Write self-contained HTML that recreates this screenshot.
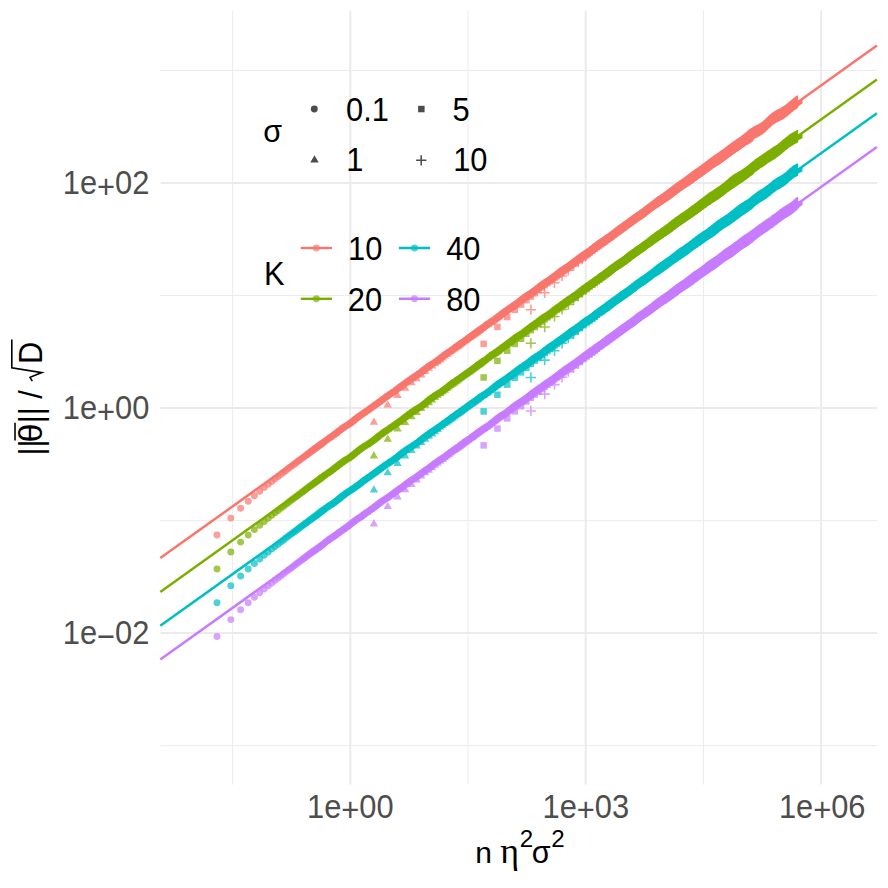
<!DOCTYPE html>
<html><head><meta charset="utf-8"><title>plot</title>
<style>html,body{margin:0;padding:0;background:#fff}svg{display:block}text{font-family:"Liberation Sans",sans-serif}</style></head><body>
<svg width="888" height="888" viewBox="0 0 888 888">
<rect width="888" height="888" fill="#fff"/>
<g stroke="#EBEBEB" fill="none">
<path d="M160.5 70.5H877.2" stroke-width="0.95"/>
<path d="M160.5 295.5H877.2" stroke-width="0.95"/>
<path d="M160.5 520.6H877.2" stroke-width="0.95"/>
<path d="M160.5 745.6H877.2" stroke-width="0.95"/>
<path d="M232.60 10.5V784.6" stroke-width="0.95"/>
<path d="M468.00 10.5V784.6" stroke-width="0.95"/>
<path d="M703.41 10.5V784.6" stroke-width="0.95"/>
<path d="M160.5 183.0H877.2" stroke-width="2.0"/>
<path d="M160.5 408.05H877.2" stroke-width="2.0"/>
<path d="M160.5 633.1H877.2" stroke-width="2.0"/>
<path d="M350.30 10.5V784.6" stroke-width="2.0"/>
<path d="M585.71 10.5V784.6" stroke-width="2.0"/>
<path d="M821.12 10.5V784.6" stroke-width="2.0"/>
</g>
<g>
<g fill="#F8766D" fill-opacity="0.7"><circle cx="217.0" cy="535.0" r="3.475"/><circle cx="230.8" cy="518.1" r="3.475"/><circle cx="240.6" cy="508.2" r="3.475"/><circle cx="248.2" cy="501.2" r="3.475"/><circle cx="254.4" cy="495.7" r="3.475"/><circle cx="259.7" cy="491.3" r="3.475"/><circle cx="264.2" cy="487.5" r="3.475"/><circle cx="268.2" cy="484.3" r="3.475"/><circle cx="271.8" cy="481.4" r="3.475"/><circle cx="275.1" cy="478.8" r="3.475"/><circle cx="278.0" cy="476.5" r="3.475"/><circle cx="280.8" cy="474.5" r="3.475"/><circle cx="283.3" cy="472.5" r="3.475"/><circle cx="285.6" cy="470.7" r="3.475"/><circle cx="287.8" cy="468.9" r="3.475"/><circle cx="289.9" cy="467.3" r="3.475"/><circle cx="291.9" cy="465.9" r="3.475"/><circle cx="293.7" cy="464.5" r="3.475"/><circle cx="295.5" cy="463.2" r="3.475"/><circle cx="297.1" cy="461.9" r="3.475"/><circle cx="298.7" cy="460.8" r="3.475"/><circle cx="300.2" cy="459.7" r="3.475"/><circle cx="301.7" cy="458.6" r="3.475"/><circle cx="303.1" cy="457.6" r="3.475"/><circle cx="304.4" cy="456.6" r="3.475"/><circle cx="305.7" cy="455.6" r="3.475"/><circle cx="306.9" cy="454.7" r="3.475"/><circle cx="308.1" cy="453.8" r="3.475"/><circle cx="309.3" cy="452.9" r="3.475"/><circle cx="310.4" cy="452.0" r="3.475"/><circle cx="311.5" cy="451.2" r="3.475"/><circle cx="312.5" cy="450.4" r="3.475"/><circle cx="313.5" cy="449.7" r="3.475"/><circle cx="314.5" cy="448.9" r="3.475"/><circle cx="315.5" cy="448.3" r="3.475"/><circle cx="316.4" cy="447.6" r="3.475"/><circle cx="317.3" cy="446.9" r="3.475"/><circle cx="318.2" cy="446.3" r="3.475"/><circle cx="319.1" cy="445.7" r="3.475"/><circle cx="319.9" cy="445.1" r="3.475"/><circle cx="320.7" cy="444.5" r="3.475"/><circle cx="321.5" cy="443.9" r="3.475"/><circle cx="322.3" cy="443.3" r="3.475"/><circle cx="323.1" cy="442.7" r="3.475"/></g>
<path fill="none" stroke="#F8766D" stroke-width="6.95" stroke-linecap="round" d="M324.6 441.6h0M326.0 440.6h0M327.4 439.6h0M328.7 438.6h0M329.9 437.8h0M331.1 436.9h0M332.3 436.1h0M333.5 435.3h0M334.6 434.5h0M335.6 433.7h0M336.7 432.9h0M337.7 432.1h0M338.6 431.3h0M339.6 430.6h0M340.5 429.9h0M341.4 429.2h0M342.3 428.5h0M343.1 427.9h0M344.0 427.4h0M344.8 426.8h0M345.9 426.1h0M347.1 425.4h0M348.2 424.7h0M349.3 423.9h0M350.3 423.2h0M351.3 422.5h0M352.3 421.7h0M353.2 421.0h0M354.2 420.3h0M355.1 419.5h0M355.9 418.8h0M356.8 418.2h0M357.6 417.5h0M358.4 416.9h0M359.5 416.1h0M360.5 415.4h0M361.5 414.7h0M362.5 414.1h0M363.4 413.4h0M364.3 412.8h0M365.2 412.2h0M366.1 411.6h0M367.0 411.0h0M367.8 410.4h0M368.6 409.9h0M369.6 409.1h0M370.5 408.5h0M371.4 407.8h0M372.4 407.1h0M373.2 406.5h0M374.1 405.9h0M374.9 405.3h0M375.7 404.7h0M376.7 404.0h0M377.6 403.4h0M378.5 402.7h0M379.4 402.0h0M380.3 401.4h0M381.1 400.8h0M381.9 400.1h0M382.9 399.4h0M383.8 398.7h0M384.7 398.1h0M385.5 397.5h0M386.3 396.9h0M387.2 396.3h0M388.1 395.7h0M389.0 395.1h0M389.8 394.5h0M390.7 394.0h0M391.5 393.4h0M392.3 392.9h0M393.2 392.3h0M394.0 391.7h0M394.9 391.1h0M395.7 390.5h0M396.6 389.8h0M397.5 389.1h0M398.3 388.5h0M399.1 387.9h0M399.9 387.3h0M400.8 386.7h0M401.6 386.0h0M402.5 385.4h0M403.3 384.8h0M404.1 384.2h0M404.9 383.6h0M405.8 383.0h0M406.6 382.4h0M407.5 381.8h0M408.3 381.2h0M409.1 380.6h0M410.0 380.0h0M410.8 379.4h0M411.6 378.8h0M412.5 378.2h0M413.3 377.7h0M414.1 377.1h0M415.0 376.5h0M415.8 376.0h0M416.6 375.5h0M417.4 374.9h0M418.3 374.3h0M419.1 373.8h0M419.9 373.2h0M420.7 372.6h0M421.5 372.0h0M422.4 371.3h0M423.2 370.7h0M424.0 370.0h0M424.8 369.4h0M425.7 368.7h0M426.5 368.1h0M427.3 367.4h0M428.1 366.8h0M428.9 366.2h0M429.7 365.7h0M430.6 365.2h0M431.4 364.6h0M432.2 364.1h0M433.0 363.6h0M433.8 363.1h0M434.6 362.6h0M435.5 362.0h0M436.3 361.5h0M437.1 360.9h0M437.9 360.3h0M438.7 359.7h0M439.5 359.1h0M440.3 358.4h0M441.1 357.8h0M442.0 357.2h0M442.8 356.5h0M443.6 355.9h0M444.4 355.3h0M445.2 354.7h0M446.0 354.2h0M446.8 353.6h0M447.6 353.0h0M448.4 352.5h0M449.3 352.0h0M450.1 351.4h0M450.9 350.9h0M451.7 350.3h0M452.5 349.7h0M453.3 349.1h0M454.1 348.5h0M454.9 347.9h0M455.7 347.3h0M456.5 346.7h0M457.3 346.1h0M458.1 345.5h0M458.9 345.0h0M459.8 344.4h0M460.6 343.8h0M461.4 343.3h0M462.2 342.7h0M463.0 342.2h0M463.8 341.6h0M464.6 341.1h0M465.4 340.5h0M466.2 340.0h0M467.0 339.4h0M467.8 338.8h0M468.6 338.2h0M469.4 337.6h0M470.2 337.0h0M471.0 336.4h0M471.8 335.8h0M472.6 335.2h0M473.4 334.6h0M474.3 334.0h0M475.1 333.4h0M475.9 332.8h0M476.7 332.2h0M477.5 331.7h0M478.3 331.1h0M479.1 330.5h0M479.9 330.0h0M480.7 329.4h0M481.5 328.9h0M482.3 328.3h0M483.1 327.8h0M483.6 327.4h0"/>
<g fill="#F8766D" fill-opacity="0.7"><path d="M373.9 417.5l4.21 7.30h-8.42z"/><path d="M387.7 400.3l4.21 7.30h-8.42z"/><path d="M397.5 390.8l4.21 7.30h-8.42z"/><path d="M405.1 383.5l4.21 7.30h-8.42z"/><path d="M411.4 377.9l4.21 7.30h-8.42z"/><path d="M416.6 373.9l4.21 7.30h-8.42z"/><path d="M421.2 370.2l4.21 7.30h-8.42z"/><path d="M425.2 366.6l4.21 7.30h-8.42z"/><path d="M428.8 363.5l4.21 7.30h-8.42z"/><path d="M432.0 361.1l4.21 7.30h-8.42z"/><path d="M435.0 359.0l4.21 7.30h-8.42z"/><path d="M437.7 357.1l4.21 7.30h-8.42z"/><path d="M440.2 355.1l4.21 7.30h-8.42z"/><path d="M442.6 353.1l4.21 7.30h-8.42z"/><path d="M444.8 351.3l4.21 7.30h-8.42z"/><path d="M446.9 349.6l4.21 7.30h-8.42z"/><path d="M448.8 348.1l4.21 7.30h-8.42z"/><path d="M450.6 346.7l4.21 7.30h-8.42z"/><path d="M452.4 345.5l4.21 7.30h-8.42z"/><path d="M454.1 344.4l4.21 7.30h-8.42z"/><path d="M455.6 343.3l4.21 7.30h-8.42z"/><path d="M457.2 342.3l4.21 7.30h-8.42z"/><path d="M458.6 341.2l4.21 7.30h-8.42z"/><path d="M460.0 340.1l4.21 7.30h-8.42z"/><path d="M461.3 339.0l4.21 7.30h-8.42z"/><path d="M462.6 337.9l4.21 7.30h-8.42z"/><path d="M463.9 336.9l4.21 7.30h-8.42z"/><path d="M465.1 336.0l4.21 7.30h-8.42z"/><path d="M466.2 335.1l4.21 7.30h-8.42z"/><path d="M467.3 334.3l4.21 7.30h-8.42z"/><path d="M468.4 333.5l4.21 7.30h-8.42z"/><path d="M469.5 332.8l4.21 7.30h-8.42z"/><path d="M470.5 332.1l4.21 7.30h-8.42z"/><path d="M471.5 331.4l4.21 7.30h-8.42z"/><path d="M472.4 330.8l4.21 7.30h-8.42z"/><path d="M473.4 330.1l4.21 7.30h-8.42z"/><path d="M474.3 329.5l4.21 7.30h-8.42z"/><path d="M475.2 328.9l4.21 7.30h-8.42z"/><path d="M476.0 328.3l4.21 7.30h-8.42z"/><path d="M476.9 327.7l4.21 7.30h-8.42z"/><path d="M477.7 327.0l4.21 7.30h-8.42z"/><path d="M478.5 326.4l4.21 7.30h-8.42z"/><path d="M479.3 325.8l4.21 7.30h-8.42z"/><path d="M480.0 325.2l4.21 7.30h-8.42z"/></g>
<path fill="#F8766D" d="M481.5 324.0l4.2 7.3h-8.4zM482.9 322.9l4.2 7.3h-8.4zM484.3 321.8l4.2 7.3h-8.4zM485.6 320.8l4.2 7.3h-8.4zM486.9 319.9l4.2 7.3h-8.4zM488.1 319.1l4.2 7.3h-8.4zM489.3 318.3l4.2 7.3h-8.4zM490.4 317.6l4.2 7.3h-8.4zM491.5 316.9l4.2 7.3h-8.4zM492.6 316.2l4.2 7.3h-8.4zM493.6 315.5l4.2 7.3h-8.4zM494.6 314.7l4.2 7.3h-8.4zM495.6 314.0l4.2 7.3h-8.4zM496.5 313.3l4.2 7.3h-8.4zM497.4 312.6l4.2 7.3h-8.4zM498.3 311.9l4.2 7.3h-8.4zM499.2 311.2l4.2 7.3h-8.4zM500.1 310.5l4.2 7.3h-8.4zM500.9 309.9l4.2 7.3h-8.4zM501.7 309.2l4.2 7.3h-8.4zM502.9 308.3l4.2 7.3h-8.4zM504.0 307.5l4.2 7.3h-8.4zM505.1 306.7l4.2 7.3h-8.4zM506.2 305.9l4.2 7.3h-8.4zM507.2 305.2l4.2 7.3h-8.4zM508.2 304.6l4.2 7.3h-8.4zM509.2 303.9l4.2 7.3h-8.4zM510.2 303.3l4.2 7.3h-8.4zM511.1 302.7l4.2 7.3h-8.4zM512.0 302.1l4.2 7.3h-8.4zM512.9 301.5l4.2 7.3h-8.4zM513.7 300.9l4.2 7.3h-8.4zM514.6 300.3l4.2 7.3h-8.4zM515.4 299.7l4.2 7.3h-8.4zM516.4 298.9l4.2 7.3h-8.4zM517.5 298.1l4.2 7.3h-8.4zM518.5 297.3l4.2 7.3h-8.4zM519.4 296.5l4.2 7.3h-8.4zM520.4 295.8l4.2 7.3h-8.4zM521.3 295.1l4.2 7.3h-8.4zM522.2 294.4l4.2 7.3h-8.4zM523.0 293.8l4.2 7.3h-8.4zM523.9 293.2l4.2 7.3h-8.4zM524.7 292.6l4.2 7.3h-8.4zM525.5 292.1l4.2 7.3h-8.4zM526.5 291.4l4.2 7.3h-8.4zM527.5 290.8l4.2 7.3h-8.4zM528.4 290.2l4.2 7.3h-8.4zM529.3 289.6l4.2 7.3h-8.4zM530.2 289.0l4.2 7.3h-8.4zM531.0 288.4l4.2 7.3h-8.4zM531.9 287.8l4.2 7.3h-8.4zM532.7 287.2l4.2 7.3h-8.4zM533.6 286.5l4.2 7.3h-8.4zM534.6 285.8l4.2 7.3h-8.4zM535.5 285.1l4.2 7.3h-8.4zM536.4 284.4l4.2 7.3h-8.4zM537.2 283.8l4.2 7.3h-8.4zM538.1 283.1l4.2 7.3h-8.4zM538.9 282.5l4.2 7.3h-8.4zM539.8 281.8l4.2 7.3h-8.4zM540.7 281.1l4.2 7.3h-8.4zM541.6 280.5l4.2 7.3h-8.4zM542.4 279.9l4.2 7.3h-8.4zM543.3 279.3l4.2 7.3h-8.4zM544.1 278.8l4.2 7.3h-8.4zM545.0 278.2l4.2 7.3h-8.4zM545.9 277.6l4.2 7.3h-8.4zM546.8 277.0l4.2 7.3h-8.4zM547.6 276.4l4.2 7.3h-8.4zM548.4 275.9l4.2 7.3h-8.4zM549.2 275.3l4.2 7.3h-8.4zM550.1 274.7l4.2 7.3h-8.4zM551.0 274.1l4.2 7.3h-8.4zM551.8 273.5l4.2 7.3h-8.4zM552.6 272.8l4.2 7.3h-8.4zM553.5 272.2l4.2 7.3h-8.4zM554.4 271.5l4.2 7.3h-8.4zM555.2 270.8l4.2 7.3h-8.4zM556.1 270.2l4.2 7.3h-8.4zM556.9 269.5l4.2 7.3h-8.4zM557.7 268.9l4.2 7.3h-8.4zM558.6 268.2l4.2 7.3h-8.4zM559.4 267.6l4.2 7.3h-8.4zM560.2 267.1l4.2 7.3h-8.4zM561.1 266.5l4.2 7.3h-8.4zM561.9 265.9l4.2 7.3h-8.4zM562.7 265.4l4.2 7.3h-8.4zM563.6 264.8l4.2 7.3h-8.4zM564.4 264.3l4.2 7.3h-8.4zM565.2 263.8l4.2 7.3h-8.4zM566.1 263.2l4.2 7.3h-8.4zM566.9 262.7l4.2 7.3h-8.4zM567.7 262.2l4.2 7.3h-8.4zM568.6 261.6l4.2 7.3h-8.4zM569.4 261.0l4.2 7.3h-8.4zM570.2 260.4l4.2 7.3h-8.4zM571.1 259.7l4.2 7.3h-8.4zM571.9 259.1l4.2 7.3h-8.4zM572.7 258.5l4.2 7.3h-8.4zM573.6 257.8l4.2 7.3h-8.4zM574.4 257.1l4.2 7.3h-8.4zM575.2 256.4l4.2 7.3h-8.4zM576.0 255.8l4.2 7.3h-8.4zM576.8 255.1l4.2 7.3h-8.4zM577.7 254.5l4.2 7.3h-8.4zM578.5 253.9l4.2 7.3h-8.4zM579.3 253.3l4.2 7.3h-8.4zM580.1 252.7l4.2 7.3h-8.4zM581.0 252.2l4.2 7.3h-8.4zM581.8 251.6l4.2 7.3h-8.4zM582.6 251.1l4.2 7.3h-8.4zM583.4 250.6l4.2 7.3h-8.4zM584.2 250.1l4.2 7.3h-8.4zM585.1 249.6l4.2 7.3h-8.4zM585.9 249.1l4.2 7.3h-8.4zM586.7 248.6l4.2 7.3h-8.4zM587.5 248.0l4.2 7.3h-8.4zM588.3 247.5l4.2 7.3h-8.4zM589.1 246.9l4.2 7.3h-8.4zM590.0 246.3l4.2 7.3h-8.4zM590.8 245.7l4.2 7.3h-8.4zM591.6 245.1l4.2 7.3h-8.4zM592.4 244.4l4.2 7.3h-8.4zM593.2 243.8l4.2 7.3h-8.4zM594.0 243.1l4.2 7.3h-8.4zM594.8 242.5l4.2 7.3h-8.4zM595.7 241.8l4.2 7.3h-8.4zM596.5 241.2l4.2 7.3h-8.4zM597.3 240.5l4.2 7.3h-8.4zM598.1 239.9l4.2 7.3h-8.4zM598.9 239.3l4.2 7.3h-8.4zM599.7 238.7l4.2 7.3h-8.4zM600.5 238.2l4.2 7.3h-8.4zM601.3 237.6l4.2 7.3h-8.4zM602.1 237.1l4.2 7.3h-8.4zM602.9 236.6l4.2 7.3h-8.4zM603.8 236.0l4.2 7.3h-8.4zM604.6 235.5l4.2 7.3h-8.4zM605.4 235.0l4.2 7.3h-8.4zM606.2 234.5l4.2 7.3h-8.4zM607.0 234.0l4.2 7.3h-8.4zM607.8 233.4l4.2 7.3h-8.4zM608.6 232.9l4.2 7.3h-8.4zM609.4 232.3l4.2 7.3h-8.4zM610.2 231.7l4.2 7.3h-8.4zM611.0 231.1l4.2 7.3h-8.4zM611.8 230.5l4.2 7.3h-8.4zM612.7 229.9l4.2 7.3h-8.4zM613.5 229.3l4.2 7.3h-8.4zM614.3 228.7l4.2 7.3h-8.4zM615.1 228.0l4.2 7.3h-8.4zM615.9 227.4l4.2 7.3h-8.4zM616.7 226.8l4.2 7.3h-8.4zM617.5 226.2l4.2 7.3h-8.4zM618.3 225.6l4.2 7.3h-8.4zM619.1 225.0l4.2 7.3h-8.4zM619.9 224.4l4.2 7.3h-8.4zM620.7 223.8l4.2 7.3h-8.4zM621.5 223.2l4.2 7.3h-8.4zM622.3 222.7l4.2 7.3h-8.4zM623.1 222.1l4.2 7.3h-8.4zM623.9 221.6l4.2 7.3h-8.4zM624.7 221.0l4.2 7.3h-8.4zM625.5 220.5l4.2 7.3h-8.4zM626.3 220.0l4.2 7.3h-8.4zM627.2 219.4l4.2 7.3h-8.4zM628.0 218.9l4.2 7.3h-8.4zM628.8 218.3l4.2 7.3h-8.4zM629.6 217.7l4.2 7.3h-8.4zM630.4 217.2l4.2 7.3h-8.4zM631.2 216.6l4.2 7.3h-8.4zM632.0 216.0l4.2 7.3h-8.4zM632.8 215.5l4.2 7.3h-8.4zM633.6 214.9l4.2 7.3h-8.4zM634.4 214.3l4.2 7.3h-8.4zM635.2 213.7l4.2 7.3h-8.4zM636.0 213.1l4.2 7.3h-8.4zM636.8 212.5l4.2 7.3h-8.4zM637.6 211.9l4.2 7.3h-8.4zM638.4 211.3l4.2 7.3h-8.4zM639.2 210.7l4.2 7.3h-8.4zM640.0 210.1l4.2 7.3h-8.4zM640.6 209.8l4.2 7.3h-8.4z"/>
<g fill="#F8766D" fill-opacity="0.7"><rect x="480.4" y="340.6" width="6.5" height="6.5"/><rect x="494.2" y="323.7" width="6.5" height="6.5"/><rect x="504.0" y="313.8" width="6.5" height="6.5"/><rect x="511.6" y="306.6" width="6.5" height="6.5"/><rect x="517.8" y="301.3" width="6.5" height="6.5"/><rect x="523.1" y="296.9" width="6.5" height="6.5"/><rect x="527.6" y="293.3" width="6.5" height="6.5"/><rect x="531.6" y="290.0" width="6.5" height="6.5"/><rect x="535.2" y="286.9" width="6.5" height="6.5"/><rect x="538.5" y="284.2" width="6.5" height="6.5"/><rect x="541.4" y="281.9" width="6.5" height="6.5"/><rect x="544.2" y="279.9" width="6.5" height="6.5"/><rect x="546.7" y="278.0" width="6.5" height="6.5"/><rect x="549.0" y="276.2" width="6.5" height="6.5"/><rect x="551.2" y="274.6" width="6.5" height="6.5"/><rect x="553.3" y="273.1" width="6.5" height="6.5"/><rect x="555.2" y="271.7" width="6.5" height="6.5"/><rect x="557.1" y="270.3" width="6.5" height="6.5"/><rect x="558.8" y="269.0" width="6.5" height="6.5"/><rect x="560.5" y="267.7" width="6.5" height="6.5"/><rect x="562.1" y="266.4" width="6.5" height="6.5"/><rect x="563.6" y="265.1" width="6.5" height="6.5"/><rect x="565.1" y="263.9" width="6.5" height="6.5"/><rect x="566.4" y="262.8" width="6.5" height="6.5"/><rect x="567.8" y="261.7" width="6.5" height="6.5"/><rect x="569.1" y="260.7" width="6.5" height="6.5"/><rect x="570.3" y="259.9" width="6.5" height="6.5"/><rect x="571.5" y="259.1" width="6.5" height="6.5"/><rect x="572.7" y="258.3" width="6.5" height="6.5"/><rect x="573.8" y="257.6" width="6.5" height="6.5"/><rect x="574.9" y="256.9" width="6.5" height="6.5"/><rect x="575.9" y="256.2" width="6.5" height="6.5"/><rect x="576.9" y="255.6" width="6.5" height="6.5"/><rect x="577.9" y="254.9" width="6.5" height="6.5"/><rect x="578.9" y="254.2" width="6.5" height="6.5"/><rect x="579.8" y="253.5" width="6.5" height="6.5"/><rect x="580.7" y="252.8" width="6.5" height="6.5"/><rect x="581.6" y="252.1" width="6.5" height="6.5"/><rect x="582.5" y="251.5" width="6.5" height="6.5"/><rect x="583.3" y="250.8" width="6.5" height="6.5"/><rect x="584.1" y="250.1" width="6.5" height="6.5"/><rect x="584.9" y="249.5" width="6.5" height="6.5"/><rect x="585.7" y="248.9" width="6.5" height="6.5"/><rect x="586.5" y="248.3" width="6.5" height="6.5"/></g>
<path fill="#F8766D" d="M587.96 247.17h6.5v6.5h-6.5zM589.38 246.09h6.5v6.5h-6.5zM590.74 245.06h6.5v6.5h-6.5zM592.05 244.07h6.5v6.5h-6.5zM593.31 243.11h6.5v6.5h-6.5zM594.53 242.20h6.5v6.5h-6.5zM595.71 241.34h6.5v6.5h-6.5zM596.84 240.52h6.5v6.5h-6.5zM597.94 239.74h6.5v6.5h-6.5zM599.01 239.01h6.5v6.5h-6.5zM600.04 238.32h6.5v6.5h-6.5zM601.04 237.66h6.5v6.5h-6.5zM602.01 237.03h6.5v6.5h-6.5zM602.96 236.41h6.5v6.5h-6.5zM603.88 235.81h6.5v6.5h-6.5zM604.78 235.21h6.5v6.5h-6.5zM605.65 234.61h6.5v6.5h-6.5zM606.51 234.01h6.5v6.5h-6.5zM607.34 233.41h6.5v6.5h-6.5zM608.15 232.80h6.5v6.5h-6.5zM609.33 231.90h6.5v6.5h-6.5zM610.47 231.01h6.5v6.5h-6.5zM611.58 230.14h6.5v6.5h-6.5zM612.65 229.29h6.5v6.5h-6.5zM613.69 228.49h6.5v6.5h-6.5zM614.69 227.72h6.5v6.5h-6.5zM615.67 226.98h6.5v6.5h-6.5zM616.62 226.29h6.5v6.5h-6.5zM617.55 225.62h6.5v6.5h-6.5zM618.45 224.98h6.5v6.5h-6.5zM619.33 224.36h6.5v6.5h-6.5zM620.18 223.76h6.5v6.5h-6.5zM621.02 223.17h6.5v6.5h-6.5zM621.83 222.59h6.5v6.5h-6.5zM622.89 221.82h6.5v6.5h-6.5zM623.91 221.08h6.5v6.5h-6.5zM624.91 220.34h6.5v6.5h-6.5zM625.88 219.63h6.5v6.5h-6.5zM626.82 218.94h6.5v6.5h-6.5zM627.73 218.27h6.5v6.5h-6.5zM628.62 217.64h6.5v6.5h-6.5zM629.49 217.03h6.5v6.5h-6.5zM630.34 216.45h6.5v6.5h-6.5zM631.16 215.90h6.5v6.5h-6.5zM631.97 215.37h6.5v6.5h-6.5zM632.95 214.73h6.5v6.5h-6.5zM633.91 214.12h6.5v6.5h-6.5zM634.84 213.51h6.5v6.5h-6.5zM635.74 212.91h6.5v6.5h-6.5zM636.62 212.31h6.5v6.5h-6.5zM637.48 211.71h6.5v6.5h-6.5zM638.32 211.10h6.5v6.5h-6.5zM639.13 210.49h6.5v6.5h-6.5zM640.09 209.76h6.5v6.5h-6.5zM641.02 209.02h6.5v6.5h-6.5zM641.92 208.30h6.5v6.5h-6.5zM642.80 207.58h6.5v6.5h-6.5zM643.66 206.89h6.5v6.5h-6.5zM644.50 206.22h6.5v6.5h-6.5zM645.32 205.57h6.5v6.5h-6.5zM646.25 204.85h6.5v6.5h-6.5zM647.15 204.17h6.5v6.5h-6.5zM648.04 203.52h6.5v6.5h-6.5zM648.90 202.91h6.5v6.5h-6.5zM649.73 202.32h6.5v6.5h-6.5zM650.55 201.76h6.5v6.5h-6.5zM651.47 201.15h6.5v6.5h-6.5zM652.35 200.40h6.5v6.5h-6.5zM652.35 200.71h6.5v6.5h-6.5zM653.22 199.81h6.5v6.5h-6.5zM653.22 200.14h6.5v6.5h-6.5zM654.06 199.24h6.5v6.5h-6.5zM654.06 199.58h6.5v6.5h-6.5zM654.89 198.68h6.5v6.5h-6.5zM654.89 199.04h6.5v6.5h-6.5zM655.69 198.13h6.5v6.5h-6.5zM655.69 198.51h6.5v6.5h-6.5zM656.57 197.53h6.5v6.5h-6.5zM656.57 197.92h6.5v6.5h-6.5zM657.43 196.93h6.5v6.5h-6.5zM657.43 197.35h6.5v6.5h-6.5zM658.27 196.35h6.5v6.5h-6.5zM658.27 196.79h6.5v6.5h-6.5zM659.09 195.79h6.5v6.5h-6.5zM659.09 196.24h6.5v6.5h-6.5zM659.98 195.18h6.5v6.5h-6.5zM659.98 195.64h6.5v6.5h-6.5zM660.84 194.58h6.5v6.5h-6.5zM660.84 195.06h6.5v6.5h-6.5zM661.69 193.99h6.5v6.5h-6.5zM661.69 194.49h6.5v6.5h-6.5zM662.51 193.41h6.5v6.5h-6.5zM662.51 193.93h6.5v6.5h-6.5zM663.32 192.85h6.5v6.5h-6.5zM663.32 193.38h6.5v6.5h-6.5zM664.18 192.23h6.5v6.5h-6.5zM664.18 192.78h6.5v6.5h-6.5zM665.02 191.62h6.5v6.5h-6.5zM665.02 192.18h6.5v6.5h-6.5zM665.84 191.01h6.5v6.5h-6.5zM665.84 191.59h6.5v6.5h-6.5zM666.64 190.40h6.5v6.5h-6.5zM666.64 191.00h6.5v6.5h-6.5zM667.50 189.74h6.5v6.5h-6.5zM667.50 190.35h6.5v6.5h-6.5zM668.33 189.08h6.5v6.5h-6.5zM668.33 189.71h6.5v6.5h-6.5zM669.14 188.42h6.5v6.5h-6.5zM669.14 189.07h6.5v6.5h-6.5zM670.00 187.72h6.5v6.5h-6.5zM670.00 188.39h6.5v6.5h-6.5zM670.84 187.03h6.5v6.5h-6.5zM670.84 187.72h6.5v6.5h-6.5zM671.66 186.36h6.5v6.5h-6.5zM671.66 187.06h6.5v6.5h-6.5zM672.52 185.67h6.5v6.5h-6.5zM672.52 186.38h6.5v6.5h-6.5zM673.36 185.00h6.5v6.5h-6.5zM673.36 185.73h6.5v6.5h-6.5zM674.18 184.36h6.5v6.5h-6.5zM674.18 185.11h6.5v6.5h-6.5zM675.03 183.71h6.5v6.5h-6.5zM675.03 184.48h6.5v6.5h-6.5zM675.87 183.10h6.5v6.5h-6.5zM675.87 183.88h6.5v6.5h-6.5zM676.68 182.53h6.5v6.5h-6.5zM676.68 183.33h6.5v6.5h-6.5zM677.53 181.95h6.5v6.5h-6.5zM677.53 182.77h6.5v6.5h-6.5zM678.36 181.41h6.5v6.5h-6.5zM678.36 182.24h6.5v6.5h-6.5zM679.16 180.89h6.5v6.5h-6.5zM679.16 181.74h6.5v6.5h-6.5zM680.00 180.37h6.5v6.5h-6.5zM680.00 181.23h6.5v6.5h-6.5zM680.82 179.85h6.5v6.5h-6.5zM680.82 180.74h6.5v6.5h-6.5zM681.66 179.32h6.5v6.5h-6.5zM681.66 180.22h6.5v6.5h-6.5zM682.49 178.80h6.5v6.5h-6.5zM682.49 179.71h6.5v6.5h-6.5zM683.29 178.27h6.5v6.5h-6.5zM683.29 179.20h6.5v6.5h-6.5zM684.12 177.71h6.5v6.5h-6.5zM684.12 178.66h6.5v6.5h-6.5zM684.93 177.15h6.5v6.5h-6.5zM684.93 178.11h6.5v6.5h-6.5zM685.77 176.56h6.5v6.5h-6.5zM685.77 177.54h6.5v6.5h-6.5zM686.58 175.96h6.5v6.5h-6.5zM686.58 176.95h6.5v6.5h-6.5zM687.41 175.33h6.5v6.5h-6.5zM687.41 176.34h6.5v6.5h-6.5zM688.22 174.71h6.5v6.5h-6.5zM688.22 175.74h6.5v6.5h-6.5zM689.05 174.06h6.5v6.5h-6.5zM689.05 175.11h6.5v6.5h-6.5zM689.87 173.43h6.5v6.5h-6.5zM689.87 174.50h6.5v6.5h-6.5zM690.69 172.79h6.5v6.5h-6.5zM690.69 173.87h6.5v6.5h-6.5zM691.50 172.17h6.5v6.5h-6.5zM691.50 173.26h6.5v6.5h-6.5zM692.33 171.54h6.5v6.5h-6.5zM692.33 172.65h6.5v6.5h-6.5zM693.13 170.93h6.5v6.5h-6.5zM693.13 172.06h6.5v6.5h-6.5zM693.95 170.32h6.5v6.5h-6.5zM693.95 171.46h6.5v6.5h-6.5zM694.78 169.71h6.5v6.5h-6.5zM694.78 170.87h6.5v6.5h-6.5zM695.59 169.12h6.5v6.5h-6.5zM695.59 170.29h6.5v6.5h-6.5zM696.41 168.52h6.5v6.5h-6.5zM696.41 169.71h6.5v6.5h-6.5zM697.21 167.93h6.5v6.5h-6.5zM697.21 169.14h6.5v6.5h-6.5zM698.03 167.34h6.5v6.5h-6.5zM698.03 168.57h6.5v6.5h-6.5zM698.85 166.74h6.5v6.5h-6.5zM698.85 167.98h6.5v6.5h-6.5zM699.65 166.15h6.5v6.5h-6.5zM699.65 167.40h6.5v6.5h-6.5zM700.46 165.54h6.5v6.5h-6.5zM700.46 166.82h6.5v6.5h-6.5zM701.28 164.93h6.5v6.5h-6.5zM701.28 166.22h6.5v6.5h-6.5zM702.10 164.30h6.5v6.5h-6.5zM702.10 165.61h6.5v6.5h-6.5zM702.91 163.69h6.5v6.5h-6.5zM702.91 165.02h6.5v6.5h-6.5zM703.72 163.08h6.5v6.5h-6.5zM703.72 164.42h6.5v6.5h-6.5zM704.54 162.47h6.5v6.5h-6.5zM704.54 163.82h6.5v6.5h-6.5zM705.36 161.86h6.5v6.5h-6.5zM705.36 163.23h6.5v6.5h-6.5zM706.16 161.28h6.5v6.5h-6.5zM706.16 162.67h6.5v6.5h-6.5zM706.96 160.71h6.5v6.5h-6.5zM706.96 162.11h6.5v6.5h-6.5zM707.77 160.15h6.5v6.5h-6.5zM707.77 161.57h6.5v6.5h-6.5zM708.58 159.60h6.5v6.5h-6.5zM708.58 161.03h6.5v6.5h-6.5zM709.39 159.06h6.5v6.5h-6.5zM709.39 160.51h6.5v6.5h-6.5zM710.20 158.53h6.5v6.5h-6.5zM710.20 159.99h6.5v6.5h-6.5zM711.01 158.00h6.5v6.5h-6.5zM711.01 159.48h6.5v6.5h-6.5zM711.83 157.47h6.5v6.5h-6.5zM711.83 158.97h6.5v6.5h-6.5zM712.64 156.94h6.5v6.5h-6.5zM712.64 158.46h6.5v6.5h-6.5zM713.45 156.40h6.5v6.5h-6.5zM713.45 157.94h6.5v6.5h-6.5zM714.26 155.85h6.5v6.5h-6.5zM714.26 157.40h6.5v6.5h-6.5zM715.07 155.29h6.5v6.5h-6.5zM715.07 156.86h6.5v6.5h-6.5zM715.88 154.71h6.5v6.5h-6.5zM715.88 156.30h6.5v6.5h-6.5zM716.69 154.12h6.5v6.5h-6.5zM716.69 155.72h6.5v6.5h-6.5zM717.49 153.52h6.5v6.5h-6.5zM717.49 155.13h6.5v6.5h-6.5zM718.29 152.91h6.5v6.5h-6.5zM718.29 154.54h6.5v6.5h-6.5zM719.10 152.27h6.5v6.5h-6.5zM719.10 153.92h6.5v6.5h-6.5zM719.91 151.64h6.5v6.5h-6.5zM719.91 153.31h6.5v6.5h-6.5zM720.72 151.01h6.5v6.5h-6.5zM720.72 152.69h6.5v6.5h-6.5zM721.52 150.39h6.5v6.5h-6.5zM721.52 152.08h6.5v6.5h-6.5zM722.33 149.76h6.5v6.5h-6.5zM722.33 151.47h6.5v6.5h-6.5zM723.14 149.14h6.5v6.5h-6.5zM723.14 150.87h6.5v6.5h-6.5zM723.94 148.54h6.5v6.5h-6.5zM723.94 150.28h6.5v6.5h-6.5zM724.75 147.93h6.5v6.5h-6.5zM724.75 149.69h6.5v6.5h-6.5zM725.55 147.34h6.5v6.5h-6.5zM725.55 149.12h6.5v6.5h-6.5zM726.36 146.74h6.5v6.5h-6.5zM726.36 148.53h6.5v6.5h-6.5zM727.16 146.15h6.5v6.5h-6.5zM727.16 147.96h6.5v6.5h-6.5zM727.97 145.55h6.5v6.5h-6.5zM727.97 147.37h6.5v6.5h-6.5zM728.77 144.95h6.5v6.5h-6.5zM728.77 146.79h6.5v6.5h-6.5zM729.57 144.34h6.5v6.5h-6.5zM729.57 146.20h6.5v6.5h-6.5zM730.38 143.72h6.5v6.5h-6.5zM730.38 145.60h6.5v6.5h-6.5zM731.18 143.11h6.5v6.5h-6.5zM731.18 145.00h6.5v6.5h-6.5zM731.99 142.49h6.5v6.5h-6.5zM731.99 144.39h6.5v6.5h-6.5zM732.79 141.87h6.5v6.5h-6.5zM732.79 143.79h6.5v6.5h-6.5zM733.60 141.25h6.5v6.5h-6.5zM733.60 143.19h6.5v6.5h-6.5zM734.41 140.65h6.5v6.5h-6.5zM734.41 142.60h6.5v6.5h-6.5zM735.22 140.06h6.5v6.5h-6.5zM735.22 142.03h6.5v6.5h-6.5zM736.03 139.49h6.5v6.5h-6.5zM736.03 141.48h6.5v6.5h-6.5zM736.84 138.95h6.5v6.5h-6.5zM736.84 140.95h6.5v6.5h-6.5zM737.64 138.44h6.5v6.5h-6.5zM737.64 140.44h6.5v6.5h-6.5zM738.45 137.96h6.5v6.5h-6.5zM738.45 139.96h6.5v6.5h-6.5zM739.25 137.49h6.5v6.5h-6.5zM739.25 139.49h6.5v6.5h-6.5zM740.06 137.04h6.5v6.5h-6.5zM740.06 139.04h6.5v6.5h-6.5zM740.86 136.60h6.5v6.5h-6.5zM740.86 138.60h6.5v6.5h-6.5zM741.67 136.15h6.5v6.5h-6.5zM741.67 138.15h6.5v6.5h-6.5zM742.47 135.69h6.5v6.5h-6.5zM742.47 137.69h6.5v6.5h-6.5zM743.27 135.21h6.5v6.5h-6.5zM743.27 137.21h6.5v6.5h-6.5zM744.07 134.69h6.5v6.5h-6.5zM744.07 136.69h6.5v6.5h-6.5zM744.87 134.15h6.5v6.5h-6.5zM744.87 136.15h6.5v6.5h-6.5zM745.68 133.56h6.5v6.5h-6.5zM745.68 135.56h6.5v6.5h-6.5zM746.48 132.93h6.5v6.5h-6.5zM746.48 134.93h6.5v6.5h-6.5zM747.00 132.51h6.5v6.5h-6.5zM747.00 134.51h6.5v6.5h-6.5z"/>
<g fill="none" stroke="#F8766D" stroke-width="1.55" stroke-opacity="0.7"><path d="M525.7 309.7h10.30M530.9 304.5v10.30"/><path d="M539.5 292.8h10.30M544.7 287.6v10.30"/><path d="M549.3 282.8h10.30M554.5 277.6v10.30"/><path d="M556.9 275.9h10.30M562.1 270.7v10.30"/><path d="M563.2 270.3h10.30M568.3 265.2v10.30"/><path d="M568.4 265.8h10.30M573.6 260.6v10.30"/><path d="M573.0 262.2h10.30M578.1 257.0v10.30"/><path d="M577.0 259.1h10.30M582.1 254.0v10.30"/><path d="M580.6 256.2h10.30M585.7 251.1v10.30"/><path d="M583.8 253.5h10.30M589.0 248.3v10.30"/><path d="M586.8 251.0h10.30M591.9 245.8v10.30"/><path d="M589.5 248.8h10.30M594.7 243.7v10.30"/><path d="M592.0 246.9h10.30M597.2 241.8v10.30"/><path d="M594.4 245.3h10.30M599.5 240.1v10.30"/><path d="M596.6 243.7h10.30M601.7 238.6v10.30"/><path d="M598.6 242.2h10.30M603.8 237.1v10.30"/><path d="M600.6 240.7h10.30M605.7 235.6v10.30"/><path d="M602.4 239.3h10.30M607.6 234.1v10.30"/><path d="M604.2 237.8h10.30M609.3 232.7v10.30"/><path d="M605.8 236.5h10.30M611.0 231.3v10.30"/><path d="M607.4 235.2h10.30M612.6 230.1v10.30"/><path d="M608.9 234.1h10.30M614.1 228.9v10.30"/><path d="M610.4 233.0h10.30M615.5 227.8v10.30"/><path d="M611.8 232.0h10.30M616.9 226.9v10.30"/><path d="M613.1 231.1h10.30M618.3 225.9v10.30"/><path d="M614.4 230.2h10.30M619.6 225.1v10.30"/><path d="M615.6 229.4h10.30M620.8 224.2v10.30"/><path d="M616.8 228.6h10.30M622.0 223.4v10.30"/><path d="M618.0 227.7h10.30M623.1 222.6v10.30"/><path d="M619.1 226.9h10.30M624.3 221.8v10.30"/><path d="M620.2 226.1h10.30M625.3 221.0v10.30"/><path d="M621.2 225.3h10.30M626.4 220.2v10.30"/><path d="M622.3 224.5h10.30M627.4 219.3v10.30"/><path d="M623.3 223.7h10.30M628.4 218.5v10.30"/><path d="M624.2 222.9h10.30M629.4 217.8v10.30"/><path d="M625.1 222.2h10.30M630.3 217.0v10.30"/><path d="M626.1 221.4h10.30M631.2 216.3v10.30"/><path d="M626.9 220.7h10.30M632.1 215.6v10.30"/><path d="M627.8 220.1h10.30M633.0 214.9v10.30"/><path d="M628.6 219.4h10.30M633.8 214.3v10.30"/><path d="M629.5 218.8h10.30M634.6 213.7v10.30"/><path d="M630.3 218.2h10.30M635.4 213.1v10.30"/><path d="M631.1 217.7h10.30M636.2 212.5v10.30"/><path d="M631.8 217.2h10.30M637.0 212.0v10.30"/></g>
<path fill="none" stroke="#F8766D" stroke-width="1.55" d="M633.3 216.2h10.3m-5.2 -5.2v10.3M634.7 215.2h10.3m-5.2 -5.2v10.3M636.1 214.4h10.3m-5.2 -5.2v10.3M637.4 213.5h10.3m-5.2 -5.2v10.3M638.7 212.6h10.3m-5.2 -5.2v10.3M639.9 211.8h10.3m-5.2 -5.2v10.3M641.0 210.9h10.3m-5.2 -5.2v10.3M642.2 210.0h10.3m-5.2 -5.2v10.3M643.3 209.2h10.3m-5.2 -5.2v10.3M644.3 208.3h10.3m-5.2 -5.2v10.3M645.4 207.5h10.3m-5.2 -5.2v10.3M646.4 206.7h10.3m-5.2 -5.2v10.3M647.4 205.9h10.3m-5.2 -5.2v10.3M648.3 205.2h10.3m-5.2 -5.2v10.3M649.2 204.5h10.3m-5.2 -5.2v10.3M650.1 203.7h10.3m-5.2 -5.2v10.3M650.1 204.0h10.3m-5.2 -5.2v10.3M651.0 203.0h10.3m-5.2 -5.2v10.3M651.0 203.3h10.3m-5.2 -5.2v10.3M651.8 202.4h10.3m-5.2 -5.2v10.3M651.8 202.7h10.3m-5.2 -5.2v10.3M652.7 201.8h10.3m-5.2 -5.2v10.3M652.7 202.2h10.3m-5.2 -5.2v10.3M653.5 201.2h10.3m-5.2 -5.2v10.3M653.5 201.6h10.3m-5.2 -5.2v10.3M654.7 200.4h10.3m-5.2 -5.2v10.3M654.7 200.8h10.3m-5.2 -5.2v10.3M655.8 199.6h10.3m-5.2 -5.2v10.3M655.8 200.0h10.3m-5.2 -5.2v10.3M656.9 198.9h10.3m-5.2 -5.2v10.3M656.9 199.3h10.3m-5.2 -5.2v10.3M658.0 198.1h10.3m-5.2 -5.2v10.3M658.0 198.6h10.3m-5.2 -5.2v10.3M659.0 197.4h10.3m-5.2 -5.2v10.3M659.0 197.9h10.3m-5.2 -5.2v10.3M660.0 196.7h10.3m-5.2 -5.2v10.3M660.0 197.2h10.3m-5.2 -5.2v10.3M661.0 196.0h10.3m-5.2 -5.2v10.3M661.0 196.5h10.3m-5.2 -5.2v10.3M662.0 195.3h10.3m-5.2 -5.2v10.3M662.0 195.9h10.3m-5.2 -5.2v10.3M662.9 194.6h10.3m-5.2 -5.2v10.3M662.9 195.2h10.3m-5.2 -5.2v10.3M663.8 194.0h10.3m-5.2 -5.2v10.3M663.8 194.6h10.3m-5.2 -5.2v10.3M664.7 193.3h10.3m-5.2 -5.2v10.3M664.7 193.9h10.3m-5.2 -5.2v10.3M665.5 192.7h10.3m-5.2 -5.2v10.3M665.5 193.3h10.3m-5.2 -5.2v10.3M666.4 192.1h10.3m-5.2 -5.2v10.3M666.4 192.7h10.3m-5.2 -5.2v10.3M667.2 191.5h10.3m-5.2 -5.2v10.3M667.2 192.1h10.3m-5.2 -5.2v10.3M668.2 190.7h10.3m-5.2 -5.2v10.3M668.2 191.3h10.3m-5.2 -5.2v10.3M669.3 189.9h10.3m-5.2 -5.2v10.3M669.3 190.6h10.3m-5.2 -5.2v10.3M670.3 189.2h10.3m-5.2 -5.2v10.3M670.3 189.9h10.3m-5.2 -5.2v10.3M671.2 188.5h10.3m-5.2 -5.2v10.3M671.2 189.2h10.3m-5.2 -5.2v10.3M672.2 187.8h10.3m-5.2 -5.2v10.3M672.2 188.5h10.3m-5.2 -5.2v10.3M673.1 187.1h10.3m-5.2 -5.2v10.3M673.1 187.9h10.3m-5.2 -5.2v10.3M674.0 186.5h10.3m-5.2 -5.2v10.3M674.0 187.3h10.3m-5.2 -5.2v10.3M674.8 185.8h10.3m-5.2 -5.2v10.3M674.8 186.6h10.3m-5.2 -5.2v10.3M675.7 185.2h10.3m-5.2 -5.2v10.3M675.7 186.0h10.3m-5.2 -5.2v10.3M676.5 184.6h10.3m-5.2 -5.2v10.3M676.5 185.4h10.3m-5.2 -5.2v10.3M677.3 184.0h10.3m-5.2 -5.2v10.3M677.3 184.9h10.3m-5.2 -5.2v10.3M678.3 183.3h10.3m-5.2 -5.2v10.3M678.3 184.1h10.3m-5.2 -5.2v10.3M679.3 182.6h10.3m-5.2 -5.2v10.3M679.3 183.4h10.3m-5.2 -5.2v10.3M680.2 181.9h10.3m-5.2 -5.2v10.3M680.2 182.8h10.3m-5.2 -5.2v10.3M681.1 181.2h10.3m-5.2 -5.2v10.3M681.1 182.1h10.3m-5.2 -5.2v10.3M682.0 180.5h10.3m-5.2 -5.2v10.3M682.0 181.4h10.3m-5.2 -5.2v10.3M682.8 179.9h10.3m-5.2 -5.2v10.3M682.8 180.8h10.3m-5.2 -5.2v10.3M683.7 179.2h10.3m-5.2 -5.2v10.3M683.7 180.2h10.3m-5.2 -5.2v10.3M684.5 178.6h10.3m-5.2 -5.2v10.3M684.5 179.6h10.3m-5.2 -5.2v10.3M685.4 177.9h10.3m-5.2 -5.2v10.3M685.4 178.9h10.3m-5.2 -5.2v10.3M686.4 177.2h10.3m-5.2 -5.2v10.3M686.4 178.3h10.3m-5.2 -5.2v10.3M687.3 176.6h10.3m-5.2 -5.2v10.3M687.3 177.6h10.3m-5.2 -5.2v10.3M688.1 176.0h10.3m-5.2 -5.2v10.3M688.1 177.0h10.3m-5.2 -5.2v10.3M689.0 175.4h10.3m-5.2 -5.2v10.3M689.0 176.5h10.3m-5.2 -5.2v10.3M689.8 174.8h10.3m-5.2 -5.2v10.3M689.8 175.9h10.3m-5.2 -5.2v10.3M690.7 174.3h10.3m-5.2 -5.2v10.3M690.7 175.4h10.3m-5.2 -5.2v10.3M691.6 173.6h10.3m-5.2 -5.2v10.3M691.6 174.8h10.3m-5.2 -5.2v10.3M692.5 173.0h10.3m-5.2 -5.2v10.3M692.5 174.2h10.3m-5.2 -5.2v10.3M693.4 172.4h10.3m-5.2 -5.2v10.3M693.4 173.6h10.3m-5.2 -5.2v10.3M694.2 171.8h10.3m-5.2 -5.2v10.3M694.2 173.0h10.3m-5.2 -5.2v10.3M695.1 171.3h10.3m-5.2 -5.2v10.3M695.1 172.5h10.3m-5.2 -5.2v10.3M695.9 170.7h10.3m-5.2 -5.2v10.3M695.9 171.9h10.3m-5.2 -5.2v10.3M696.8 170.0h10.3m-5.2 -5.2v10.3M696.8 171.3h10.3m-5.2 -5.2v10.3M697.7 169.4h10.3m-5.2 -5.2v10.3M697.7 170.6h10.3m-5.2 -5.2v10.3M698.6 168.7h10.3m-5.2 -5.2v10.3M698.6 170.0h10.3m-5.2 -5.2v10.3M699.4 168.1h10.3m-5.2 -5.2v10.3M699.4 169.4h10.3m-5.2 -5.2v10.3M700.2 167.4h10.3m-5.2 -5.2v10.3M700.2 168.8h10.3m-5.2 -5.2v10.3M701.0 166.8h10.3m-5.2 -5.2v10.3M701.0 168.1h10.3m-5.2 -5.2v10.3M701.9 166.1h10.3m-5.2 -5.2v10.3M701.9 167.5h10.3m-5.2 -5.2v10.3M702.8 165.4h10.3m-5.2 -5.2v10.3M702.8 166.8h10.3m-5.2 -5.2v10.3M703.6 164.8h10.3m-5.2 -5.2v10.3M703.6 166.1h10.3m-5.2 -5.2v10.3M704.4 164.1h10.3m-5.2 -5.2v10.3M704.4 165.5h10.3m-5.2 -5.2v10.3M705.3 163.4h10.3m-5.2 -5.2v10.3M705.3 164.8h10.3m-5.2 -5.2v10.3M706.2 162.8h10.3m-5.2 -5.2v10.3M706.2 164.2h10.3m-5.2 -5.2v10.3M707.0 162.1h10.3m-5.2 -5.2v10.3M707.0 163.6h10.3m-5.2 -5.2v10.3M707.9 161.5h10.3m-5.2 -5.2v10.3M707.9 163.0h10.3m-5.2 -5.2v10.3M708.7 160.9h10.3m-5.2 -5.2v10.3M708.7 162.4h10.3m-5.2 -5.2v10.3M709.5 160.3h10.3m-5.2 -5.2v10.3M709.5 161.8h10.3m-5.2 -5.2v10.3M710.4 159.8h10.3m-5.2 -5.2v10.3M710.4 161.3h10.3m-5.2 -5.2v10.3M711.2 159.2h10.3m-5.2 -5.2v10.3M711.2 160.7h10.3m-5.2 -5.2v10.3M712.0 158.7h10.3m-5.2 -5.2v10.3M712.0 160.2h10.3m-5.2 -5.2v10.3M712.8 158.1h10.3m-5.2 -5.2v10.3M712.8 159.7h10.3m-5.2 -5.2v10.3M713.7 157.6h10.3m-5.2 -5.2v10.3M713.7 159.1h10.3m-5.2 -5.2v10.3M714.5 157.0h10.3m-5.2 -5.2v10.3M714.5 158.6h10.3m-5.2 -5.2v10.3M715.3 156.4h10.3m-5.2 -5.2v10.3M715.3 158.0h10.3m-5.2 -5.2v10.3M716.2 155.8h10.3m-5.2 -5.2v10.3M716.2 157.5h10.3m-5.2 -5.2v10.3M717.0 155.3h10.3m-5.2 -5.2v10.3M717.0 156.9h10.3m-5.2 -5.2v10.3M717.9 154.6h10.3m-5.2 -5.2v10.3M717.9 156.3h10.3m-5.2 -5.2v10.3M718.7 154.0h10.3m-5.2 -5.2v10.3M718.7 155.7h10.3m-5.2 -5.2v10.3M719.5 153.4h10.3m-5.2 -5.2v10.3M719.5 155.1h10.3m-5.2 -5.2v10.3M720.4 152.7h10.3m-5.2 -5.2v10.3M720.4 154.5h10.3m-5.2 -5.2v10.3M721.2 152.1h10.3m-5.2 -5.2v10.3M721.2 153.8h10.3m-5.2 -5.2v10.3M722.0 151.5h10.3m-5.2 -5.2v10.3M722.0 153.2h10.3m-5.2 -5.2v10.3M722.9 150.8h10.3m-5.2 -5.2v10.3M722.9 152.6h10.3m-5.2 -5.2v10.3M723.7 150.2h10.3m-5.2 -5.2v10.3M723.7 152.0h10.3m-5.2 -5.2v10.3M724.5 149.6h10.3m-5.2 -5.2v10.3M724.5 151.4h10.3m-5.2 -5.2v10.3M725.3 148.9h10.3m-5.2 -5.2v10.3M725.3 150.8h10.3m-5.2 -5.2v10.3M726.2 148.4h10.3m-5.2 -5.2v10.3M726.2 150.2h10.3m-5.2 -5.2v10.3M727.0 147.8h10.3m-5.2 -5.2v10.3M727.0 149.6h10.3m-5.2 -5.2v10.3M727.8 147.2h10.3m-5.2 -5.2v10.3M727.8 149.0h10.3m-5.2 -5.2v10.3M728.6 146.6h10.3m-5.2 -5.2v10.3M728.6 148.5h10.3m-5.2 -5.2v10.3M729.5 146.1h10.3m-5.2 -5.2v10.3M729.5 148.0h10.3m-5.2 -5.2v10.3M730.3 145.6h10.3m-5.2 -5.2v10.3M730.3 147.5h10.3m-5.2 -5.2v10.3M731.1 145.0h10.3m-5.2 -5.2v10.3M731.1 147.0h10.3m-5.2 -5.2v10.3M731.9 144.5h10.3m-5.2 -5.2v10.3M731.9 146.4h10.3m-5.2 -5.2v10.3M732.8 144.0h10.3m-5.2 -5.2v10.3M732.8 145.9h10.3m-5.2 -5.2v10.3M733.6 143.4h10.3m-5.2 -5.2v10.3M733.6 145.4h10.3m-5.2 -5.2v10.3M734.4 142.8h10.3m-5.2 -5.2v10.3M734.4 144.8h10.3m-5.2 -5.2v10.3M735.2 142.2h10.3m-5.2 -5.2v10.3M735.2 144.2h10.3m-5.2 -5.2v10.3M736.0 141.6h10.3m-5.2 -5.2v10.3M736.0 143.6h10.3m-5.2 -5.2v10.3M736.8 141.0h10.3m-5.2 -5.2v10.3M736.8 143.0h10.3m-5.2 -5.2v10.3M737.7 140.3h10.3m-5.2 -5.2v10.3M737.7 142.3h10.3m-5.2 -5.2v10.3M738.5 139.7h10.3m-5.2 -5.2v10.3M738.5 141.7h10.3m-5.2 -5.2v10.3M739.3 139.0h10.3m-5.2 -5.2v10.3M739.3 141.0h10.3m-5.2 -5.2v10.3M740.1 138.3h10.3m-5.2 -5.2v10.3M740.1 140.3h10.3m-5.2 -5.2v10.3M740.9 137.6h10.3m-5.2 -5.2v10.3M740.9 139.6h10.3m-5.2 -5.2v10.3M741.8 136.9h10.3m-5.2 -5.2v10.3M741.8 138.9h10.3m-5.2 -5.2v10.3M742.6 136.2h10.3m-5.2 -5.2v10.3M742.6 138.2h10.3m-5.2 -5.2v10.3M743.4 135.5h10.3m-5.2 -5.2v10.3M743.4 137.5h10.3m-5.2 -5.2v10.3M744.2 134.8h10.3m-5.2 -5.2v10.3M744.2 136.8h10.3m-5.2 -5.2v10.3M745.0 134.2h10.3m-5.2 -5.2v10.3M745.0 136.2h10.3m-5.2 -5.2v10.3M745.8 133.6h10.3m-5.2 -5.2v10.3M745.8 135.6h10.3m-5.2 -5.2v10.3M746.6 133.1h10.3m-5.2 -5.2v10.3M746.6 135.1h10.3m-5.2 -5.2v10.3M747.4 132.6h10.3m-5.2 -5.2v10.3M747.4 134.6h10.3m-5.2 -5.2v10.3M748.3 132.1h10.3m-5.2 -5.2v10.3M748.3 134.1h10.3m-5.2 -5.2v10.3M749.1 131.6h10.3m-5.2 -5.2v10.3M749.1 133.6h10.3m-5.2 -5.2v10.3M749.9 131.2h10.3m-5.2 -5.2v10.3M749.9 133.2h10.3m-5.2 -5.2v10.3M750.7 130.8h10.3m-5.2 -5.2v10.3M750.7 132.8h10.3m-5.2 -5.2v10.3M751.5 130.4h10.3m-5.2 -5.2v10.3M751.5 132.4h10.3m-5.2 -5.2v10.3M752.3 130.0h10.3m-5.2 -5.2v10.3M752.3 132.0h10.3m-5.2 -5.2v10.3M753.1 129.6h10.3m-5.2 -5.2v10.3M753.1 131.6h10.3m-5.2 -5.2v10.3M753.9 129.2h10.3m-5.2 -5.2v10.3M753.9 131.2h10.3m-5.2 -5.2v10.3M754.7 128.7h10.3m-5.2 -5.2v10.3M754.7 130.7h10.3m-5.2 -5.2v10.3M755.5 128.2h10.3m-5.2 -5.2v10.3M755.5 130.2h10.3m-5.2 -5.2v10.3M756.4 127.7h10.3m-5.2 -5.2v10.3M756.4 129.7h10.3m-5.2 -5.2v10.3M757.2 127.1h10.3m-5.2 -5.2v10.3M757.2 129.1h10.3m-5.2 -5.2v10.3M758.0 126.5h10.3m-5.2 -5.2v10.3M758.0 128.5h10.3m-5.2 -5.2v10.3M758.8 125.8h10.3m-5.2 -5.2v10.3M758.8 127.8h10.3m-5.2 -5.2v10.3M759.6 125.1h10.3m-5.2 -5.2v10.3M759.6 127.1h10.3m-5.2 -5.2v10.3M760.4 124.4h10.3m-5.2 -5.2v10.3M760.4 126.4h10.3m-5.2 -5.2v10.3M761.2 123.6h10.3m-5.2 -5.2v10.3M761.2 125.6h10.3m-5.2 -5.2v10.3M762.0 122.8h10.3m-5.2 -5.2v10.3M762.0 124.8h10.3m-5.2 -5.2v10.3M762.8 122.0h10.3m-5.2 -5.2v10.3M762.8 124.0h10.3m-5.2 -5.2v10.3M763.6 121.3h10.3m-5.2 -5.2v10.3M763.6 123.3h10.3m-5.2 -5.2v10.3M764.4 120.5h10.3m-5.2 -5.2v10.3M764.4 122.5h10.3m-5.2 -5.2v10.3M765.3 119.7h10.3m-5.2 -5.2v10.3M765.3 121.7h10.3m-5.2 -5.2v10.3M766.1 119.0h10.3m-5.2 -5.2v10.3M766.1 121.0h10.3m-5.2 -5.2v10.3M766.9 118.3h10.3m-5.2 -5.2v10.3M766.9 120.3h10.3m-5.2 -5.2v10.3M767.7 117.7h10.3m-5.2 -5.2v10.3M767.7 119.7h10.3m-5.2 -5.2v10.3M768.5 117.1h10.3m-5.2 -5.2v10.3M768.5 119.1h10.3m-5.2 -5.2v10.3M769.3 116.6h10.3m-5.2 -5.2v10.3M769.3 118.6h10.3m-5.2 -5.2v10.3M770.1 116.1h10.3m-5.2 -5.2v10.3M770.1 118.1h10.3m-5.2 -5.2v10.3M770.9 115.6h10.3m-5.2 -5.2v10.3M770.9 117.6h10.3m-5.2 -5.2v10.3M771.7 115.2h10.3m-5.2 -5.2v10.3M771.7 117.2h10.3m-5.2 -5.2v10.3M772.5 114.8h10.3m-5.2 -5.2v10.3M772.5 116.8h10.3m-5.2 -5.2v10.3M773.3 114.4h10.3m-5.2 -5.2v10.3M773.3 116.4h10.3m-5.2 -5.2v10.3M774.1 114.0h10.3m-5.2 -5.2v10.3M774.1 116.0h10.3m-5.2 -5.2v10.3M774.9 113.6h10.3m-5.2 -5.2v10.3M774.9 115.6h10.3m-5.2 -5.2v10.3M775.7 113.2h10.3m-5.2 -5.2v10.3M775.7 115.2h10.3m-5.2 -5.2v10.3M776.5 112.8h10.3m-5.2 -5.2v10.3M776.5 114.8h10.3m-5.2 -5.2v10.3M777.3 112.3h10.3m-5.2 -5.2v10.3M777.3 114.3h10.3m-5.2 -5.2v10.3M778.1 111.8h10.3m-5.2 -5.2v10.3M778.1 113.8h10.3m-5.2 -5.2v10.3M778.9 111.3h10.3m-5.2 -5.2v10.3M778.9 113.3h10.3m-5.2 -5.2v10.3M779.8 110.7h10.3m-5.2 -5.2v10.3M779.8 112.7h10.3m-5.2 -5.2v10.3M780.6 110.1h10.3m-5.2 -5.2v10.3M780.6 112.1h10.3m-5.2 -5.2v10.3M781.4 109.5h10.3m-5.2 -5.2v10.3M781.4 111.5h10.3m-5.2 -5.2v10.3M782.2 108.9h10.3m-5.2 -5.2v10.3M782.2 110.9h10.3m-5.2 -5.2v10.3M783.0 108.2h10.3m-5.2 -5.2v10.3M783.0 110.2h10.3m-5.2 -5.2v10.3M783.8 107.5h10.3m-5.2 -5.2v10.3M783.8 109.5h10.3m-5.2 -5.2v10.3M784.6 106.8h10.3m-5.2 -5.2v10.3M784.6 108.8h10.3m-5.2 -5.2v10.3M785.4 106.2h10.3m-5.2 -5.2v10.3M785.4 108.2h10.3m-5.2 -5.2v10.3M786.2 105.5h10.3m-5.2 -5.2v10.3M786.2 107.5h10.3m-5.2 -5.2v10.3M787.0 104.8h10.3m-5.2 -5.2v10.3M787.0 106.8h10.3m-5.2 -5.2v10.3M787.8 104.2h10.3m-5.2 -5.2v10.3M787.8 106.2h10.3m-5.2 -5.2v10.3M788.6 103.5h10.3m-5.2 -5.2v10.3M788.6 105.5h10.3m-5.2 -5.2v10.3M789.4 102.9h10.3m-5.2 -5.2v10.3M789.4 104.9h10.3m-5.2 -5.2v10.3M790.2 102.3h10.3m-5.2 -5.2v10.3M790.2 104.3h10.3m-5.2 -5.2v10.3M791.0 101.8h10.3m-5.2 -5.2v10.3M791.0 103.8h10.3m-5.2 -5.2v10.3M791.8 101.2h10.3m-5.2 -5.2v10.3M791.8 103.2h10.3m-5.2 -5.2v10.3M792.3 100.8h10.3m-5.2 -5.2v10.3M792.3 102.8h10.3m-5.2 -5.2v10.3"/>
<g fill="#7CAE00" fill-opacity="0.7"><circle cx="217.0" cy="568.9" r="3.475"/><circle cx="230.8" cy="552.0" r="3.475"/><circle cx="240.6" cy="542.1" r="3.475"/><circle cx="248.2" cy="535.1" r="3.475"/><circle cx="254.4" cy="529.6" r="3.475"/><circle cx="259.7" cy="525.2" r="3.475"/><circle cx="264.2" cy="521.4" r="3.475"/><circle cx="268.2" cy="518.2" r="3.475"/><circle cx="271.8" cy="515.3" r="3.475"/><circle cx="275.1" cy="512.7" r="3.475"/><circle cx="278.0" cy="510.4" r="3.475"/><circle cx="280.8" cy="508.3" r="3.475"/><circle cx="283.3" cy="506.4" r="3.475"/><circle cx="285.6" cy="504.6" r="3.475"/><circle cx="287.8" cy="502.9" r="3.475"/><circle cx="289.9" cy="501.3" r="3.475"/><circle cx="291.9" cy="499.8" r="3.475"/><circle cx="293.7" cy="498.4" r="3.475"/><circle cx="295.5" cy="497.1" r="3.475"/><circle cx="297.1" cy="495.9" r="3.475"/><circle cx="298.7" cy="494.7" r="3.475"/><circle cx="300.2" cy="493.6" r="3.475"/><circle cx="301.7" cy="492.5" r="3.475"/><circle cx="303.1" cy="491.4" r="3.475"/><circle cx="304.4" cy="490.4" r="3.475"/><circle cx="305.7" cy="489.4" r="3.475"/><circle cx="306.9" cy="488.5" r="3.475"/><circle cx="308.1" cy="487.6" r="3.475"/><circle cx="309.3" cy="486.7" r="3.475"/><circle cx="310.4" cy="485.9" r="3.475"/><circle cx="311.5" cy="485.1" r="3.475"/><circle cx="312.5" cy="484.4" r="3.475"/><circle cx="313.5" cy="483.6" r="3.475"/><circle cx="314.5" cy="482.9" r="3.475"/><circle cx="315.5" cy="482.2" r="3.475"/><circle cx="316.4" cy="481.5" r="3.475"/><circle cx="317.3" cy="480.9" r="3.475"/><circle cx="318.2" cy="480.2" r="3.475"/><circle cx="319.1" cy="479.6" r="3.475"/><circle cx="319.9" cy="479.0" r="3.475"/><circle cx="320.7" cy="478.3" r="3.475"/><circle cx="321.5" cy="477.8" r="3.475"/><circle cx="322.3" cy="477.2" r="3.475"/><circle cx="323.1" cy="476.6" r="3.475"/></g>
<path fill="none" stroke="#7CAE00" stroke-width="6.95" stroke-linecap="round" d="M324.6 475.5h0M326.0 474.5h0M327.4 473.6h0M328.7 472.7h0M329.9 471.8h0M331.1 470.9h0M332.3 470.0h0M333.5 469.2h0M334.6 468.3h0M335.6 467.5h0M336.7 466.7h0M337.7 465.9h0M338.6 465.1h0M339.6 464.4h0M340.5 463.7h0M341.4 463.1h0M342.3 462.5h0M343.1 461.9h0M344.0 461.3h0M344.8 460.8h0M345.9 460.0h0M347.1 459.3h0M348.2 458.6h0M349.3 457.9h0M350.3 457.2h0M351.3 456.5h0M352.3 455.8h0M353.2 455.0h0M354.2 454.3h0M355.1 453.6h0M355.9 452.8h0M356.8 452.1h0M357.6 451.4h0M358.4 450.8h0M359.5 449.9h0M360.5 449.1h0M361.5 448.4h0M362.5 447.7h0M363.4 447.1h0M364.3 446.5h0M365.2 445.9h0M366.1 445.4h0M367.0 444.9h0M367.8 444.4h0M368.6 443.9h0M369.6 443.2h0M370.5 442.6h0M371.4 442.0h0M372.4 441.3h0M373.2 440.7h0M374.1 440.0h0M374.9 439.4h0M375.7 438.7h0M376.7 438.0h0M377.6 437.2h0M378.5 436.5h0M379.4 435.8h0M380.3 435.1h0M381.1 434.5h0M381.9 433.9h0M382.9 433.2h0M383.8 432.5h0M384.7 431.9h0M385.5 431.3h0M386.3 430.7h0M387.2 430.2h0M388.1 429.6h0M389.0 429.0h0M389.8 428.4h0M390.7 427.8h0M391.5 427.3h0M392.3 426.7h0M393.2 426.1h0M394.0 425.5h0M394.9 425.0h0M395.7 424.4h0M396.6 423.8h0M397.5 423.2h0M398.3 422.5h0M399.1 422.0h0M399.9 421.4h0M400.8 420.7h0M401.6 420.1h0M402.5 419.5h0M403.3 418.9h0M404.1 418.2h0M404.9 417.5h0M405.8 416.9h0M406.6 416.2h0M407.5 415.6h0M408.3 415.0h0M409.1 414.3h0M410.0 413.7h0M410.8 413.1h0M411.6 412.5h0M412.5 411.9h0M413.3 411.4h0M414.1 410.9h0M415.0 410.3h0M415.8 409.8h0M416.6 409.3h0M417.4 408.8h0M418.3 408.3h0M419.1 407.7h0M419.9 407.2h0M420.7 406.7h0M421.5 406.1h0M422.4 405.5h0M423.2 404.9h0M424.0 404.2h0M424.8 403.6h0M425.7 402.9h0M426.5 402.2h0M427.3 401.5h0M428.1 400.8h0M428.9 400.2h0M429.7 399.5h0M430.6 398.9h0M431.4 398.3h0M432.2 397.7h0M433.0 397.1h0M433.8 396.6h0M434.6 396.0h0M435.5 395.5h0M436.3 395.0h0M437.1 394.5h0M437.9 394.0h0M438.7 393.5h0M439.5 393.0h0M440.3 392.5h0M441.1 392.0h0M442.0 391.4h0M442.8 390.8h0M443.6 390.3h0M444.4 389.6h0M445.2 389.0h0M446.0 388.4h0M446.8 387.7h0M447.6 387.1h0M448.4 386.4h0M449.3 385.8h0M450.1 385.2h0M450.9 384.5h0M451.7 383.9h0M452.5 383.3h0M453.3 382.8h0M454.1 382.2h0M454.9 381.6h0M455.7 381.1h0M456.5 380.5h0M457.3 380.0h0M458.1 379.5h0M458.9 378.9h0M459.8 378.4h0M460.6 377.8h0M461.4 377.3h0M462.2 376.7h0M463.0 376.1h0M463.8 375.6h0M464.6 375.0h0M465.4 374.4h0M466.2 373.8h0M467.0 373.2h0M467.8 372.7h0M468.6 372.1h0M469.4 371.5h0M470.2 370.9h0M471.0 370.4h0M471.8 369.8h0M472.6 369.2h0M473.4 368.6h0M474.3 368.0h0M475.1 367.5h0M475.9 366.9h0M476.7 366.3h0M477.5 365.7h0M478.3 365.1h0M479.1 364.5h0M479.9 363.9h0M480.7 363.3h0M481.5 362.7h0M482.3 362.1h0M483.1 361.5h0M483.6 361.1h0"/>
<g fill="#7CAE00" fill-opacity="0.7"><path d="M373.9 451.1l4.21 7.30h-8.42z"/><path d="M387.7 434.4l4.21 7.30h-8.42z"/><path d="M397.5 424.3l4.21 7.30h-8.42z"/><path d="M405.1 417.7l4.21 7.30h-8.42z"/><path d="M411.4 411.9l4.21 7.30h-8.42z"/><path d="M416.6 407.7l4.21 7.30h-8.42z"/><path d="M421.2 403.8l4.21 7.30h-8.42z"/><path d="M425.2 400.5l4.21 7.30h-8.42z"/><path d="M428.8 397.9l4.21 7.30h-8.42z"/><path d="M432.0 395.3l4.21 7.30h-8.42z"/><path d="M435.0 392.7l4.21 7.30h-8.42z"/><path d="M437.7 390.5l4.21 7.30h-8.42z"/><path d="M440.2 388.7l4.21 7.30h-8.42z"/><path d="M442.6 387.0l4.21 7.30h-8.42z"/><path d="M444.8 385.4l4.21 7.30h-8.42z"/><path d="M446.9 383.7l4.21 7.30h-8.42z"/><path d="M448.8 382.2l4.21 7.30h-8.42z"/><path d="M450.6 380.8l4.21 7.30h-8.42z"/><path d="M452.4 379.5l4.21 7.30h-8.42z"/><path d="M454.1 378.4l4.21 7.30h-8.42z"/><path d="M455.6 377.2l4.21 7.30h-8.42z"/><path d="M457.2 376.1l4.21 7.30h-8.42z"/><path d="M458.6 374.9l4.21 7.30h-8.42z"/><path d="M460.0 373.7l4.21 7.30h-8.42z"/><path d="M461.3 372.6l4.21 7.30h-8.42z"/><path d="M462.6 371.6l4.21 7.30h-8.42z"/><path d="M463.9 370.7l4.21 7.30h-8.42z"/><path d="M465.1 369.9l4.21 7.30h-8.42z"/><path d="M466.2 369.1l4.21 7.30h-8.42z"/><path d="M467.3 368.4l4.21 7.30h-8.42z"/><path d="M468.4 367.7l4.21 7.30h-8.42z"/><path d="M469.5 366.9l4.21 7.30h-8.42z"/><path d="M470.5 366.2l4.21 7.30h-8.42z"/><path d="M471.5 365.5l4.21 7.30h-8.42z"/><path d="M472.4 364.7l4.21 7.30h-8.42z"/><path d="M473.4 364.0l4.21 7.30h-8.42z"/><path d="M474.3 363.3l4.21 7.30h-8.42z"/><path d="M475.2 362.6l4.21 7.30h-8.42z"/><path d="M476.0 362.0l4.21 7.30h-8.42z"/><path d="M476.9 361.3l4.21 7.30h-8.42z"/><path d="M477.7 360.8l4.21 7.30h-8.42z"/><path d="M478.5 360.2l4.21 7.30h-8.42z"/><path d="M479.3 359.7l4.21 7.30h-8.42z"/><path d="M480.0 359.1l4.21 7.30h-8.42z"/></g>
<path fill="#7CAE00" d="M481.5 358.1l4.2 7.3h-8.4zM482.9 357.0l4.2 7.3h-8.4zM484.3 355.9l4.2 7.3h-8.4zM485.6 354.9l4.2 7.3h-8.4zM486.9 353.8l4.2 7.3h-8.4zM488.1 352.9l4.2 7.3h-8.4zM489.3 352.0l4.2 7.3h-8.4zM490.4 351.3l4.2 7.3h-8.4zM491.5 350.5l4.2 7.3h-8.4zM492.6 349.9l4.2 7.3h-8.4zM493.6 349.2l4.2 7.3h-8.4zM494.6 348.6l4.2 7.3h-8.4zM495.6 347.9l4.2 7.3h-8.4zM496.5 347.2l4.2 7.3h-8.4zM497.4 346.6l4.2 7.3h-8.4zM498.3 345.9l4.2 7.3h-8.4zM499.2 345.2l4.2 7.3h-8.4zM500.1 344.5l4.2 7.3h-8.4zM500.9 343.9l4.2 7.3h-8.4zM501.7 343.3l4.2 7.3h-8.4zM502.9 342.4l4.2 7.3h-8.4zM504.0 341.6l4.2 7.3h-8.4zM505.1 340.8l4.2 7.3h-8.4zM506.2 340.1l4.2 7.3h-8.4zM507.2 339.3l4.2 7.3h-8.4zM508.2 338.6l4.2 7.3h-8.4zM509.2 337.8l4.2 7.3h-8.4zM510.2 337.1l4.2 7.3h-8.4zM511.1 336.4l4.2 7.3h-8.4zM512.0 335.6l4.2 7.3h-8.4zM512.9 334.9l4.2 7.3h-8.4zM513.7 334.3l4.2 7.3h-8.4zM514.6 333.7l4.2 7.3h-8.4zM515.4 333.1l4.2 7.3h-8.4zM516.4 332.4l4.2 7.3h-8.4zM517.5 331.8l4.2 7.3h-8.4zM518.5 331.2l4.2 7.3h-8.4zM519.4 330.6l4.2 7.3h-8.4zM520.4 330.0l4.2 7.3h-8.4zM521.3 329.4l4.2 7.3h-8.4zM522.2 328.8l4.2 7.3h-8.4zM523.0 328.1l4.2 7.3h-8.4zM523.9 327.5l4.2 7.3h-8.4zM524.7 326.8l4.2 7.3h-8.4zM525.5 326.2l4.2 7.3h-8.4zM526.5 325.4l4.2 7.3h-8.4zM527.5 324.7l4.2 7.3h-8.4zM528.4 324.0l4.2 7.3h-8.4zM529.3 323.3l4.2 7.3h-8.4zM530.2 322.7l4.2 7.3h-8.4zM531.0 322.1l4.2 7.3h-8.4zM531.9 321.5l4.2 7.3h-8.4zM532.7 321.0l4.2 7.3h-8.4zM533.6 320.3l4.2 7.3h-8.4zM534.6 319.6l4.2 7.3h-8.4zM535.5 318.9l4.2 7.3h-8.4zM536.4 318.2l4.2 7.3h-8.4zM537.2 317.5l4.2 7.3h-8.4zM538.1 316.9l4.2 7.3h-8.4zM538.9 316.2l4.2 7.3h-8.4zM539.8 315.6l4.2 7.3h-8.4zM540.7 314.9l4.2 7.3h-8.4zM541.6 314.3l4.2 7.3h-8.4zM542.4 313.8l4.2 7.3h-8.4zM543.3 313.3l4.2 7.3h-8.4zM544.1 312.8l4.2 7.3h-8.4zM545.0 312.3l4.2 7.3h-8.4zM545.9 311.7l4.2 7.3h-8.4zM546.8 311.1l4.2 7.3h-8.4zM547.6 310.5l4.2 7.3h-8.4zM548.4 309.9l4.2 7.3h-8.4zM549.2 309.3l4.2 7.3h-8.4zM550.1 308.6l4.2 7.3h-8.4zM551.0 308.0l4.2 7.3h-8.4zM551.8 307.3l4.2 7.3h-8.4zM552.6 306.6l4.2 7.3h-8.4zM553.5 305.9l4.2 7.3h-8.4zM554.4 305.3l4.2 7.3h-8.4zM555.2 304.7l4.2 7.3h-8.4zM556.1 304.1l4.2 7.3h-8.4zM556.9 303.5l4.2 7.3h-8.4zM557.7 302.9l4.2 7.3h-8.4zM558.6 302.3l4.2 7.3h-8.4zM559.4 301.7l4.2 7.3h-8.4zM560.2 301.1l4.2 7.3h-8.4zM561.1 300.5l4.2 7.3h-8.4zM561.9 299.9l4.2 7.3h-8.4zM562.7 299.3l4.2 7.3h-8.4zM563.6 298.6l4.2 7.3h-8.4zM564.4 298.0l4.2 7.3h-8.4zM565.2 297.4l4.2 7.3h-8.4zM566.1 296.8l4.2 7.3h-8.4zM566.9 296.2l4.2 7.3h-8.4zM567.7 295.7l4.2 7.3h-8.4zM568.6 295.2l4.2 7.3h-8.4zM569.4 294.7l4.2 7.3h-8.4zM570.2 294.2l4.2 7.3h-8.4zM571.1 293.6l4.2 7.3h-8.4zM571.9 293.1l4.2 7.3h-8.4zM572.7 292.6l4.2 7.3h-8.4zM573.6 292.0l4.2 7.3h-8.4zM574.4 291.4l4.2 7.3h-8.4zM575.2 290.7l4.2 7.3h-8.4zM576.0 290.1l4.2 7.3h-8.4zM576.8 289.4l4.2 7.3h-8.4zM577.7 288.7l4.2 7.3h-8.4zM578.5 288.1l4.2 7.3h-8.4zM579.3 287.4l4.2 7.3h-8.4zM580.1 286.8l4.2 7.3h-8.4zM581.0 286.2l4.2 7.3h-8.4zM581.8 285.6l4.2 7.3h-8.4zM582.6 285.0l4.2 7.3h-8.4zM583.4 284.4l4.2 7.3h-8.4zM584.2 283.9l4.2 7.3h-8.4zM585.1 283.3l4.2 7.3h-8.4zM585.9 282.7l4.2 7.3h-8.4zM586.7 282.1l4.2 7.3h-8.4zM587.5 281.5l4.2 7.3h-8.4zM588.3 280.9l4.2 7.3h-8.4zM589.1 280.3l4.2 7.3h-8.4zM590.0 279.7l4.2 7.3h-8.4zM590.8 279.1l4.2 7.3h-8.4zM591.6 278.6l4.2 7.3h-8.4zM592.4 278.0l4.2 7.3h-8.4zM593.2 277.5l4.2 7.3h-8.4zM594.0 277.0l4.2 7.3h-8.4zM594.8 276.5l4.2 7.3h-8.4zM595.7 276.0l4.2 7.3h-8.4zM596.5 275.5l4.2 7.3h-8.4zM597.3 275.0l4.2 7.3h-8.4zM598.1 274.4l4.2 7.3h-8.4zM598.9 273.8l4.2 7.3h-8.4zM599.7 273.3l4.2 7.3h-8.4zM600.5 272.6l4.2 7.3h-8.4zM601.3 272.0l4.2 7.3h-8.4zM602.1 271.3l4.2 7.3h-8.4zM602.9 270.6l4.2 7.3h-8.4zM603.8 270.0l4.2 7.3h-8.4zM604.6 269.3l4.2 7.3h-8.4zM605.4 268.7l4.2 7.3h-8.4zM606.2 268.1l4.2 7.3h-8.4zM607.0 267.5l4.2 7.3h-8.4zM607.8 266.9l4.2 7.3h-8.4zM608.6 266.3l4.2 7.3h-8.4zM609.4 265.8l4.2 7.3h-8.4zM610.2 265.3l4.2 7.3h-8.4zM611.0 264.7l4.2 7.3h-8.4zM611.8 264.2l4.2 7.3h-8.4zM612.7 263.6l4.2 7.3h-8.4zM613.5 263.0l4.2 7.3h-8.4zM614.3 262.4l4.2 7.3h-8.4zM615.1 261.8l4.2 7.3h-8.4zM615.9 261.2l4.2 7.3h-8.4zM616.7 260.7l4.2 7.3h-8.4zM617.5 260.1l4.2 7.3h-8.4zM618.3 259.5l4.2 7.3h-8.4zM619.1 259.0l4.2 7.3h-8.4zM619.9 258.5l4.2 7.3h-8.4zM620.7 258.0l4.2 7.3h-8.4zM621.5 257.5l4.2 7.3h-8.4zM622.3 257.0l4.2 7.3h-8.4zM623.1 256.5l4.2 7.3h-8.4zM623.9 255.9l4.2 7.3h-8.4zM624.7 255.3l4.2 7.3h-8.4zM625.5 254.7l4.2 7.3h-8.4zM626.3 254.1l4.2 7.3h-8.4zM627.2 253.4l4.2 7.3h-8.4zM628.0 252.8l4.2 7.3h-8.4zM628.8 252.1l4.2 7.3h-8.4zM629.6 251.4l4.2 7.3h-8.4zM630.4 250.8l4.2 7.3h-8.4zM631.2 250.2l4.2 7.3h-8.4zM632.0 249.5l4.2 7.3h-8.4zM632.8 249.0l4.2 7.3h-8.4zM633.6 248.4l4.2 7.3h-8.4zM634.4 247.9l4.2 7.3h-8.4zM635.2 247.3l4.2 7.3h-8.4zM636.0 246.8l4.2 7.3h-8.4zM636.8 246.3l4.2 7.3h-8.4zM637.6 245.7l4.2 7.3h-8.4zM638.4 245.2l4.2 7.3h-8.4zM639.2 244.6l4.2 7.3h-8.4zM640.0 244.0l4.2 7.3h-8.4zM640.6 243.7l4.2 7.3h-8.4z"/>
<g fill="#7CAE00" fill-opacity="0.7"><rect x="480.4" y="374.2" width="6.5" height="6.5"/><rect x="494.2" y="357.6" width="6.5" height="6.5"/><rect x="504.0" y="347.5" width="6.5" height="6.5"/><rect x="511.6" y="340.7" width="6.5" height="6.5"/><rect x="517.8" y="335.5" width="6.5" height="6.5"/><rect x="523.1" y="330.5" width="6.5" height="6.5"/><rect x="527.6" y="326.9" width="6.5" height="6.5"/><rect x="531.6" y="323.8" width="6.5" height="6.5"/><rect x="535.2" y="320.9" width="6.5" height="6.5"/><rect x="538.5" y="318.3" width="6.5" height="6.5"/><rect x="541.4" y="316.1" width="6.5" height="6.5"/><rect x="544.2" y="314.1" width="6.5" height="6.5"/><rect x="546.7" y="312.0" width="6.5" height="6.5"/><rect x="549.0" y="310.0" width="6.5" height="6.5"/><rect x="551.2" y="308.2" width="6.5" height="6.5"/><rect x="553.3" y="306.6" width="6.5" height="6.5"/><rect x="555.2" y="305.3" width="6.5" height="6.5"/><rect x="557.1" y="304.1" width="6.5" height="6.5"/><rect x="558.8" y="302.9" width="6.5" height="6.5"/><rect x="560.5" y="301.7" width="6.5" height="6.5"/><rect x="562.1" y="300.4" width="6.5" height="6.5"/><rect x="563.6" y="299.2" width="6.5" height="6.5"/><rect x="565.1" y="298.0" width="6.5" height="6.5"/><rect x="566.4" y="296.8" width="6.5" height="6.5"/><rect x="567.8" y="295.8" width="6.5" height="6.5"/><rect x="569.1" y="294.9" width="6.5" height="6.5"/><rect x="570.3" y="294.0" width="6.5" height="6.5"/><rect x="571.5" y="293.2" width="6.5" height="6.5"/><rect x="572.7" y="292.4" width="6.5" height="6.5"/><rect x="573.8" y="291.6" width="6.5" height="6.5"/><rect x="574.9" y="290.9" width="6.5" height="6.5"/><rect x="575.9" y="290.1" width="6.5" height="6.5"/><rect x="576.9" y="289.3" width="6.5" height="6.5"/><rect x="577.9" y="288.5" width="6.5" height="6.5"/><rect x="578.9" y="287.8" width="6.5" height="6.5"/><rect x="579.8" y="287.1" width="6.5" height="6.5"/><rect x="580.7" y="286.3" width="6.5" height="6.5"/><rect x="581.6" y="285.7" width="6.5" height="6.5"/><rect x="582.5" y="285.0" width="6.5" height="6.5"/><rect x="583.3" y="284.4" width="6.5" height="6.5"/><rect x="584.1" y="283.8" width="6.5" height="6.5"/><rect x="584.9" y="283.3" width="6.5" height="6.5"/><rect x="585.7" y="282.7" width="6.5" height="6.5"/><rect x="586.5" y="282.2" width="6.5" height="6.5"/></g>
<path fill="#7CAE00" d="M587.96 281.18h6.5v6.5h-6.5zM589.38 280.16h6.5v6.5h-6.5zM590.74 279.16h6.5v6.5h-6.5zM592.05 278.17h6.5v6.5h-6.5zM593.31 277.20h6.5v6.5h-6.5zM594.53 276.28h6.5v6.5h-6.5zM595.71 275.40h6.5v6.5h-6.5zM596.84 274.58h6.5v6.5h-6.5zM597.94 273.80h6.5v6.5h-6.5zM599.01 273.06h6.5v6.5h-6.5zM600.04 272.36h6.5v6.5h-6.5zM601.04 271.67h6.5v6.5h-6.5zM602.01 270.99h6.5v6.5h-6.5zM602.96 270.31h6.5v6.5h-6.5zM603.88 269.64h6.5v6.5h-6.5zM604.78 268.97h6.5v6.5h-6.5zM605.65 268.30h6.5v6.5h-6.5zM606.51 267.63h6.5v6.5h-6.5zM607.34 266.98h6.5v6.5h-6.5zM608.15 266.34h6.5v6.5h-6.5zM609.33 265.42h6.5v6.5h-6.5zM610.47 264.56h6.5v6.5h-6.5zM611.58 263.76h6.5v6.5h-6.5zM612.65 263.01h6.5v6.5h-6.5zM613.69 262.32h6.5v6.5h-6.5zM614.69 261.66h6.5v6.5h-6.5zM615.67 261.03h6.5v6.5h-6.5zM616.62 260.42h6.5v6.5h-6.5zM617.55 259.81h6.5v6.5h-6.5zM618.45 259.21h6.5v6.5h-6.5zM619.33 258.60h6.5v6.5h-6.5zM620.18 257.98h6.5v6.5h-6.5zM621.02 257.36h6.5v6.5h-6.5zM621.83 256.74h6.5v6.5h-6.5zM622.89 255.92h6.5v6.5h-6.5zM623.91 255.11h6.5v6.5h-6.5zM624.91 254.32h6.5v6.5h-6.5zM625.88 253.57h6.5v6.5h-6.5zM626.82 252.84h6.5v6.5h-6.5zM627.73 252.15h6.5v6.5h-6.5zM628.62 251.50h6.5v6.5h-6.5zM629.49 250.87h6.5v6.5h-6.5zM630.34 250.27h6.5v6.5h-6.5zM631.16 249.69h6.5v6.5h-6.5zM631.97 249.14h6.5v6.5h-6.5zM632.95 248.46h6.5v6.5h-6.5zM633.91 247.80h6.5v6.5h-6.5zM634.84 247.16h6.5v6.5h-6.5zM635.74 246.54h6.5v6.5h-6.5zM636.62 245.92h6.5v6.5h-6.5zM637.48 245.32h6.5v6.5h-6.5zM638.32 244.74h6.5v6.5h-6.5zM639.13 244.16h6.5v6.5h-6.5zM640.09 243.49h6.5v6.5h-6.5zM641.02 242.84h6.5v6.5h-6.5zM641.92 242.21h6.5v6.5h-6.5zM642.80 241.60h6.5v6.5h-6.5zM643.66 240.99h6.5v6.5h-6.5zM644.50 240.40h6.5v6.5h-6.5zM645.32 239.81h6.5v6.5h-6.5zM646.25 239.14h6.5v6.5h-6.5zM647.15 238.47h6.5v6.5h-6.5zM648.04 237.80h6.5v6.5h-6.5zM648.90 237.14h6.5v6.5h-6.5zM649.73 236.49h6.5v6.5h-6.5zM650.55 235.86h6.5v6.5h-6.5zM651.47 235.14h6.5v6.5h-6.5zM652.35 234.30h6.5v6.5h-6.5zM652.35 234.61h6.5v6.5h-6.5zM653.22 233.63h6.5v6.5h-6.5zM653.22 233.96h6.5v6.5h-6.5zM654.06 232.98h6.5v6.5h-6.5zM654.06 233.33h6.5v6.5h-6.5zM654.89 232.37h6.5v6.5h-6.5zM654.89 232.74h6.5v6.5h-6.5zM655.69 231.79h6.5v6.5h-6.5zM655.69 232.17h6.5v6.5h-6.5zM656.57 231.17h6.5v6.5h-6.5zM656.57 231.57h6.5v6.5h-6.5zM657.43 230.58h6.5v6.5h-6.5zM657.43 231.00h6.5v6.5h-6.5zM658.27 230.03h6.5v6.5h-6.5zM658.27 230.46h6.5v6.5h-6.5zM659.09 229.49h6.5v6.5h-6.5zM659.09 229.94h6.5v6.5h-6.5zM659.98 228.91h6.5v6.5h-6.5zM659.98 229.38h6.5v6.5h-6.5zM660.84 228.35h6.5v6.5h-6.5zM660.84 228.84h6.5v6.5h-6.5zM661.69 227.80h6.5v6.5h-6.5zM661.69 228.30h6.5v6.5h-6.5zM662.51 227.25h6.5v6.5h-6.5zM662.51 227.77h6.5v6.5h-6.5zM663.32 226.71h6.5v6.5h-6.5zM663.32 227.24h6.5v6.5h-6.5zM664.18 226.10h6.5v6.5h-6.5zM664.18 226.65h6.5v6.5h-6.5zM665.02 225.50h6.5v6.5h-6.5zM665.02 226.06h6.5v6.5h-6.5zM665.84 224.89h6.5v6.5h-6.5zM665.84 225.47h6.5v6.5h-6.5zM666.64 224.28h6.5v6.5h-6.5zM666.64 224.88h6.5v6.5h-6.5zM667.50 223.63h6.5v6.5h-6.5zM667.50 224.24h6.5v6.5h-6.5zM668.33 222.97h6.5v6.5h-6.5zM668.33 223.61h6.5v6.5h-6.5zM669.14 222.33h6.5v6.5h-6.5zM669.14 222.98h6.5v6.5h-6.5zM670.00 221.65h6.5v6.5h-6.5zM670.00 222.32h6.5v6.5h-6.5zM670.84 220.99h6.5v6.5h-6.5zM670.84 221.68h6.5v6.5h-6.5zM671.66 220.35h6.5v6.5h-6.5zM671.66 221.05h6.5v6.5h-6.5zM672.52 219.69h6.5v6.5h-6.5zM672.52 220.40h6.5v6.5h-6.5zM673.36 219.05h6.5v6.5h-6.5zM673.36 219.78h6.5v6.5h-6.5zM674.18 218.43h6.5v6.5h-6.5zM674.18 219.18h6.5v6.5h-6.5zM675.03 217.80h6.5v6.5h-6.5zM675.03 218.57h6.5v6.5h-6.5zM675.87 217.20h6.5v6.5h-6.5zM675.87 217.98h6.5v6.5h-6.5zM676.68 216.61h6.5v6.5h-6.5zM676.68 217.41h6.5v6.5h-6.5zM677.53 216.01h6.5v6.5h-6.5zM677.53 216.82h6.5v6.5h-6.5zM678.36 215.43h6.5v6.5h-6.5zM678.36 216.26h6.5v6.5h-6.5zM679.16 214.87h6.5v6.5h-6.5zM679.16 215.71h6.5v6.5h-6.5zM680.00 214.29h6.5v6.5h-6.5zM680.00 215.15h6.5v6.5h-6.5zM680.82 213.72h6.5v6.5h-6.5zM680.82 214.60h6.5v6.5h-6.5zM681.66 213.14h6.5v6.5h-6.5zM681.66 214.04h6.5v6.5h-6.5zM682.49 212.57h6.5v6.5h-6.5zM682.49 213.49h6.5v6.5h-6.5zM683.29 212.02h6.5v6.5h-6.5zM683.29 212.95h6.5v6.5h-6.5zM684.12 211.44h6.5v6.5h-6.5zM684.12 212.39h6.5v6.5h-6.5zM684.93 210.88h6.5v6.5h-6.5zM684.93 211.84h6.5v6.5h-6.5zM685.77 210.30h6.5v6.5h-6.5zM685.77 211.28h6.5v6.5h-6.5zM686.58 209.72h6.5v6.5h-6.5zM686.58 210.72h6.5v6.5h-6.5zM687.41 209.13h6.5v6.5h-6.5zM687.41 210.14h6.5v6.5h-6.5zM688.22 208.55h6.5v6.5h-6.5zM688.22 209.58h6.5v6.5h-6.5zM689.05 207.94h6.5v6.5h-6.5zM689.05 208.99h6.5v6.5h-6.5zM689.87 207.34h6.5v6.5h-6.5zM689.87 208.41h6.5v6.5h-6.5zM690.69 206.73h6.5v6.5h-6.5zM690.69 207.81h6.5v6.5h-6.5zM691.50 206.12h6.5v6.5h-6.5zM691.50 207.21h6.5v6.5h-6.5zM692.33 205.49h6.5v6.5h-6.5zM692.33 206.60h6.5v6.5h-6.5zM693.13 204.88h6.5v6.5h-6.5zM693.13 206.00h6.5v6.5h-6.5zM693.95 204.25h6.5v6.5h-6.5zM693.95 205.39h6.5v6.5h-6.5zM694.78 203.61h6.5v6.5h-6.5zM694.78 204.77h6.5v6.5h-6.5zM695.59 202.99h6.5v6.5h-6.5zM695.59 204.16h6.5v6.5h-6.5zM696.41 202.36h6.5v6.5h-6.5zM696.41 203.55h6.5v6.5h-6.5zM697.21 201.75h6.5v6.5h-6.5zM697.21 202.96h6.5v6.5h-6.5zM698.03 201.14h6.5v6.5h-6.5zM698.03 202.37h6.5v6.5h-6.5zM698.85 200.53h6.5v6.5h-6.5zM698.85 201.78h6.5v6.5h-6.5zM699.65 199.95h6.5v6.5h-6.5zM699.65 201.20h6.5v6.5h-6.5zM700.46 199.36h6.5v6.5h-6.5zM700.46 200.64h6.5v6.5h-6.5zM701.28 198.78h6.5v6.5h-6.5zM701.28 200.07h6.5v6.5h-6.5zM702.10 198.21h6.5v6.5h-6.5zM702.10 199.51h6.5v6.5h-6.5zM702.91 197.65h6.5v6.5h-6.5zM702.91 198.98h6.5v6.5h-6.5zM703.72 197.10h6.5v6.5h-6.5zM703.72 198.44h6.5v6.5h-6.5zM704.54 196.54h6.5v6.5h-6.5zM704.54 197.90h6.5v6.5h-6.5zM705.36 195.98h6.5v6.5h-6.5zM705.36 197.36h6.5v6.5h-6.5zM706.16 195.44h6.5v6.5h-6.5zM706.16 196.83h6.5v6.5h-6.5zM706.96 194.88h6.5v6.5h-6.5zM706.96 196.29h6.5v6.5h-6.5zM707.77 194.32h6.5v6.5h-6.5zM707.77 195.75h6.5v6.5h-6.5zM708.58 193.76h6.5v6.5h-6.5zM708.58 195.19h6.5v6.5h-6.5zM709.39 193.18h6.5v6.5h-6.5zM709.39 194.63h6.5v6.5h-6.5zM710.20 192.59h6.5v6.5h-6.5zM710.20 194.06h6.5v6.5h-6.5zM711.01 192.00h6.5v6.5h-6.5zM711.01 193.48h6.5v6.5h-6.5zM711.83 191.40h6.5v6.5h-6.5zM711.83 192.90h6.5v6.5h-6.5zM712.64 190.79h6.5v6.5h-6.5zM712.64 192.31h6.5v6.5h-6.5zM713.45 190.18h6.5v6.5h-6.5zM713.45 191.71h6.5v6.5h-6.5zM714.26 189.56h6.5v6.5h-6.5zM714.26 191.11h6.5v6.5h-6.5zM715.07 188.94h6.5v6.5h-6.5zM715.07 190.51h6.5v6.5h-6.5zM715.88 188.32h6.5v6.5h-6.5zM715.88 189.91h6.5v6.5h-6.5zM716.69 187.71h6.5v6.5h-6.5zM716.69 189.31h6.5v6.5h-6.5zM717.49 187.10h6.5v6.5h-6.5zM717.49 188.71h6.5v6.5h-6.5zM718.29 186.49h6.5v6.5h-6.5zM718.29 188.12h6.5v6.5h-6.5zM719.10 185.88h6.5v6.5h-6.5zM719.10 187.53h6.5v6.5h-6.5zM719.91 185.28h6.5v6.5h-6.5zM719.91 186.95h6.5v6.5h-6.5zM720.72 184.69h6.5v6.5h-6.5zM720.72 186.37h6.5v6.5h-6.5zM721.52 184.12h6.5v6.5h-6.5zM721.52 185.81h6.5v6.5h-6.5zM722.33 183.54h6.5v6.5h-6.5zM722.33 185.25h6.5v6.5h-6.5zM723.14 182.97h6.5v6.5h-6.5zM723.14 184.70h6.5v6.5h-6.5zM723.94 182.41h6.5v6.5h-6.5zM723.94 184.16h6.5v6.5h-6.5zM724.75 181.85h6.5v6.5h-6.5zM724.75 183.61h6.5v6.5h-6.5zM725.55 181.30h6.5v6.5h-6.5zM725.55 183.08h6.5v6.5h-6.5zM726.36 180.75h6.5v6.5h-6.5zM726.36 182.54h6.5v6.5h-6.5zM727.16 180.19h6.5v6.5h-6.5zM727.16 182.00h6.5v6.5h-6.5zM727.97 179.63h6.5v6.5h-6.5zM727.97 181.46h6.5v6.5h-6.5zM728.77 179.07h6.5v6.5h-6.5zM728.77 180.91h6.5v6.5h-6.5zM729.57 178.50h6.5v6.5h-6.5zM729.57 180.35h6.5v6.5h-6.5zM730.38 177.91h6.5v6.5h-6.5zM730.38 179.79h6.5v6.5h-6.5zM731.18 177.32h6.5v6.5h-6.5zM731.18 179.21h6.5v6.5h-6.5zM731.99 176.72h6.5v6.5h-6.5zM731.99 178.63h6.5v6.5h-6.5zM732.79 176.12h6.5v6.5h-6.5zM732.79 178.04h6.5v6.5h-6.5zM733.60 175.50h6.5v6.5h-6.5zM733.60 177.44h6.5v6.5h-6.5zM734.41 174.88h6.5v6.5h-6.5zM734.41 176.83h6.5v6.5h-6.5zM735.22 174.26h6.5v6.5h-6.5zM735.22 176.23h6.5v6.5h-6.5zM736.03 173.64h6.5v6.5h-6.5zM736.03 175.63h6.5v6.5h-6.5zM736.84 173.03h6.5v6.5h-6.5zM736.84 175.03h6.5v6.5h-6.5zM737.64 172.44h6.5v6.5h-6.5zM737.64 174.44h6.5v6.5h-6.5zM738.45 171.86h6.5v6.5h-6.5zM738.45 173.86h6.5v6.5h-6.5zM739.25 171.29h6.5v6.5h-6.5zM739.25 173.29h6.5v6.5h-6.5zM740.06 170.73h6.5v6.5h-6.5zM740.06 172.73h6.5v6.5h-6.5zM740.86 170.19h6.5v6.5h-6.5zM740.86 172.19h6.5v6.5h-6.5zM741.67 169.65h6.5v6.5h-6.5zM741.67 171.65h6.5v6.5h-6.5zM742.47 169.11h6.5v6.5h-6.5zM742.47 171.11h6.5v6.5h-6.5zM743.27 168.58h6.5v6.5h-6.5zM743.27 170.58h6.5v6.5h-6.5zM744.07 168.04h6.5v6.5h-6.5zM744.07 170.04h6.5v6.5h-6.5zM744.87 167.50h6.5v6.5h-6.5zM744.87 169.50h6.5v6.5h-6.5zM745.68 166.95h6.5v6.5h-6.5zM745.68 168.95h6.5v6.5h-6.5zM746.48 166.38h6.5v6.5h-6.5zM746.48 168.38h6.5v6.5h-6.5zM747.00 166.01h6.5v6.5h-6.5zM747.00 168.01h6.5v6.5h-6.5z"/>
<g fill="none" stroke="#7CAE00" stroke-width="1.55" stroke-opacity="0.7"><path d="M525.7 343.3h10.30M530.9 338.2v10.30"/><path d="M539.5 327.0h10.30M544.7 321.9v10.30"/><path d="M549.3 316.5h10.30M554.5 311.3v10.30"/><path d="M556.9 309.5h10.30M562.1 304.3v10.30"/><path d="M563.2 304.5h10.30M568.3 299.4v10.30"/><path d="M568.4 300.1h10.30M573.6 294.9v10.30"/><path d="M573.0 296.1h10.30M578.1 290.9v10.30"/><path d="M577.0 292.7h10.30M582.1 287.5v10.30"/><path d="M580.6 289.8h10.30M585.7 284.7v10.30"/><path d="M583.8 287.2h10.30M589.0 282.1v10.30"/><path d="M586.8 284.9h10.30M591.9 279.8v10.30"/><path d="M589.5 282.9h10.30M594.7 277.7v10.30"/><path d="M592.0 281.0h10.30M597.2 275.9v10.30"/><path d="M594.4 279.3h10.30M599.5 274.2v10.30"/><path d="M596.6 277.7h10.30M601.7 272.6v10.30"/><path d="M598.6 276.2h10.30M603.8 271.0v10.30"/><path d="M600.6 274.6h10.30M605.7 269.5v10.30"/><path d="M602.4 273.1h10.30M607.6 268.0v10.30"/><path d="M604.2 271.7h10.30M609.3 266.6v10.30"/><path d="M605.8 270.3h10.30M611.0 265.2v10.30"/><path d="M607.4 269.1h10.30M612.6 263.9v10.30"/><path d="M608.9 267.9h10.30M614.1 262.7v10.30"/><path d="M610.4 266.8h10.30M615.5 261.6v10.30"/><path d="M611.8 265.8h10.30M616.9 260.6v10.30"/><path d="M613.1 264.9h10.30M618.3 259.7v10.30"/><path d="M614.4 264.0h10.30M619.6 258.8v10.30"/><path d="M615.6 263.2h10.30M620.8 258.0v10.30"/><path d="M616.8 262.3h10.30M622.0 257.2v10.30"/><path d="M618.0 261.6h10.30M623.1 256.4v10.30"/><path d="M619.1 260.8h10.30M624.3 255.6v10.30"/><path d="M620.2 260.0h10.30M625.3 254.8v10.30"/><path d="M621.2 259.2h10.30M626.4 254.1v10.30"/><path d="M622.3 258.5h10.30M627.4 253.3v10.30"/><path d="M623.3 257.7h10.30M628.4 252.6v10.30"/><path d="M624.2 257.0h10.30M629.4 251.8v10.30"/><path d="M625.1 256.2h10.30M630.3 251.1v10.30"/><path d="M626.1 255.5h10.30M631.2 250.4v10.30"/><path d="M626.9 254.8h10.30M632.1 249.7v10.30"/><path d="M627.8 254.2h10.30M633.0 249.0v10.30"/><path d="M628.6 253.5h10.30M633.8 248.4v10.30"/><path d="M629.5 252.9h10.30M634.6 247.8v10.30"/><path d="M630.3 252.3h10.30M635.4 247.2v10.30"/><path d="M631.1 251.8h10.30M636.2 246.6v10.30"/><path d="M631.8 251.2h10.30M637.0 246.0v10.30"/></g>
<path fill="none" stroke="#7CAE00" stroke-width="1.55" d="M633.3 250.1h10.3m-5.2 -5.2v10.3M634.7 249.1h10.3m-5.2 -5.2v10.3M636.1 248.2h10.3m-5.2 -5.2v10.3M637.4 247.3h10.3m-5.2 -5.2v10.3M638.7 246.3h10.3m-5.2 -5.2v10.3M639.9 245.4h10.3m-5.2 -5.2v10.3M641.0 244.6h10.3m-5.2 -5.2v10.3M642.2 243.7h10.3m-5.2 -5.2v10.3M643.3 242.8h10.3m-5.2 -5.2v10.3M644.3 242.0h10.3m-5.2 -5.2v10.3M645.4 241.2h10.3m-5.2 -5.2v10.3M646.4 240.5h10.3m-5.2 -5.2v10.3M647.4 239.8h10.3m-5.2 -5.2v10.3M648.3 239.1h10.3m-5.2 -5.2v10.3M649.2 238.4h10.3m-5.2 -5.2v10.3M650.1 237.6h10.3m-5.2 -5.2v10.3M650.1 237.9h10.3m-5.2 -5.2v10.3M651.0 237.0h10.3m-5.2 -5.2v10.3M651.0 237.4h10.3m-5.2 -5.2v10.3M651.8 236.5h10.3m-5.2 -5.2v10.3M651.8 236.8h10.3m-5.2 -5.2v10.3M652.7 235.9h10.3m-5.2 -5.2v10.3M652.7 236.3h10.3m-5.2 -5.2v10.3M653.5 235.4h10.3m-5.2 -5.2v10.3M653.5 235.7h10.3m-5.2 -5.2v10.3M654.7 234.6h10.3m-5.2 -5.2v10.3M654.7 235.0h10.3m-5.2 -5.2v10.3M655.8 233.8h10.3m-5.2 -5.2v10.3M655.8 234.2h10.3m-5.2 -5.2v10.3M656.9 233.0h10.3m-5.2 -5.2v10.3M656.9 233.5h10.3m-5.2 -5.2v10.3M658.0 232.3h10.3m-5.2 -5.2v10.3M658.0 232.8h10.3m-5.2 -5.2v10.3M659.0 231.5h10.3m-5.2 -5.2v10.3M659.0 232.0h10.3m-5.2 -5.2v10.3M660.0 230.8h10.3m-5.2 -5.2v10.3M660.0 231.3h10.3m-5.2 -5.2v10.3M661.0 230.0h10.3m-5.2 -5.2v10.3M661.0 230.6h10.3m-5.2 -5.2v10.3M662.0 229.3h10.3m-5.2 -5.2v10.3M662.0 229.8h10.3m-5.2 -5.2v10.3M662.9 228.6h10.3m-5.2 -5.2v10.3M662.9 229.1h10.3m-5.2 -5.2v10.3M663.8 227.8h10.3m-5.2 -5.2v10.3M663.8 228.4h10.3m-5.2 -5.2v10.3M664.7 227.1h10.3m-5.2 -5.2v10.3M664.7 227.7h10.3m-5.2 -5.2v10.3M665.5 226.4h10.3m-5.2 -5.2v10.3M665.5 227.1h10.3m-5.2 -5.2v10.3M666.4 225.8h10.3m-5.2 -5.2v10.3M666.4 226.4h10.3m-5.2 -5.2v10.3M667.2 225.1h10.3m-5.2 -5.2v10.3M667.2 225.8h10.3m-5.2 -5.2v10.3M668.2 224.3h10.3m-5.2 -5.2v10.3M668.2 225.0h10.3m-5.2 -5.2v10.3M669.3 223.5h10.3m-5.2 -5.2v10.3M669.3 224.2h10.3m-5.2 -5.2v10.3M670.3 222.8h10.3m-5.2 -5.2v10.3M670.3 223.5h10.3m-5.2 -5.2v10.3M671.2 222.1h10.3m-5.2 -5.2v10.3M671.2 222.8h10.3m-5.2 -5.2v10.3M672.2 221.4h10.3m-5.2 -5.2v10.3M672.2 222.1h10.3m-5.2 -5.2v10.3M673.1 220.8h10.3m-5.2 -5.2v10.3M673.1 221.5h10.3m-5.2 -5.2v10.3M674.0 220.1h10.3m-5.2 -5.2v10.3M674.0 220.9h10.3m-5.2 -5.2v10.3M674.8 219.6h10.3m-5.2 -5.2v10.3M674.8 220.4h10.3m-5.2 -5.2v10.3M675.7 219.0h10.3m-5.2 -5.2v10.3M675.7 219.8h10.3m-5.2 -5.2v10.3M676.5 218.4h10.3m-5.2 -5.2v10.3M676.5 219.3h10.3m-5.2 -5.2v10.3M677.3 217.9h10.3m-5.2 -5.2v10.3M677.3 218.7h10.3m-5.2 -5.2v10.3M678.3 217.2h10.3m-5.2 -5.2v10.3M678.3 218.1h10.3m-5.2 -5.2v10.3M679.3 216.6h10.3m-5.2 -5.2v10.3M679.3 217.5h10.3m-5.2 -5.2v10.3M680.2 215.9h10.3m-5.2 -5.2v10.3M680.2 216.8h10.3m-5.2 -5.2v10.3M681.1 215.3h10.3m-5.2 -5.2v10.3M681.1 216.2h10.3m-5.2 -5.2v10.3M682.0 214.7h10.3m-5.2 -5.2v10.3M682.0 215.6h10.3m-5.2 -5.2v10.3M682.8 214.1h10.3m-5.2 -5.2v10.3M682.8 215.0h10.3m-5.2 -5.2v10.3M683.7 213.4h10.3m-5.2 -5.2v10.3M683.7 214.4h10.3m-5.2 -5.2v10.3M684.5 212.8h10.3m-5.2 -5.2v10.3M684.5 213.8h10.3m-5.2 -5.2v10.3M685.4 212.1h10.3m-5.2 -5.2v10.3M685.4 213.2h10.3m-5.2 -5.2v10.3M686.4 211.5h10.3m-5.2 -5.2v10.3M686.4 212.5h10.3m-5.2 -5.2v10.3M687.3 210.8h10.3m-5.2 -5.2v10.3M687.3 211.8h10.3m-5.2 -5.2v10.3M688.1 210.1h10.3m-5.2 -5.2v10.3M688.1 211.2h10.3m-5.2 -5.2v10.3M689.0 209.5h10.3m-5.2 -5.2v10.3M689.0 210.6h10.3m-5.2 -5.2v10.3M689.8 208.9h10.3m-5.2 -5.2v10.3M689.8 210.0h10.3m-5.2 -5.2v10.3M690.7 208.3h10.3m-5.2 -5.2v10.3M690.7 209.4h10.3m-5.2 -5.2v10.3M691.6 207.6h10.3m-5.2 -5.2v10.3M691.6 208.7h10.3m-5.2 -5.2v10.3M692.5 206.9h10.3m-5.2 -5.2v10.3M692.5 208.0h10.3m-5.2 -5.2v10.3M693.4 206.2h10.3m-5.2 -5.2v10.3M693.4 207.4h10.3m-5.2 -5.2v10.3M694.2 205.6h10.3m-5.2 -5.2v10.3M694.2 206.8h10.3m-5.2 -5.2v10.3M695.1 204.9h10.3m-5.2 -5.2v10.3M695.1 206.1h10.3m-5.2 -5.2v10.3M695.9 204.3h10.3m-5.2 -5.2v10.3M695.9 205.5h10.3m-5.2 -5.2v10.3M696.8 203.6h10.3m-5.2 -5.2v10.3M696.8 204.9h10.3m-5.2 -5.2v10.3M697.7 202.9h10.3m-5.2 -5.2v10.3M697.7 204.2h10.3m-5.2 -5.2v10.3M698.6 202.3h10.3m-5.2 -5.2v10.3M698.6 203.5h10.3m-5.2 -5.2v10.3M699.4 201.6h10.3m-5.2 -5.2v10.3M699.4 202.9h10.3m-5.2 -5.2v10.3M700.2 201.0h10.3m-5.2 -5.2v10.3M700.2 202.3h10.3m-5.2 -5.2v10.3M701.0 200.4h10.3m-5.2 -5.2v10.3M701.0 201.7h10.3m-5.2 -5.2v10.3M701.9 199.7h10.3m-5.2 -5.2v10.3M701.9 201.0h10.3m-5.2 -5.2v10.3M702.8 199.0h10.3m-5.2 -5.2v10.3M702.8 200.4h10.3m-5.2 -5.2v10.3M703.6 198.4h10.3m-5.2 -5.2v10.3M703.6 199.8h10.3m-5.2 -5.2v10.3M704.4 197.8h10.3m-5.2 -5.2v10.3M704.4 199.2h10.3m-5.2 -5.2v10.3M705.3 197.2h10.3m-5.2 -5.2v10.3M705.3 198.6h10.3m-5.2 -5.2v10.3M706.2 196.6h10.3m-5.2 -5.2v10.3M706.2 198.1h10.3m-5.2 -5.2v10.3M707.0 196.1h10.3m-5.2 -5.2v10.3M707.0 197.5h10.3m-5.2 -5.2v10.3M707.9 195.6h10.3m-5.2 -5.2v10.3M707.9 197.0h10.3m-5.2 -5.2v10.3M708.7 195.1h10.3m-5.2 -5.2v10.3M708.7 196.5h10.3m-5.2 -5.2v10.3M709.5 194.5h10.3m-5.2 -5.2v10.3M709.5 196.0h10.3m-5.2 -5.2v10.3M710.4 194.0h10.3m-5.2 -5.2v10.3M710.4 195.5h10.3m-5.2 -5.2v10.3M711.2 193.5h10.3m-5.2 -5.2v10.3M711.2 195.0h10.3m-5.2 -5.2v10.3M712.0 193.0h10.3m-5.2 -5.2v10.3M712.0 194.6h10.3m-5.2 -5.2v10.3M712.8 192.5h10.3m-5.2 -5.2v10.3M712.8 194.1h10.3m-5.2 -5.2v10.3M713.7 192.0h10.3m-5.2 -5.2v10.3M713.7 193.5h10.3m-5.2 -5.2v10.3M714.5 191.4h10.3m-5.2 -5.2v10.3M714.5 193.0h10.3m-5.2 -5.2v10.3M715.3 190.8h10.3m-5.2 -5.2v10.3M715.3 192.4h10.3m-5.2 -5.2v10.3M716.2 190.2h10.3m-5.2 -5.2v10.3M716.2 191.8h10.3m-5.2 -5.2v10.3M717.0 189.6h10.3m-5.2 -5.2v10.3M717.0 191.2h10.3m-5.2 -5.2v10.3M717.9 188.9h10.3m-5.2 -5.2v10.3M717.9 190.5h10.3m-5.2 -5.2v10.3M718.7 188.2h10.3m-5.2 -5.2v10.3M718.7 189.8h10.3m-5.2 -5.2v10.3M719.5 187.5h10.3m-5.2 -5.2v10.3M719.5 189.2h10.3m-5.2 -5.2v10.3M720.4 186.7h10.3m-5.2 -5.2v10.3M720.4 188.4h10.3m-5.2 -5.2v10.3M721.2 186.0h10.3m-5.2 -5.2v10.3M721.2 187.7h10.3m-5.2 -5.2v10.3M722.0 185.2h10.3m-5.2 -5.2v10.3M722.0 187.0h10.3m-5.2 -5.2v10.3M722.9 184.5h10.3m-5.2 -5.2v10.3M722.9 186.2h10.3m-5.2 -5.2v10.3M723.7 183.7h10.3m-5.2 -5.2v10.3M723.7 185.5h10.3m-5.2 -5.2v10.3M724.5 183.0h10.3m-5.2 -5.2v10.3M724.5 184.8h10.3m-5.2 -5.2v10.3M725.3 182.3h10.3m-5.2 -5.2v10.3M725.3 184.1h10.3m-5.2 -5.2v10.3M726.2 181.7h10.3m-5.2 -5.2v10.3M726.2 183.5h10.3m-5.2 -5.2v10.3M727.0 181.0h10.3m-5.2 -5.2v10.3M727.0 182.9h10.3m-5.2 -5.2v10.3M727.8 180.4h10.3m-5.2 -5.2v10.3M727.8 182.3h10.3m-5.2 -5.2v10.3M728.6 179.9h10.3m-5.2 -5.2v10.3M728.6 181.8h10.3m-5.2 -5.2v10.3M729.5 179.3h10.3m-5.2 -5.2v10.3M729.5 181.2h10.3m-5.2 -5.2v10.3M730.3 178.8h10.3m-5.2 -5.2v10.3M730.3 180.8h10.3m-5.2 -5.2v10.3M731.1 178.4h10.3m-5.2 -5.2v10.3M731.1 180.3h10.3m-5.2 -5.2v10.3M731.9 177.9h10.3m-5.2 -5.2v10.3M731.9 179.8h10.3m-5.2 -5.2v10.3M732.8 177.5h10.3m-5.2 -5.2v10.3M732.8 179.4h10.3m-5.2 -5.2v10.3M733.6 177.0h10.3m-5.2 -5.2v10.3M733.6 179.0h10.3m-5.2 -5.2v10.3M734.4 176.6h10.3m-5.2 -5.2v10.3M734.4 178.6h10.3m-5.2 -5.2v10.3M735.2 176.1h10.3m-5.2 -5.2v10.3M735.2 178.1h10.3m-5.2 -5.2v10.3M736.0 175.6h10.3m-5.2 -5.2v10.3M736.0 177.6h10.3m-5.2 -5.2v10.3M736.8 175.2h10.3m-5.2 -5.2v10.3M736.8 177.2h10.3m-5.2 -5.2v10.3M737.7 174.6h10.3m-5.2 -5.2v10.3M737.7 176.6h10.3m-5.2 -5.2v10.3M738.5 174.1h10.3m-5.2 -5.2v10.3M738.5 176.1h10.3m-5.2 -5.2v10.3M739.3 173.5h10.3m-5.2 -5.2v10.3M739.3 175.5h10.3m-5.2 -5.2v10.3M740.1 172.9h10.3m-5.2 -5.2v10.3M740.1 174.9h10.3m-5.2 -5.2v10.3M740.9 172.3h10.3m-5.2 -5.2v10.3M740.9 174.3h10.3m-5.2 -5.2v10.3M741.8 171.6h10.3m-5.2 -5.2v10.3M741.8 173.6h10.3m-5.2 -5.2v10.3M742.6 171.0h10.3m-5.2 -5.2v10.3M742.6 173.0h10.3m-5.2 -5.2v10.3M743.4 170.3h10.3m-5.2 -5.2v10.3M743.4 172.3h10.3m-5.2 -5.2v10.3M744.2 169.6h10.3m-5.2 -5.2v10.3M744.2 171.6h10.3m-5.2 -5.2v10.3M745.0 168.9h10.3m-5.2 -5.2v10.3M745.0 170.9h10.3m-5.2 -5.2v10.3M745.8 168.2h10.3m-5.2 -5.2v10.3M745.8 170.2h10.3m-5.2 -5.2v10.3M746.6 167.6h10.3m-5.2 -5.2v10.3M746.6 169.6h10.3m-5.2 -5.2v10.3M747.4 166.9h10.3m-5.2 -5.2v10.3M747.4 168.9h10.3m-5.2 -5.2v10.3M748.3 166.2h10.3m-5.2 -5.2v10.3M748.3 168.2h10.3m-5.2 -5.2v10.3M749.1 165.6h10.3m-5.2 -5.2v10.3M749.1 167.6h10.3m-5.2 -5.2v10.3M749.9 165.0h10.3m-5.2 -5.2v10.3M749.9 167.0h10.3m-5.2 -5.2v10.3M750.7 164.3h10.3m-5.2 -5.2v10.3M750.7 166.3h10.3m-5.2 -5.2v10.3M751.5 163.8h10.3m-5.2 -5.2v10.3M751.5 165.8h10.3m-5.2 -5.2v10.3M752.3 163.2h10.3m-5.2 -5.2v10.3M752.3 165.2h10.3m-5.2 -5.2v10.3M753.1 162.6h10.3m-5.2 -5.2v10.3M753.1 164.6h10.3m-5.2 -5.2v10.3M753.9 162.1h10.3m-5.2 -5.2v10.3M753.9 164.1h10.3m-5.2 -5.2v10.3M754.7 161.5h10.3m-5.2 -5.2v10.3M754.7 163.5h10.3m-5.2 -5.2v10.3M755.5 161.0h10.3m-5.2 -5.2v10.3M755.5 163.0h10.3m-5.2 -5.2v10.3M756.4 160.4h10.3m-5.2 -5.2v10.3M756.4 162.4h10.3m-5.2 -5.2v10.3M757.2 159.9h10.3m-5.2 -5.2v10.3M757.2 161.9h10.3m-5.2 -5.2v10.3M758.0 159.3h10.3m-5.2 -5.2v10.3M758.0 161.3h10.3m-5.2 -5.2v10.3M758.8 158.8h10.3m-5.2 -5.2v10.3M758.8 160.8h10.3m-5.2 -5.2v10.3M759.6 158.2h10.3m-5.2 -5.2v10.3M759.6 160.2h10.3m-5.2 -5.2v10.3M760.4 157.6h10.3m-5.2 -5.2v10.3M760.4 159.6h10.3m-5.2 -5.2v10.3M761.2 157.1h10.3m-5.2 -5.2v10.3M761.2 159.1h10.3m-5.2 -5.2v10.3M762.0 156.5h10.3m-5.2 -5.2v10.3M762.0 158.5h10.3m-5.2 -5.2v10.3M762.8 156.0h10.3m-5.2 -5.2v10.3M762.8 158.0h10.3m-5.2 -5.2v10.3M763.6 155.5h10.3m-5.2 -5.2v10.3M763.6 157.5h10.3m-5.2 -5.2v10.3M764.4 154.9h10.3m-5.2 -5.2v10.3M764.4 156.9h10.3m-5.2 -5.2v10.3M765.3 154.4h10.3m-5.2 -5.2v10.3M765.3 156.4h10.3m-5.2 -5.2v10.3M766.1 153.9h10.3m-5.2 -5.2v10.3M766.1 155.9h10.3m-5.2 -5.2v10.3M766.9 153.3h10.3m-5.2 -5.2v10.3M766.9 155.3h10.3m-5.2 -5.2v10.3M767.7 152.8h10.3m-5.2 -5.2v10.3M767.7 154.8h10.3m-5.2 -5.2v10.3M768.5 152.3h10.3m-5.2 -5.2v10.3M768.5 154.3h10.3m-5.2 -5.2v10.3M769.3 151.8h10.3m-5.2 -5.2v10.3M769.3 153.8h10.3m-5.2 -5.2v10.3M770.1 151.3h10.3m-5.2 -5.2v10.3M770.1 153.3h10.3m-5.2 -5.2v10.3M770.9 150.7h10.3m-5.2 -5.2v10.3M770.9 152.7h10.3m-5.2 -5.2v10.3M771.7 150.2h10.3m-5.2 -5.2v10.3M771.7 152.2h10.3m-5.2 -5.2v10.3M772.5 149.6h10.3m-5.2 -5.2v10.3M772.5 151.6h10.3m-5.2 -5.2v10.3M773.3 149.0h10.3m-5.2 -5.2v10.3M773.3 151.0h10.3m-5.2 -5.2v10.3M774.1 148.4h10.3m-5.2 -5.2v10.3M774.1 150.4h10.3m-5.2 -5.2v10.3M774.9 147.8h10.3m-5.2 -5.2v10.3M774.9 149.8h10.3m-5.2 -5.2v10.3M775.7 147.1h10.3m-5.2 -5.2v10.3M775.7 149.1h10.3m-5.2 -5.2v10.3M776.5 146.4h10.3m-5.2 -5.2v10.3M776.5 148.4h10.3m-5.2 -5.2v10.3M777.3 145.8h10.3m-5.2 -5.2v10.3M777.3 147.8h10.3m-5.2 -5.2v10.3M778.1 145.0h10.3m-5.2 -5.2v10.3M778.1 147.0h10.3m-5.2 -5.2v10.3M778.9 144.3h10.3m-5.2 -5.2v10.3M778.9 146.3h10.3m-5.2 -5.2v10.3M779.8 143.6h10.3m-5.2 -5.2v10.3M779.8 145.6h10.3m-5.2 -5.2v10.3M780.6 142.9h10.3m-5.2 -5.2v10.3M780.6 144.9h10.3m-5.2 -5.2v10.3M781.4 142.3h10.3m-5.2 -5.2v10.3M781.4 144.3h10.3m-5.2 -5.2v10.3M782.2 141.6h10.3m-5.2 -5.2v10.3M782.2 143.6h10.3m-5.2 -5.2v10.3M783.0 141.0h10.3m-5.2 -5.2v10.3M783.0 143.0h10.3m-5.2 -5.2v10.3M783.8 140.4h10.3m-5.2 -5.2v10.3M783.8 142.4h10.3m-5.2 -5.2v10.3M784.6 139.8h10.3m-5.2 -5.2v10.3M784.6 141.8h10.3m-5.2 -5.2v10.3M785.4 139.3h10.3m-5.2 -5.2v10.3M785.4 141.3h10.3m-5.2 -5.2v10.3M786.2 138.8h10.3m-5.2 -5.2v10.3M786.2 140.8h10.3m-5.2 -5.2v10.3M787.0 138.3h10.3m-5.2 -5.2v10.3M787.0 140.3h10.3m-5.2 -5.2v10.3M787.8 137.8h10.3m-5.2 -5.2v10.3M787.8 139.8h10.3m-5.2 -5.2v10.3M788.6 137.4h10.3m-5.2 -5.2v10.3M788.6 139.4h10.3m-5.2 -5.2v10.3M789.4 136.9h10.3m-5.2 -5.2v10.3M789.4 138.9h10.3m-5.2 -5.2v10.3M790.2 136.5h10.3m-5.2 -5.2v10.3M790.2 138.5h10.3m-5.2 -5.2v10.3M791.0 136.1h10.3m-5.2 -5.2v10.3M791.0 138.1h10.3m-5.2 -5.2v10.3M791.8 135.6h10.3m-5.2 -5.2v10.3M791.8 137.6h10.3m-5.2 -5.2v10.3M792.3 135.3h10.3m-5.2 -5.2v10.3M792.3 137.3h10.3m-5.2 -5.2v10.3"/>
<g fill="#00BFC4" fill-opacity="0.7"><circle cx="217.0" cy="602.7" r="3.475"/><circle cx="230.8" cy="585.8" r="3.475"/><circle cx="240.6" cy="575.9" r="3.475"/><circle cx="248.2" cy="568.9" r="3.475"/><circle cx="254.4" cy="563.4" r="3.475"/><circle cx="259.7" cy="559.0" r="3.475"/><circle cx="264.2" cy="555.2" r="3.475"/><circle cx="268.2" cy="552.0" r="3.475"/><circle cx="271.8" cy="549.1" r="3.475"/><circle cx="275.1" cy="546.6" r="3.475"/><circle cx="278.0" cy="544.2" r="3.475"/><circle cx="280.8" cy="542.1" r="3.475"/><circle cx="283.3" cy="540.2" r="3.475"/><circle cx="285.6" cy="538.3" r="3.475"/><circle cx="287.8" cy="536.6" r="3.475"/><circle cx="289.9" cy="535.0" r="3.475"/><circle cx="291.9" cy="533.6" r="3.475"/><circle cx="293.7" cy="532.2" r="3.475"/><circle cx="295.5" cy="530.9" r="3.475"/><circle cx="297.1" cy="529.7" r="3.475"/><circle cx="298.7" cy="528.5" r="3.475"/><circle cx="300.2" cy="527.3" r="3.475"/><circle cx="301.7" cy="526.2" r="3.475"/><circle cx="303.1" cy="525.2" r="3.475"/><circle cx="304.4" cy="524.2" r="3.475"/><circle cx="305.7" cy="523.3" r="3.475"/><circle cx="306.9" cy="522.4" r="3.475"/><circle cx="308.1" cy="521.5" r="3.475"/><circle cx="309.3" cy="520.6" r="3.475"/><circle cx="310.4" cy="519.8" r="3.475"/><circle cx="311.5" cy="519.0" r="3.475"/><circle cx="312.5" cy="518.3" r="3.475"/><circle cx="313.5" cy="517.5" r="3.475"/><circle cx="314.5" cy="516.8" r="3.475"/><circle cx="315.5" cy="516.1" r="3.475"/><circle cx="316.4" cy="515.4" r="3.475"/><circle cx="317.3" cy="514.7" r="3.475"/><circle cx="318.2" cy="514.0" r="3.475"/><circle cx="319.1" cy="513.3" r="3.475"/><circle cx="319.9" cy="512.7" r="3.475"/><circle cx="320.7" cy="512.0" r="3.475"/><circle cx="321.5" cy="511.4" r="3.475"/><circle cx="322.3" cy="510.8" r="3.475"/><circle cx="323.1" cy="510.2" r="3.475"/></g>
<path fill="none" stroke="#00BFC4" stroke-width="6.95" stroke-linecap="round" d="M324.6 509.2h0M326.0 508.1h0M327.4 507.2h0M328.7 506.3h0M329.9 505.5h0M331.1 504.7h0M332.3 503.9h0M333.5 503.1h0M334.6 502.4h0M335.6 501.6h0M336.7 500.8h0M337.7 500.0h0M338.6 499.2h0M339.6 498.5h0M340.5 497.7h0M341.4 497.0h0M342.3 496.3h0M343.1 495.7h0M344.0 495.0h0M344.8 494.4h0M345.9 493.5h0M347.1 492.7h0M348.2 492.0h0M349.3 491.3h0M350.3 490.6h0M351.3 489.9h0M352.3 489.3h0M353.2 488.7h0M354.2 488.0h0M355.1 487.4h0M355.9 486.8h0M356.8 486.2h0M357.6 485.6h0M358.4 484.9h0M359.5 484.1h0M360.5 483.4h0M361.5 482.6h0M362.5 481.8h0M363.4 481.1h0M364.3 480.4h0M365.2 479.8h0M366.1 479.2h0M367.0 478.6h0M367.8 478.0h0M368.6 477.4h0M369.6 476.8h0M370.5 476.1h0M371.4 475.5h0M372.4 474.8h0M373.2 474.2h0M374.1 473.6h0M374.9 473.0h0M375.7 472.4h0M376.7 471.7h0M377.6 471.0h0M378.5 470.3h0M379.4 469.7h0M380.3 469.0h0M381.1 468.4h0M381.9 467.8h0M382.9 467.1h0M383.8 466.4h0M384.7 465.8h0M385.5 465.2h0M386.3 464.6h0M387.2 464.1h0M388.1 463.5h0M389.0 462.9h0M389.8 462.3h0M390.7 461.8h0M391.5 461.2h0M392.3 460.7h0M393.2 460.1h0M394.0 459.5h0M394.9 458.9h0M395.7 458.2h0M396.6 457.6h0M397.5 456.9h0M398.3 456.2h0M399.1 455.6h0M399.9 454.9h0M400.8 454.3h0M401.6 453.6h0M402.5 453.0h0M403.3 452.3h0M404.1 451.7h0M404.9 451.1h0M405.8 450.5h0M406.6 449.9h0M407.5 449.4h0M408.3 448.8h0M409.1 448.3h0M410.0 447.7h0M410.8 447.2h0M411.6 446.7h0M412.5 446.1h0M413.3 445.6h0M414.1 445.0h0M415.0 444.5h0M415.8 443.9h0M416.6 443.3h0M417.4 442.7h0M418.3 442.1h0M419.1 441.5h0M419.9 440.8h0M420.7 440.2h0M421.5 439.6h0M422.4 438.9h0M423.2 438.3h0M424.0 437.6h0M424.8 437.0h0M425.7 436.4h0M426.5 435.8h0M427.3 435.2h0M428.1 434.6h0M428.9 434.0h0M429.7 433.4h0M430.6 432.9h0M431.4 432.3h0M432.2 431.8h0M433.0 431.2h0M433.8 430.7h0M434.6 430.1h0M435.5 429.6h0M436.3 429.0h0M437.1 428.5h0M437.9 427.9h0M438.7 427.3h0M439.5 426.7h0M440.3 426.2h0M441.1 425.6h0M442.0 425.0h0M442.8 424.4h0M443.6 423.8h0M444.4 423.2h0M445.2 422.7h0M446.0 422.1h0M446.8 421.5h0M447.6 420.9h0M448.4 420.3h0M449.3 419.7h0M450.1 419.1h0M450.9 418.5h0M451.7 417.9h0M452.5 417.3h0M453.3 416.7h0M454.1 416.1h0M454.9 415.6h0M455.7 415.0h0M456.5 414.4h0M457.3 413.8h0M458.1 413.2h0M458.9 412.7h0M459.8 412.1h0M460.6 411.5h0M461.4 411.0h0M462.2 410.4h0M463.0 409.9h0M463.8 409.3h0M464.6 408.7h0M465.4 408.2h0M466.2 407.6h0M467.0 407.0h0M467.8 406.4h0M468.6 405.9h0M469.4 405.3h0M470.2 404.7h0M471.0 404.1h0M471.8 403.5h0M472.6 403.0h0M473.4 402.4h0M474.3 401.8h0M475.1 401.2h0M475.9 400.6h0M476.7 400.1h0M477.5 399.5h0M478.3 398.9h0M479.1 398.4h0M479.9 397.8h0M480.7 397.2h0M481.5 396.7h0M482.3 396.1h0M483.1 395.5h0M483.6 395.1h0"/>
<g fill="#00BFC4" fill-opacity="0.7"><path d="M373.9 485.3l4.21 7.30h-8.42z"/><path d="M387.7 468.0l4.21 7.30h-8.42z"/><path d="M397.5 458.6l4.21 7.30h-8.42z"/><path d="M405.1 451.3l4.21 7.30h-8.42z"/><path d="M411.4 445.7l4.21 7.30h-8.42z"/><path d="M416.6 441.2l4.21 7.30h-8.42z"/><path d="M421.2 437.8l4.21 7.30h-8.42z"/><path d="M425.2 434.5l4.21 7.30h-8.42z"/><path d="M428.8 431.5l4.21 7.30h-8.42z"/><path d="M432.0 429.1l4.21 7.30h-8.42z"/><path d="M435.0 426.9l4.21 7.30h-8.42z"/><path d="M437.7 424.6l4.21 7.30h-8.42z"/><path d="M440.2 422.3l4.21 7.30h-8.42z"/><path d="M442.6 420.4l4.21 7.30h-8.42z"/><path d="M444.8 418.7l4.21 7.30h-8.42z"/><path d="M446.9 417.4l4.21 7.30h-8.42z"/><path d="M448.8 416.1l4.21 7.30h-8.42z"/><path d="M450.6 414.8l4.21 7.30h-8.42z"/><path d="M452.4 413.5l4.21 7.30h-8.42z"/><path d="M454.1 412.2l4.21 7.30h-8.42z"/><path d="M455.6 411.0l4.21 7.30h-8.42z"/><path d="M457.2 409.8l4.21 7.30h-8.42z"/><path d="M458.6 408.8l4.21 7.30h-8.42z"/><path d="M460.0 407.7l4.21 7.30h-8.42z"/><path d="M461.3 406.7l4.21 7.30h-8.42z"/><path d="M462.6 405.7l4.21 7.30h-8.42z"/><path d="M463.9 404.7l4.21 7.30h-8.42z"/><path d="M465.1 403.7l4.21 7.30h-8.42z"/><path d="M466.2 402.8l4.21 7.30h-8.42z"/><path d="M467.3 402.0l4.21 7.30h-8.42z"/><path d="M468.4 401.2l4.21 7.30h-8.42z"/><path d="M469.5 400.5l4.21 7.30h-8.42z"/><path d="M470.5 399.8l4.21 7.30h-8.42z"/><path d="M471.5 399.1l4.21 7.30h-8.42z"/><path d="M472.4 398.5l4.21 7.30h-8.42z"/><path d="M473.4 397.8l4.21 7.30h-8.42z"/><path d="M474.3 397.1l4.21 7.30h-8.42z"/><path d="M475.2 396.5l4.21 7.30h-8.42z"/><path d="M476.0 395.8l4.21 7.30h-8.42z"/><path d="M476.9 395.1l4.21 7.30h-8.42z"/><path d="M477.7 394.5l4.21 7.30h-8.42z"/><path d="M478.5 393.9l4.21 7.30h-8.42z"/><path d="M479.3 393.3l4.21 7.30h-8.42z"/><path d="M480.0 392.7l4.21 7.30h-8.42z"/></g>
<path fill="#00BFC4" d="M481.5 391.7l4.2 7.3h-8.4zM482.9 390.7l4.2 7.3h-8.4zM484.3 389.9l4.2 7.3h-8.4zM485.6 389.0l4.2 7.3h-8.4zM486.9 388.1l4.2 7.3h-8.4zM488.1 387.2l4.2 7.3h-8.4zM489.3 386.3l4.2 7.3h-8.4zM490.4 385.4l4.2 7.3h-8.4zM491.5 384.4l4.2 7.3h-8.4zM492.6 383.6l4.2 7.3h-8.4zM493.6 382.7l4.2 7.3h-8.4zM494.6 382.0l4.2 7.3h-8.4zM495.6 381.2l4.2 7.3h-8.4zM496.5 380.6l4.2 7.3h-8.4zM497.4 380.0l4.2 7.3h-8.4zM498.3 379.4l4.2 7.3h-8.4zM499.2 378.8l4.2 7.3h-8.4zM500.1 378.3l4.2 7.3h-8.4zM500.9 377.7l4.2 7.3h-8.4zM501.7 377.1l4.2 7.3h-8.4zM502.9 376.3l4.2 7.3h-8.4zM504.0 375.5l4.2 7.3h-8.4zM505.1 374.7l4.2 7.3h-8.4zM506.2 373.9l4.2 7.3h-8.4zM507.2 373.1l4.2 7.3h-8.4zM508.2 372.4l4.2 7.3h-8.4zM509.2 371.7l4.2 7.3h-8.4zM510.2 371.0l4.2 7.3h-8.4zM511.1 370.4l4.2 7.3h-8.4zM512.0 369.7l4.2 7.3h-8.4zM512.9 369.1l4.2 7.3h-8.4zM513.7 368.4l4.2 7.3h-8.4zM514.6 367.8l4.2 7.3h-8.4zM515.4 367.1l4.2 7.3h-8.4zM516.4 366.3l4.2 7.3h-8.4zM517.5 365.5l4.2 7.3h-8.4zM518.5 364.8l4.2 7.3h-8.4zM519.4 364.1l4.2 7.3h-8.4zM520.4 363.5l4.2 7.3h-8.4zM521.3 362.9l4.2 7.3h-8.4zM522.2 362.3l4.2 7.3h-8.4zM523.0 361.8l4.2 7.3h-8.4zM523.9 361.2l4.2 7.3h-8.4zM524.7 360.6l4.2 7.3h-8.4zM525.5 360.1l4.2 7.3h-8.4zM526.5 359.3l4.2 7.3h-8.4zM527.5 358.6l4.2 7.3h-8.4zM528.4 357.8l4.2 7.3h-8.4zM529.3 357.1l4.2 7.3h-8.4zM530.2 356.4l4.2 7.3h-8.4zM531.0 355.8l4.2 7.3h-8.4zM531.9 355.1l4.2 7.3h-8.4zM532.7 354.6l4.2 7.3h-8.4zM533.6 353.9l4.2 7.3h-8.4zM534.6 353.3l4.2 7.3h-8.4zM535.5 352.8l4.2 7.3h-8.4zM536.4 352.2l4.2 7.3h-8.4zM537.2 351.7l4.2 7.3h-8.4zM538.1 351.1l4.2 7.3h-8.4zM538.9 350.5l4.2 7.3h-8.4zM539.8 349.9l4.2 7.3h-8.4zM540.7 349.2l4.2 7.3h-8.4zM541.6 348.5l4.2 7.3h-8.4zM542.4 347.8l4.2 7.3h-8.4zM543.3 347.1l4.2 7.3h-8.4zM544.1 346.4l4.2 7.3h-8.4zM545.0 345.7l4.2 7.3h-8.4zM545.9 345.0l4.2 7.3h-8.4zM546.8 344.4l4.2 7.3h-8.4zM547.6 343.8l4.2 7.3h-8.4zM548.4 343.3l4.2 7.3h-8.4zM549.2 342.7l4.2 7.3h-8.4zM550.1 342.2l4.2 7.3h-8.4zM551.0 341.6l4.2 7.3h-8.4zM551.8 341.0l4.2 7.3h-8.4zM552.6 340.5l4.2 7.3h-8.4zM553.5 339.9l4.2 7.3h-8.4zM554.4 339.2l4.2 7.3h-8.4zM555.2 338.6l4.2 7.3h-8.4zM556.1 338.0l4.2 7.3h-8.4zM556.9 337.5l4.2 7.3h-8.4zM557.7 336.8l4.2 7.3h-8.4zM558.6 336.3l4.2 7.3h-8.4zM559.4 335.7l4.2 7.3h-8.4zM560.2 335.1l4.2 7.3h-8.4zM561.1 334.5l4.2 7.3h-8.4zM561.9 333.9l4.2 7.3h-8.4zM562.7 333.3l4.2 7.3h-8.4zM563.6 332.7l4.2 7.3h-8.4zM564.4 332.1l4.2 7.3h-8.4zM565.2 331.4l4.2 7.3h-8.4zM566.1 330.8l4.2 7.3h-8.4zM566.9 330.1l4.2 7.3h-8.4zM567.7 329.4l4.2 7.3h-8.4zM568.6 328.8l4.2 7.3h-8.4zM569.4 328.1l4.2 7.3h-8.4zM570.2 327.6l4.2 7.3h-8.4zM571.1 327.0l4.2 7.3h-8.4zM571.9 326.4l4.2 7.3h-8.4zM572.7 325.9l4.2 7.3h-8.4zM573.6 325.4l4.2 7.3h-8.4zM574.4 324.9l4.2 7.3h-8.4zM575.2 324.3l4.2 7.3h-8.4zM576.0 323.8l4.2 7.3h-8.4zM576.8 323.3l4.2 7.3h-8.4zM577.7 322.7l4.2 7.3h-8.4zM578.5 322.1l4.2 7.3h-8.4zM579.3 321.4l4.2 7.3h-8.4zM580.1 320.8l4.2 7.3h-8.4zM581.0 320.1l4.2 7.3h-8.4zM581.8 319.5l4.2 7.3h-8.4zM582.6 318.8l4.2 7.3h-8.4zM583.4 318.2l4.2 7.3h-8.4zM584.2 317.7l4.2 7.3h-8.4zM585.1 317.1l4.2 7.3h-8.4zM585.9 316.6l4.2 7.3h-8.4zM586.7 316.1l4.2 7.3h-8.4zM587.5 315.5l4.2 7.3h-8.4zM588.3 315.0l4.2 7.3h-8.4zM589.1 314.5l4.2 7.3h-8.4zM590.0 313.9l4.2 7.3h-8.4zM590.8 313.4l4.2 7.3h-8.4zM591.6 312.7l4.2 7.3h-8.4zM592.4 312.1l4.2 7.3h-8.4zM593.2 311.5l4.2 7.3h-8.4zM594.0 310.8l4.2 7.3h-8.4zM594.8 310.1l4.2 7.3h-8.4zM595.7 309.5l4.2 7.3h-8.4zM596.5 308.8l4.2 7.3h-8.4zM597.3 308.2l4.2 7.3h-8.4zM598.1 307.6l4.2 7.3h-8.4zM598.9 307.0l4.2 7.3h-8.4zM599.7 306.5l4.2 7.3h-8.4zM600.5 305.9l4.2 7.3h-8.4zM601.3 305.4l4.2 7.3h-8.4zM602.1 304.8l4.2 7.3h-8.4zM602.9 304.3l4.2 7.3h-8.4zM603.8 303.7l4.2 7.3h-8.4zM604.6 303.2l4.2 7.3h-8.4zM605.4 302.6l4.2 7.3h-8.4zM606.2 302.1l4.2 7.3h-8.4zM607.0 301.5l4.2 7.3h-8.4zM607.8 300.9l4.2 7.3h-8.4zM608.6 300.4l4.2 7.3h-8.4zM609.4 299.9l4.2 7.3h-8.4zM610.2 299.3l4.2 7.3h-8.4zM611.0 298.8l4.2 7.3h-8.4zM611.8 298.3l4.2 7.3h-8.4zM612.7 297.7l4.2 7.3h-8.4zM613.5 297.2l4.2 7.3h-8.4zM614.3 296.6l4.2 7.3h-8.4zM615.1 296.0l4.2 7.3h-8.4zM615.9 295.4l4.2 7.3h-8.4zM616.7 294.7l4.2 7.3h-8.4zM617.5 294.1l4.2 7.3h-8.4zM618.3 293.4l4.2 7.3h-8.4zM619.1 292.8l4.2 7.3h-8.4zM619.9 292.1l4.2 7.3h-8.4zM620.7 291.5l4.2 7.3h-8.4zM621.5 290.8l4.2 7.3h-8.4zM622.3 290.3l4.2 7.3h-8.4zM623.1 289.7l4.2 7.3h-8.4zM623.9 289.2l4.2 7.3h-8.4zM624.7 288.6l4.2 7.3h-8.4zM625.5 288.1l4.2 7.3h-8.4zM626.3 287.6l4.2 7.3h-8.4zM627.2 287.1l4.2 7.3h-8.4zM628.0 286.5l4.2 7.3h-8.4zM628.8 286.0l4.2 7.3h-8.4zM629.6 285.4l4.2 7.3h-8.4zM630.4 284.8l4.2 7.3h-8.4zM631.2 284.2l4.2 7.3h-8.4zM632.0 283.5l4.2 7.3h-8.4zM632.8 282.9l4.2 7.3h-8.4zM633.6 282.3l4.2 7.3h-8.4zM634.4 281.7l4.2 7.3h-8.4zM635.2 281.1l4.2 7.3h-8.4zM636.0 280.6l4.2 7.3h-8.4zM636.8 280.1l4.2 7.3h-8.4zM637.6 279.6l4.2 7.3h-8.4zM638.4 279.1l4.2 7.3h-8.4zM639.2 278.6l4.2 7.3h-8.4zM640.0 278.1l4.2 7.3h-8.4zM640.6 277.8l4.2 7.3h-8.4z"/>
<g fill="#00BFC4" fill-opacity="0.7"><rect x="480.4" y="408.2" width="6.5" height="6.5"/><rect x="494.2" y="391.5" width="6.5" height="6.5"/><rect x="504.0" y="381.4" width="6.5" height="6.5"/><rect x="511.6" y="374.5" width="6.5" height="6.5"/><rect x="517.8" y="369.1" width="6.5" height="6.5"/><rect x="523.1" y="364.6" width="6.5" height="6.5"/><rect x="527.6" y="360.6" width="6.5" height="6.5"/><rect x="531.6" y="357.4" width="6.5" height="6.5"/><rect x="535.2" y="354.7" width="6.5" height="6.5"/><rect x="538.5" y="352.1" width="6.5" height="6.5"/><rect x="541.4" y="349.8" width="6.5" height="6.5"/><rect x="544.2" y="347.8" width="6.5" height="6.5"/><rect x="546.7" y="345.9" width="6.5" height="6.5"/><rect x="549.0" y="344.0" width="6.5" height="6.5"/><rect x="551.2" y="342.2" width="6.5" height="6.5"/><rect x="553.3" y="340.5" width="6.5" height="6.5"/><rect x="555.2" y="339.0" width="6.5" height="6.5"/><rect x="557.1" y="337.6" width="6.5" height="6.5"/><rect x="558.8" y="336.4" width="6.5" height="6.5"/><rect x="560.5" y="335.2" width="6.5" height="6.5"/><rect x="562.1" y="334.1" width="6.5" height="6.5"/><rect x="563.6" y="332.9" width="6.5" height="6.5"/><rect x="565.1" y="331.8" width="6.5" height="6.5"/><rect x="566.4" y="330.8" width="6.5" height="6.5"/><rect x="567.8" y="329.8" width="6.5" height="6.5"/><rect x="569.1" y="328.9" width="6.5" height="6.5"/><rect x="570.3" y="328.0" width="6.5" height="6.5"/><rect x="571.5" y="327.2" width="6.5" height="6.5"/><rect x="572.7" y="326.3" width="6.5" height="6.5"/><rect x="573.8" y="325.5" width="6.5" height="6.5"/><rect x="574.9" y="324.7" width="6.5" height="6.5"/><rect x="575.9" y="323.8" width="6.5" height="6.5"/><rect x="576.9" y="323.0" width="6.5" height="6.5"/><rect x="577.9" y="322.2" width="6.5" height="6.5"/><rect x="578.9" y="321.4" width="6.5" height="6.5"/><rect x="579.8" y="320.7" width="6.5" height="6.5"/><rect x="580.7" y="320.0" width="6.5" height="6.5"/><rect x="581.6" y="319.4" width="6.5" height="6.5"/><rect x="582.5" y="318.7" width="6.5" height="6.5"/><rect x="583.3" y="318.2" width="6.5" height="6.5"/><rect x="584.1" y="317.6" width="6.5" height="6.5"/><rect x="584.9" y="317.1" width="6.5" height="6.5"/><rect x="585.7" y="316.5" width="6.5" height="6.5"/><rect x="586.5" y="316.0" width="6.5" height="6.5"/></g>
<path fill="#00BFC4" d="M587.96 314.98h6.5v6.5h-6.5zM589.38 313.94h6.5v6.5h-6.5zM590.74 312.90h6.5v6.5h-6.5zM592.05 311.90h6.5v6.5h-6.5zM593.31 310.95h6.5v6.5h-6.5zM594.53 310.07h6.5v6.5h-6.5zM595.71 309.25h6.5v6.5h-6.5zM596.84 308.48h6.5v6.5h-6.5zM597.94 307.75h6.5v6.5h-6.5zM599.01 307.04h6.5v6.5h-6.5zM600.04 306.33h6.5v6.5h-6.5zM601.04 305.62h6.5v6.5h-6.5zM602.01 304.90h6.5v6.5h-6.5zM602.96 304.17h6.5v6.5h-6.5zM603.88 303.44h6.5v6.5h-6.5zM604.78 302.72h6.5v6.5h-6.5zM605.65 302.01h6.5v6.5h-6.5zM606.51 301.32h6.5v6.5h-6.5zM607.34 300.65h6.5v6.5h-6.5zM608.15 300.02h6.5v6.5h-6.5zM609.33 299.14h6.5v6.5h-6.5zM610.47 298.32h6.5v6.5h-6.5zM611.58 297.56h6.5v6.5h-6.5zM612.65 296.84h6.5v6.5h-6.5zM613.69 296.15h6.5v6.5h-6.5zM614.69 295.47h6.5v6.5h-6.5zM615.67 294.81h6.5v6.5h-6.5zM616.62 294.15h6.5v6.5h-6.5zM617.55 293.50h6.5v6.5h-6.5zM618.45 292.86h6.5v6.5h-6.5zM619.33 292.23h6.5v6.5h-6.5zM620.18 291.62h6.5v6.5h-6.5zM621.02 291.03h6.5v6.5h-6.5zM621.83 290.45h6.5v6.5h-6.5zM622.89 289.71h6.5v6.5h-6.5zM623.91 288.99h6.5v6.5h-6.5zM624.91 288.29h6.5v6.5h-6.5zM625.88 287.60h6.5v6.5h-6.5zM626.82 286.91h6.5v6.5h-6.5zM627.73 286.23h6.5v6.5h-6.5zM628.62 285.55h6.5v6.5h-6.5zM629.49 284.88h6.5v6.5h-6.5zM630.34 284.21h6.5v6.5h-6.5zM631.16 283.57h6.5v6.5h-6.5zM631.97 282.94h6.5v6.5h-6.5zM632.95 282.19h6.5v6.5h-6.5zM633.91 281.48h6.5v6.5h-6.5zM634.84 280.82h6.5v6.5h-6.5zM635.74 280.19h6.5v6.5h-6.5zM636.62 279.60h6.5v6.5h-6.5zM637.48 279.03h6.5v6.5h-6.5zM638.32 278.47h6.5v6.5h-6.5zM639.13 277.93h6.5v6.5h-6.5zM640.09 277.28h6.5v6.5h-6.5zM641.02 276.62h6.5v6.5h-6.5zM641.92 275.97h6.5v6.5h-6.5zM642.80 275.31h6.5v6.5h-6.5zM643.66 274.66h6.5v6.5h-6.5zM644.50 274.01h6.5v6.5h-6.5zM645.32 273.39h6.5v6.5h-6.5zM646.25 272.69h6.5v6.5h-6.5zM647.15 272.02h6.5v6.5h-6.5zM648.04 271.40h6.5v6.5h-6.5zM648.90 270.81h6.5v6.5h-6.5zM649.73 270.26h6.5v6.5h-6.5zM650.55 269.74h6.5v6.5h-6.5zM651.47 269.16h6.5v6.5h-6.5zM652.35 268.45h6.5v6.5h-6.5zM652.35 268.76h6.5v6.5h-6.5zM653.22 267.88h6.5v6.5h-6.5zM653.22 268.21h6.5v6.5h-6.5zM654.06 267.30h6.5v6.5h-6.5zM654.06 267.65h6.5v6.5h-6.5zM654.89 266.72h6.5v6.5h-6.5zM654.89 267.08h6.5v6.5h-6.5zM655.69 266.12h6.5v6.5h-6.5zM655.69 266.50h6.5v6.5h-6.5zM656.57 265.43h6.5v6.5h-6.5zM656.57 265.83h6.5v6.5h-6.5zM657.43 264.74h6.5v6.5h-6.5zM657.43 265.15h6.5v6.5h-6.5zM658.27 264.04h6.5v6.5h-6.5zM658.27 264.47h6.5v6.5h-6.5zM659.09 263.36h6.5v6.5h-6.5zM659.09 263.80h6.5v6.5h-6.5zM659.98 262.61h6.5v6.5h-6.5zM659.98 263.08h6.5v6.5h-6.5zM660.84 261.90h6.5v6.5h-6.5zM660.84 262.38h6.5v6.5h-6.5zM661.69 261.22h6.5v6.5h-6.5zM661.69 261.72h6.5v6.5h-6.5zM662.51 260.58h6.5v6.5h-6.5zM662.51 261.09h6.5v6.5h-6.5zM663.32 259.98h6.5v6.5h-6.5zM663.32 260.51h6.5v6.5h-6.5zM664.18 259.36h6.5v6.5h-6.5zM664.18 259.91h6.5v6.5h-6.5zM665.02 258.78h6.5v6.5h-6.5zM665.02 259.35h6.5v6.5h-6.5zM665.84 258.23h6.5v6.5h-6.5zM665.84 258.81h6.5v6.5h-6.5zM666.64 257.71h6.5v6.5h-6.5zM666.64 258.30h6.5v6.5h-6.5zM667.50 257.15h6.5v6.5h-6.5zM667.50 257.77h6.5v6.5h-6.5zM668.33 256.61h6.5v6.5h-6.5zM668.33 257.24h6.5v6.5h-6.5zM669.14 256.07h6.5v6.5h-6.5zM669.14 256.72h6.5v6.5h-6.5zM670.00 255.49h6.5v6.5h-6.5zM670.00 256.16h6.5v6.5h-6.5zM670.84 254.92h6.5v6.5h-6.5zM670.84 255.60h6.5v6.5h-6.5zM671.66 254.34h6.5v6.5h-6.5zM671.66 255.04h6.5v6.5h-6.5zM672.52 253.73h6.5v6.5h-6.5zM672.52 254.45h6.5v6.5h-6.5zM673.36 253.12h6.5v6.5h-6.5zM673.36 253.86h6.5v6.5h-6.5zM674.18 252.53h6.5v6.5h-6.5zM674.18 253.28h6.5v6.5h-6.5zM675.03 251.90h6.5v6.5h-6.5zM675.03 252.67h6.5v6.5h-6.5zM675.87 251.30h6.5v6.5h-6.5zM675.87 252.08h6.5v6.5h-6.5zM676.68 250.70h6.5v6.5h-6.5zM676.68 251.50h6.5v6.5h-6.5zM677.53 250.08h6.5v6.5h-6.5zM677.53 250.90h6.5v6.5h-6.5zM678.36 249.48h6.5v6.5h-6.5zM678.36 250.31h6.5v6.5h-6.5zM679.16 248.88h6.5v6.5h-6.5zM679.16 249.73h6.5v6.5h-6.5zM680.00 248.26h6.5v6.5h-6.5zM680.00 249.13h6.5v6.5h-6.5zM680.82 247.65h6.5v6.5h-6.5zM680.82 248.53h6.5v6.5h-6.5zM681.66 247.01h6.5v6.5h-6.5zM681.66 247.91h6.5v6.5h-6.5zM682.49 246.38h6.5v6.5h-6.5zM682.49 247.29h6.5v6.5h-6.5zM683.29 245.76h6.5v6.5h-6.5zM683.29 246.69h6.5v6.5h-6.5zM684.12 245.12h6.5v6.5h-6.5zM684.12 246.07h6.5v6.5h-6.5zM684.93 244.50h6.5v6.5h-6.5zM684.93 245.46h6.5v6.5h-6.5zM685.77 243.87h6.5v6.5h-6.5zM685.77 244.85h6.5v6.5h-6.5zM686.58 243.26h6.5v6.5h-6.5zM686.58 244.26h6.5v6.5h-6.5zM687.41 242.65h6.5v6.5h-6.5zM687.41 243.67h6.5v6.5h-6.5zM688.22 242.08h6.5v6.5h-6.5zM688.22 243.10h6.5v6.5h-6.5zM689.05 241.50h6.5v6.5h-6.5zM689.05 242.54h6.5v6.5h-6.5zM689.87 240.94h6.5v6.5h-6.5zM689.87 242.00h6.5v6.5h-6.5zM690.69 240.37h6.5v6.5h-6.5zM690.69 241.45h6.5v6.5h-6.5zM691.50 239.82h6.5v6.5h-6.5zM691.50 240.92h6.5v6.5h-6.5zM692.33 239.26h6.5v6.5h-6.5zM692.33 240.37h6.5v6.5h-6.5zM693.13 238.69h6.5v6.5h-6.5zM693.13 239.82h6.5v6.5h-6.5zM693.95 238.11h6.5v6.5h-6.5zM693.95 239.25h6.5v6.5h-6.5zM694.78 237.49h6.5v6.5h-6.5zM694.78 238.65h6.5v6.5h-6.5zM695.59 236.88h6.5v6.5h-6.5zM695.59 238.05h6.5v6.5h-6.5zM696.41 236.24h6.5v6.5h-6.5zM696.41 237.44h6.5v6.5h-6.5zM697.21 235.61h6.5v6.5h-6.5zM697.21 236.82h6.5v6.5h-6.5zM698.03 234.97h6.5v6.5h-6.5zM698.03 236.20h6.5v6.5h-6.5zM698.85 234.33h6.5v6.5h-6.5zM698.85 235.58h6.5v6.5h-6.5zM699.65 233.72h6.5v6.5h-6.5zM699.65 234.98h6.5v6.5h-6.5zM700.46 233.12h6.5v6.5h-6.5zM700.46 234.39h6.5v6.5h-6.5zM701.28 232.54h6.5v6.5h-6.5zM701.28 233.83h6.5v6.5h-6.5zM702.10 231.98h6.5v6.5h-6.5zM702.10 233.29h6.5v6.5h-6.5zM702.91 231.46h6.5v6.5h-6.5zM702.91 232.78h6.5v6.5h-6.5zM703.72 230.96h6.5v6.5h-6.5zM703.72 232.30h6.5v6.5h-6.5zM704.54 230.47h6.5v6.5h-6.5zM704.54 231.82h6.5v6.5h-6.5zM705.36 229.98h6.5v6.5h-6.5zM705.36 231.35h6.5v6.5h-6.5zM706.16 229.49h6.5v6.5h-6.5zM706.16 230.88h6.5v6.5h-6.5zM706.96 228.99h6.5v6.5h-6.5zM706.96 230.39h6.5v6.5h-6.5zM707.77 228.45h6.5v6.5h-6.5zM707.77 229.87h6.5v6.5h-6.5zM708.58 227.88h6.5v6.5h-6.5zM708.58 229.32h6.5v6.5h-6.5zM709.39 227.27h6.5v6.5h-6.5zM709.39 228.72h6.5v6.5h-6.5zM710.20 226.61h6.5v6.5h-6.5zM710.20 228.08h6.5v6.5h-6.5zM711.01 225.92h6.5v6.5h-6.5zM711.01 227.41h6.5v6.5h-6.5zM711.83 225.20h6.5v6.5h-6.5zM711.83 226.70h6.5v6.5h-6.5zM712.64 224.47h6.5v6.5h-6.5zM712.64 225.99h6.5v6.5h-6.5zM713.45 223.73h6.5v6.5h-6.5zM713.45 225.27h6.5v6.5h-6.5zM714.26 223.01h6.5v6.5h-6.5zM714.26 224.56h6.5v6.5h-6.5zM715.07 222.31h6.5v6.5h-6.5zM715.07 223.88h6.5v6.5h-6.5zM715.88 221.64h6.5v6.5h-6.5zM715.88 223.23h6.5v6.5h-6.5zM716.69 221.02h6.5v6.5h-6.5zM716.69 222.62h6.5v6.5h-6.5zM717.49 220.44h6.5v6.5h-6.5zM717.49 222.05h6.5v6.5h-6.5zM718.29 219.90h6.5v6.5h-6.5zM718.29 221.53h6.5v6.5h-6.5zM719.10 219.39h6.5v6.5h-6.5zM719.10 221.03h6.5v6.5h-6.5zM719.91 218.90h6.5v6.5h-6.5zM719.91 220.56h6.5v6.5h-6.5zM720.72 218.43h6.5v6.5h-6.5zM720.72 220.11h6.5v6.5h-6.5zM721.52 217.97h6.5v6.5h-6.5zM721.52 219.66h6.5v6.5h-6.5zM722.33 217.49h6.5v6.5h-6.5zM722.33 219.20h6.5v6.5h-6.5zM723.14 217.00h6.5v6.5h-6.5zM723.14 218.73h6.5v6.5h-6.5zM723.94 216.49h6.5v6.5h-6.5zM723.94 218.24h6.5v6.5h-6.5zM724.75 215.96h6.5v6.5h-6.5zM724.75 217.72h6.5v6.5h-6.5zM725.55 215.40h6.5v6.5h-6.5zM725.55 217.18h6.5v6.5h-6.5zM726.36 214.82h6.5v6.5h-6.5zM726.36 216.61h6.5v6.5h-6.5zM727.16 214.22h6.5v6.5h-6.5zM727.16 216.03h6.5v6.5h-6.5zM727.97 213.61h6.5v6.5h-6.5zM727.97 215.43h6.5v6.5h-6.5zM728.77 212.99h6.5v6.5h-6.5zM728.77 214.83h6.5v6.5h-6.5zM729.57 212.37h6.5v6.5h-6.5zM729.57 214.23h6.5v6.5h-6.5zM730.38 211.75h6.5v6.5h-6.5zM730.38 213.62h6.5v6.5h-6.5zM731.18 211.14h6.5v6.5h-6.5zM731.18 213.03h6.5v6.5h-6.5zM731.99 210.53h6.5v6.5h-6.5zM731.99 212.44h6.5v6.5h-6.5zM732.79 209.93h6.5v6.5h-6.5zM732.79 211.85h6.5v6.5h-6.5zM733.60 209.32h6.5v6.5h-6.5zM733.60 211.26h6.5v6.5h-6.5zM734.41 208.71h6.5v6.5h-6.5zM734.41 210.66h6.5v6.5h-6.5zM735.22 208.10h6.5v6.5h-6.5zM735.22 210.07h6.5v6.5h-6.5zM736.03 207.49h6.5v6.5h-6.5zM736.03 209.47h6.5v6.5h-6.5zM736.84 206.87h6.5v6.5h-6.5zM736.84 208.87h6.5v6.5h-6.5zM737.64 206.27h6.5v6.5h-6.5zM737.64 208.27h6.5v6.5h-6.5zM738.45 205.67h6.5v6.5h-6.5zM738.45 207.67h6.5v6.5h-6.5zM739.25 205.07h6.5v6.5h-6.5zM739.25 207.07h6.5v6.5h-6.5zM740.06 204.49h6.5v6.5h-6.5zM740.06 206.49h6.5v6.5h-6.5zM740.86 203.93h6.5v6.5h-6.5zM740.86 205.93h6.5v6.5h-6.5zM741.67 203.38h6.5v6.5h-6.5zM741.67 205.38h6.5v6.5h-6.5zM742.47 202.84h6.5v6.5h-6.5zM742.47 204.84h6.5v6.5h-6.5zM743.27 202.31h6.5v6.5h-6.5zM743.27 204.31h6.5v6.5h-6.5zM744.07 201.78h6.5v6.5h-6.5zM744.07 203.78h6.5v6.5h-6.5zM744.87 201.24h6.5v6.5h-6.5zM744.87 203.24h6.5v6.5h-6.5zM745.68 200.69h6.5v6.5h-6.5zM745.68 202.69h6.5v6.5h-6.5zM746.48 200.12h6.5v6.5h-6.5zM746.48 202.12h6.5v6.5h-6.5zM747.00 199.74h6.5v6.5h-6.5zM747.00 201.74h6.5v6.5h-6.5z"/>
<g fill="none" stroke="#00BFC4" stroke-width="1.55" stroke-opacity="0.7"><path d="M525.7 377.4h10.30M530.9 372.3v10.30"/><path d="M539.5 360.1h10.30M544.7 355.0v10.30"/><path d="M549.3 350.8h10.30M554.5 345.7v10.30"/><path d="M556.9 343.3h10.30M562.1 338.1v10.30"/><path d="M563.2 338.0h10.30M568.3 332.9v10.30"/><path d="M568.4 333.9h10.30M573.6 328.7v10.30"/><path d="M573.0 329.9h10.30M578.1 324.7v10.30"/><path d="M577.0 326.4h10.30M582.1 321.2v10.30"/><path d="M580.6 323.6h10.30M585.7 318.5v10.30"/><path d="M583.8 321.3h10.30M589.0 316.2v10.30"/><path d="M586.8 319.1h10.30M591.9 313.9v10.30"/><path d="M589.5 316.8h10.30M594.7 311.7v10.30"/><path d="M592.0 314.7h10.30M597.2 309.6v10.30"/><path d="M594.4 312.8h10.30M599.5 307.6v10.30"/><path d="M596.6 311.1h10.30M601.7 305.9v10.30"/><path d="M598.6 309.6h10.30M603.8 304.5v10.30"/><path d="M600.6 308.3h10.30M605.7 303.2v10.30"/><path d="M602.4 307.0h10.30M607.6 301.9v10.30"/><path d="M604.2 305.8h10.30M609.3 300.6v10.30"/><path d="M605.8 304.5h10.30M611.0 299.3v10.30"/><path d="M607.4 303.2h10.30M612.6 298.1v10.30"/><path d="M608.9 301.9h10.30M614.1 296.8v10.30"/><path d="M610.4 300.7h10.30M615.5 295.6v10.30"/><path d="M611.8 299.6h10.30M616.9 294.5v10.30"/><path d="M613.1 298.6h10.30M618.3 293.4v10.30"/><path d="M614.4 297.6h10.30M619.6 292.5v10.30"/><path d="M615.6 296.8h10.30M620.8 291.6v10.30"/><path d="M616.8 296.0h10.30M622.0 290.8v10.30"/><path d="M618.0 295.2h10.30M623.1 290.1v10.30"/><path d="M619.1 294.5h10.30M624.3 289.4v10.30"/><path d="M620.2 293.8h10.30M625.3 288.6v10.30"/><path d="M621.2 293.1h10.30M626.4 287.9v10.30"/><path d="M622.3 292.4h10.30M627.4 287.2v10.30"/><path d="M623.3 291.7h10.30M628.4 286.5v10.30"/><path d="M624.2 290.9h10.30M629.4 285.8v10.30"/><path d="M625.1 290.2h10.30M630.3 285.0v10.30"/><path d="M626.1 289.4h10.30M631.2 284.3v10.30"/><path d="M626.9 288.7h10.30M632.1 283.5v10.30"/><path d="M627.8 288.0h10.30M633.0 282.8v10.30"/><path d="M628.6 287.3h10.30M633.8 282.1v10.30"/><path d="M629.5 286.6h10.30M634.6 281.4v10.30"/><path d="M630.3 285.9h10.30M635.4 280.8v10.30"/><path d="M631.1 285.3h10.30M636.2 280.2v10.30"/><path d="M631.8 284.7h10.30M637.0 279.6v10.30"/></g>
<path fill="none" stroke="#00BFC4" stroke-width="1.55" d="M633.3 283.6h10.3m-5.2 -5.2v10.3M634.7 282.7h10.3m-5.2 -5.2v10.3M636.1 281.8h10.3m-5.2 -5.2v10.3M637.4 281.0h10.3m-5.2 -5.2v10.3M638.7 280.2h10.3m-5.2 -5.2v10.3M639.9 279.5h10.3m-5.2 -5.2v10.3M641.0 278.7h10.3m-5.2 -5.2v10.3M642.2 277.9h10.3m-5.2 -5.2v10.3M643.3 277.0h10.3m-5.2 -5.2v10.3M644.3 276.2h10.3m-5.2 -5.2v10.3M645.4 275.4h10.3m-5.2 -5.2v10.3M646.4 274.5h10.3m-5.2 -5.2v10.3M647.4 273.7h10.3m-5.2 -5.2v10.3M648.3 272.9h10.3m-5.2 -5.2v10.3M649.2 272.1h10.3m-5.2 -5.2v10.3M650.1 271.3h10.3m-5.2 -5.2v10.3M650.1 271.6h10.3m-5.2 -5.2v10.3M651.0 270.6h10.3m-5.2 -5.2v10.3M651.0 270.9h10.3m-5.2 -5.2v10.3M651.8 270.0h10.3m-5.2 -5.2v10.3M651.8 270.3h10.3m-5.2 -5.2v10.3M652.7 269.4h10.3m-5.2 -5.2v10.3M652.7 269.7h10.3m-5.2 -5.2v10.3M653.5 268.8h10.3m-5.2 -5.2v10.3M653.5 269.2h10.3m-5.2 -5.2v10.3M654.7 268.0h10.3m-5.2 -5.2v10.3M654.7 268.4h10.3m-5.2 -5.2v10.3M655.8 267.3h10.3m-5.2 -5.2v10.3M655.8 267.7h10.3m-5.2 -5.2v10.3M656.9 266.6h10.3m-5.2 -5.2v10.3M656.9 267.1h10.3m-5.2 -5.2v10.3M658.0 265.9h10.3m-5.2 -5.2v10.3M658.0 266.4h10.3m-5.2 -5.2v10.3M659.0 265.3h10.3m-5.2 -5.2v10.3M659.0 265.8h10.3m-5.2 -5.2v10.3M660.0 264.6h10.3m-5.2 -5.2v10.3M660.0 265.1h10.3m-5.2 -5.2v10.3M661.0 263.9h10.3m-5.2 -5.2v10.3M661.0 264.5h10.3m-5.2 -5.2v10.3M662.0 263.3h10.3m-5.2 -5.2v10.3M662.0 263.8h10.3m-5.2 -5.2v10.3M662.9 262.6h10.3m-5.2 -5.2v10.3M662.9 263.1h10.3m-5.2 -5.2v10.3M663.8 261.9h10.3m-5.2 -5.2v10.3M663.8 262.4h10.3m-5.2 -5.2v10.3M664.7 261.1h10.3m-5.2 -5.2v10.3M664.7 261.7h10.3m-5.2 -5.2v10.3M665.5 260.4h10.3m-5.2 -5.2v10.3M665.5 261.1h10.3m-5.2 -5.2v10.3M666.4 259.7h10.3m-5.2 -5.2v10.3M666.4 260.4h10.3m-5.2 -5.2v10.3M667.2 259.1h10.3m-5.2 -5.2v10.3M667.2 259.7h10.3m-5.2 -5.2v10.3M668.2 258.2h10.3m-5.2 -5.2v10.3M668.2 258.9h10.3m-5.2 -5.2v10.3M669.3 257.4h10.3m-5.2 -5.2v10.3M669.3 258.0h10.3m-5.2 -5.2v10.3M670.3 256.6h10.3m-5.2 -5.2v10.3M670.3 257.3h10.3m-5.2 -5.2v10.3M671.2 255.8h10.3m-5.2 -5.2v10.3M671.2 256.6h10.3m-5.2 -5.2v10.3M672.2 255.1h10.3m-5.2 -5.2v10.3M672.2 255.9h10.3m-5.2 -5.2v10.3M673.1 254.5h10.3m-5.2 -5.2v10.3M673.1 255.3h10.3m-5.2 -5.2v10.3M674.0 253.9h10.3m-5.2 -5.2v10.3M674.0 254.7h10.3m-5.2 -5.2v10.3M674.8 253.3h10.3m-5.2 -5.2v10.3M674.8 254.1h10.3m-5.2 -5.2v10.3M675.7 252.8h10.3m-5.2 -5.2v10.3M675.7 253.6h10.3m-5.2 -5.2v10.3M676.5 252.2h10.3m-5.2 -5.2v10.3M676.5 253.1h10.3m-5.2 -5.2v10.3M677.3 251.7h10.3m-5.2 -5.2v10.3M677.3 252.6h10.3m-5.2 -5.2v10.3M678.3 251.1h10.3m-5.2 -5.2v10.3M678.3 252.0h10.3m-5.2 -5.2v10.3M679.3 250.5h10.3m-5.2 -5.2v10.3M679.3 251.4h10.3m-5.2 -5.2v10.3M680.2 249.8h10.3m-5.2 -5.2v10.3M680.2 250.8h10.3m-5.2 -5.2v10.3M681.1 249.2h10.3m-5.2 -5.2v10.3M681.1 250.1h10.3m-5.2 -5.2v10.3M682.0 248.6h10.3m-5.2 -5.2v10.3M682.0 249.5h10.3m-5.2 -5.2v10.3M682.8 248.0h10.3m-5.2 -5.2v10.3M682.8 248.9h10.3m-5.2 -5.2v10.3M683.7 247.3h10.3m-5.2 -5.2v10.3M683.7 248.3h10.3m-5.2 -5.2v10.3M684.5 246.7h10.3m-5.2 -5.2v10.3M684.5 247.7h10.3m-5.2 -5.2v10.3M685.4 245.9h10.3m-5.2 -5.2v10.3M685.4 246.9h10.3m-5.2 -5.2v10.3M686.4 245.2h10.3m-5.2 -5.2v10.3M686.4 246.2h10.3m-5.2 -5.2v10.3M687.3 244.5h10.3m-5.2 -5.2v10.3M687.3 245.5h10.3m-5.2 -5.2v10.3M688.1 243.7h10.3m-5.2 -5.2v10.3M688.1 244.8h10.3m-5.2 -5.2v10.3M689.0 243.1h10.3m-5.2 -5.2v10.3M689.0 244.1h10.3m-5.2 -5.2v10.3M689.8 242.4h10.3m-5.2 -5.2v10.3M689.8 243.5h10.3m-5.2 -5.2v10.3M690.7 241.8h10.3m-5.2 -5.2v10.3M690.7 242.9h10.3m-5.2 -5.2v10.3M691.6 241.0h10.3m-5.2 -5.2v10.3M691.6 242.2h10.3m-5.2 -5.2v10.3M692.5 240.4h10.3m-5.2 -5.2v10.3M692.5 241.5h10.3m-5.2 -5.2v10.3M693.4 239.7h10.3m-5.2 -5.2v10.3M693.4 240.9h10.3m-5.2 -5.2v10.3M694.2 239.1h10.3m-5.2 -5.2v10.3M694.2 240.3h10.3m-5.2 -5.2v10.3M695.1 238.6h10.3m-5.2 -5.2v10.3M695.1 239.8h10.3m-5.2 -5.2v10.3M695.9 238.0h10.3m-5.2 -5.2v10.3M695.9 239.2h10.3m-5.2 -5.2v10.3M696.8 237.4h10.3m-5.2 -5.2v10.3M696.8 238.7h10.3m-5.2 -5.2v10.3M697.7 236.8h10.3m-5.2 -5.2v10.3M697.7 238.1h10.3m-5.2 -5.2v10.3M698.6 236.3h10.3m-5.2 -5.2v10.3M698.6 237.6h10.3m-5.2 -5.2v10.3M699.4 235.7h10.3m-5.2 -5.2v10.3M699.4 237.0h10.3m-5.2 -5.2v10.3M700.2 235.2h10.3m-5.2 -5.2v10.3M700.2 236.5h10.3m-5.2 -5.2v10.3M701.0 234.6h10.3m-5.2 -5.2v10.3M701.0 236.0h10.3m-5.2 -5.2v10.3M701.9 234.0h10.3m-5.2 -5.2v10.3M701.9 235.4h10.3m-5.2 -5.2v10.3M702.8 233.4h10.3m-5.2 -5.2v10.3M702.8 234.8h10.3m-5.2 -5.2v10.3M703.6 232.8h10.3m-5.2 -5.2v10.3M703.6 234.2h10.3m-5.2 -5.2v10.3M704.4 232.2h10.3m-5.2 -5.2v10.3M704.4 233.6h10.3m-5.2 -5.2v10.3M705.3 231.5h10.3m-5.2 -5.2v10.3M705.3 232.9h10.3m-5.2 -5.2v10.3M706.2 230.8h10.3m-5.2 -5.2v10.3M706.2 232.3h10.3m-5.2 -5.2v10.3M707.0 230.2h10.3m-5.2 -5.2v10.3M707.0 231.6h10.3m-5.2 -5.2v10.3M707.9 229.5h10.3m-5.2 -5.2v10.3M707.9 231.0h10.3m-5.2 -5.2v10.3M708.7 228.8h10.3m-5.2 -5.2v10.3M708.7 230.3h10.3m-5.2 -5.2v10.3M709.5 228.1h10.3m-5.2 -5.2v10.3M709.5 229.6h10.3m-5.2 -5.2v10.3M710.4 227.5h10.3m-5.2 -5.2v10.3M710.4 229.0h10.3m-5.2 -5.2v10.3M711.2 226.8h10.3m-5.2 -5.2v10.3M711.2 228.3h10.3m-5.2 -5.2v10.3M712.0 226.2h10.3m-5.2 -5.2v10.3M712.0 227.7h10.3m-5.2 -5.2v10.3M712.8 225.5h10.3m-5.2 -5.2v10.3M712.8 227.1h10.3m-5.2 -5.2v10.3M713.7 224.9h10.3m-5.2 -5.2v10.3M713.7 226.5h10.3m-5.2 -5.2v10.3M714.5 224.4h10.3m-5.2 -5.2v10.3M714.5 225.9h10.3m-5.2 -5.2v10.3M715.3 223.8h10.3m-5.2 -5.2v10.3M715.3 225.4h10.3m-5.2 -5.2v10.3M716.2 223.2h10.3m-5.2 -5.2v10.3M716.2 224.8h10.3m-5.2 -5.2v10.3M717.0 222.7h10.3m-5.2 -5.2v10.3M717.0 224.3h10.3m-5.2 -5.2v10.3M717.9 222.1h10.3m-5.2 -5.2v10.3M717.9 223.8h10.3m-5.2 -5.2v10.3M718.7 221.6h10.3m-5.2 -5.2v10.3M718.7 223.3h10.3m-5.2 -5.2v10.3M719.5 221.1h10.3m-5.2 -5.2v10.3M719.5 222.8h10.3m-5.2 -5.2v10.3M720.4 220.5h10.3m-5.2 -5.2v10.3M720.4 222.3h10.3m-5.2 -5.2v10.3M721.2 220.0h10.3m-5.2 -5.2v10.3M721.2 221.7h10.3m-5.2 -5.2v10.3M722.0 219.5h10.3m-5.2 -5.2v10.3M722.0 221.2h10.3m-5.2 -5.2v10.3M722.9 218.9h10.3m-5.2 -5.2v10.3M722.9 220.6h10.3m-5.2 -5.2v10.3M723.7 218.3h10.3m-5.2 -5.2v10.3M723.7 220.1h10.3m-5.2 -5.2v10.3M724.5 217.7h10.3m-5.2 -5.2v10.3M724.5 219.5h10.3m-5.2 -5.2v10.3M725.3 217.0h10.3m-5.2 -5.2v10.3M725.3 218.9h10.3m-5.2 -5.2v10.3M726.2 216.4h10.3m-5.2 -5.2v10.3M726.2 218.2h10.3m-5.2 -5.2v10.3M727.0 215.7h10.3m-5.2 -5.2v10.3M727.0 217.6h10.3m-5.2 -5.2v10.3M727.8 215.0h10.3m-5.2 -5.2v10.3M727.8 216.9h10.3m-5.2 -5.2v10.3M728.6 214.4h10.3m-5.2 -5.2v10.3M728.6 216.2h10.3m-5.2 -5.2v10.3M729.5 213.7h10.3m-5.2 -5.2v10.3M729.5 215.6h10.3m-5.2 -5.2v10.3M730.3 213.0h10.3m-5.2 -5.2v10.3M730.3 214.9h10.3m-5.2 -5.2v10.3M731.1 212.3h10.3m-5.2 -5.2v10.3M731.1 214.2h10.3m-5.2 -5.2v10.3M731.9 211.7h10.3m-5.2 -5.2v10.3M731.9 213.6h10.3m-5.2 -5.2v10.3M732.8 211.0h10.3m-5.2 -5.2v10.3M732.8 213.0h10.3m-5.2 -5.2v10.3M733.6 210.4h10.3m-5.2 -5.2v10.3M733.6 212.4h10.3m-5.2 -5.2v10.3M734.4 209.9h10.3m-5.2 -5.2v10.3M734.4 211.8h10.3m-5.2 -5.2v10.3M735.2 209.3h10.3m-5.2 -5.2v10.3M735.2 211.3h10.3m-5.2 -5.2v10.3M736.0 208.8h10.3m-5.2 -5.2v10.3M736.0 210.8h10.3m-5.2 -5.2v10.3M736.8 208.3h10.3m-5.2 -5.2v10.3M736.8 210.3h10.3m-5.2 -5.2v10.3M737.7 207.8h10.3m-5.2 -5.2v10.3M737.7 209.8h10.3m-5.2 -5.2v10.3M738.5 207.3h10.3m-5.2 -5.2v10.3M738.5 209.3h10.3m-5.2 -5.2v10.3M739.3 206.8h10.3m-5.2 -5.2v10.3M739.3 208.8h10.3m-5.2 -5.2v10.3M740.1 206.3h10.3m-5.2 -5.2v10.3M740.1 208.3h10.3m-5.2 -5.2v10.3M740.9 205.8h10.3m-5.2 -5.2v10.3M740.9 207.8h10.3m-5.2 -5.2v10.3M741.8 205.2h10.3m-5.2 -5.2v10.3M741.8 207.2h10.3m-5.2 -5.2v10.3M742.6 204.7h10.3m-5.2 -5.2v10.3M742.6 206.7h10.3m-5.2 -5.2v10.3M743.4 204.1h10.3m-5.2 -5.2v10.3M743.4 206.1h10.3m-5.2 -5.2v10.3M744.2 203.5h10.3m-5.2 -5.2v10.3M744.2 205.5h10.3m-5.2 -5.2v10.3M745.0 202.9h10.3m-5.2 -5.2v10.3M745.0 204.9h10.3m-5.2 -5.2v10.3M745.8 202.2h10.3m-5.2 -5.2v10.3M745.8 204.2h10.3m-5.2 -5.2v10.3M746.6 201.5h10.3m-5.2 -5.2v10.3M746.6 203.5h10.3m-5.2 -5.2v10.3M747.4 200.8h10.3m-5.2 -5.2v10.3M747.4 202.8h10.3m-5.2 -5.2v10.3M748.3 200.2h10.3m-5.2 -5.2v10.3M748.3 202.2h10.3m-5.2 -5.2v10.3M749.1 199.5h10.3m-5.2 -5.2v10.3M749.1 201.5h10.3m-5.2 -5.2v10.3M749.9 198.9h10.3m-5.2 -5.2v10.3M749.9 200.9h10.3m-5.2 -5.2v10.3M750.7 198.2h10.3m-5.2 -5.2v10.3M750.7 200.2h10.3m-5.2 -5.2v10.3M751.5 197.6h10.3m-5.2 -5.2v10.3M751.5 199.6h10.3m-5.2 -5.2v10.3M752.3 197.0h10.3m-5.2 -5.2v10.3M752.3 199.0h10.3m-5.2 -5.2v10.3M753.1 196.5h10.3m-5.2 -5.2v10.3M753.1 198.5h10.3m-5.2 -5.2v10.3M753.9 196.0h10.3m-5.2 -5.2v10.3M753.9 198.0h10.3m-5.2 -5.2v10.3M754.7 195.4h10.3m-5.2 -5.2v10.3M754.7 197.4h10.3m-5.2 -5.2v10.3M755.5 194.9h10.3m-5.2 -5.2v10.3M755.5 196.9h10.3m-5.2 -5.2v10.3M756.4 194.5h10.3m-5.2 -5.2v10.3M756.4 196.5h10.3m-5.2 -5.2v10.3M757.2 194.0h10.3m-5.2 -5.2v10.3M757.2 196.0h10.3m-5.2 -5.2v10.3M758.0 193.5h10.3m-5.2 -5.2v10.3M758.0 195.5h10.3m-5.2 -5.2v10.3M758.8 193.0h10.3m-5.2 -5.2v10.3M758.8 195.0h10.3m-5.2 -5.2v10.3M759.6 192.5h10.3m-5.2 -5.2v10.3M759.6 194.5h10.3m-5.2 -5.2v10.3M760.4 191.9h10.3m-5.2 -5.2v10.3M760.4 193.9h10.3m-5.2 -5.2v10.3M761.2 191.3h10.3m-5.2 -5.2v10.3M761.2 193.3h10.3m-5.2 -5.2v10.3M762.0 190.7h10.3m-5.2 -5.2v10.3M762.0 192.7h10.3m-5.2 -5.2v10.3M762.8 190.1h10.3m-5.2 -5.2v10.3M762.8 192.1h10.3m-5.2 -5.2v10.3M763.6 189.4h10.3m-5.2 -5.2v10.3M763.6 191.4h10.3m-5.2 -5.2v10.3M764.4 188.8h10.3m-5.2 -5.2v10.3M764.4 190.8h10.3m-5.2 -5.2v10.3M765.3 188.1h10.3m-5.2 -5.2v10.3M765.3 190.1h10.3m-5.2 -5.2v10.3M766.1 187.4h10.3m-5.2 -5.2v10.3M766.1 189.4h10.3m-5.2 -5.2v10.3M766.9 186.7h10.3m-5.2 -5.2v10.3M766.9 188.7h10.3m-5.2 -5.2v10.3M767.7 186.0h10.3m-5.2 -5.2v10.3M767.7 188.0h10.3m-5.2 -5.2v10.3M768.5 185.4h10.3m-5.2 -5.2v10.3M768.5 187.4h10.3m-5.2 -5.2v10.3M769.3 184.8h10.3m-5.2 -5.2v10.3M769.3 186.8h10.3m-5.2 -5.2v10.3M770.1 184.2h10.3m-5.2 -5.2v10.3M770.1 186.2h10.3m-5.2 -5.2v10.3M770.9 183.7h10.3m-5.2 -5.2v10.3M770.9 185.7h10.3m-5.2 -5.2v10.3M771.7 183.2h10.3m-5.2 -5.2v10.3M771.7 185.2h10.3m-5.2 -5.2v10.3M772.5 182.7h10.3m-5.2 -5.2v10.3M772.5 184.7h10.3m-5.2 -5.2v10.3M773.3 182.2h10.3m-5.2 -5.2v10.3M773.3 184.2h10.3m-5.2 -5.2v10.3M774.1 181.8h10.3m-5.2 -5.2v10.3M774.1 183.8h10.3m-5.2 -5.2v10.3M774.9 181.4h10.3m-5.2 -5.2v10.3M774.9 183.4h10.3m-5.2 -5.2v10.3M775.7 180.9h10.3m-5.2 -5.2v10.3M775.7 182.9h10.3m-5.2 -5.2v10.3M776.5 180.4h10.3m-5.2 -5.2v10.3M776.5 182.4h10.3m-5.2 -5.2v10.3M777.3 180.0h10.3m-5.2 -5.2v10.3M777.3 182.0h10.3m-5.2 -5.2v10.3M778.1 179.4h10.3m-5.2 -5.2v10.3M778.1 181.4h10.3m-5.2 -5.2v10.3M778.9 178.8h10.3m-5.2 -5.2v10.3M778.9 180.8h10.3m-5.2 -5.2v10.3M779.8 178.2h10.3m-5.2 -5.2v10.3M779.8 180.2h10.3m-5.2 -5.2v10.3M780.6 177.6h10.3m-5.2 -5.2v10.3M780.6 179.6h10.3m-5.2 -5.2v10.3M781.4 176.9h10.3m-5.2 -5.2v10.3M781.4 178.9h10.3m-5.2 -5.2v10.3M782.2 176.2h10.3m-5.2 -5.2v10.3M782.2 178.2h10.3m-5.2 -5.2v10.3M783.0 175.4h10.3m-5.2 -5.2v10.3M783.0 177.4h10.3m-5.2 -5.2v10.3M783.8 174.7h10.3m-5.2 -5.2v10.3M783.8 176.7h10.3m-5.2 -5.2v10.3M784.6 173.9h10.3m-5.2 -5.2v10.3M784.6 175.9h10.3m-5.2 -5.2v10.3M785.4 173.2h10.3m-5.2 -5.2v10.3M785.4 175.2h10.3m-5.2 -5.2v10.3M786.2 172.6h10.3m-5.2 -5.2v10.3M786.2 174.6h10.3m-5.2 -5.2v10.3M787.0 171.9h10.3m-5.2 -5.2v10.3M787.0 173.9h10.3m-5.2 -5.2v10.3M787.8 171.3h10.3m-5.2 -5.2v10.3M787.8 173.3h10.3m-5.2 -5.2v10.3M788.6 170.7h10.3m-5.2 -5.2v10.3M788.6 172.7h10.3m-5.2 -5.2v10.3M789.4 170.2h10.3m-5.2 -5.2v10.3M789.4 172.2h10.3m-5.2 -5.2v10.3M790.2 169.8h10.3m-5.2 -5.2v10.3M790.2 171.8h10.3m-5.2 -5.2v10.3M791.0 169.4h10.3m-5.2 -5.2v10.3M791.0 171.4h10.3m-5.2 -5.2v10.3M791.8 169.0h10.3m-5.2 -5.2v10.3M791.8 171.0h10.3m-5.2 -5.2v10.3M792.3 168.7h10.3m-5.2 -5.2v10.3M792.3 170.7h10.3m-5.2 -5.2v10.3"/>
<g fill="#C77CFF" fill-opacity="0.7"><circle cx="217.0" cy="636.5" r="3.475"/><circle cx="230.8" cy="619.6" r="3.475"/><circle cx="240.6" cy="609.7" r="3.475"/><circle cx="248.2" cy="602.7" r="3.475"/><circle cx="254.4" cy="597.2" r="3.475"/><circle cx="259.7" cy="592.8" r="3.475"/><circle cx="264.2" cy="589.0" r="3.475"/><circle cx="268.2" cy="585.8" r="3.475"/><circle cx="271.8" cy="582.9" r="3.475"/><circle cx="275.1" cy="580.3" r="3.475"/><circle cx="278.0" cy="578.0" r="3.475"/><circle cx="280.8" cy="575.9" r="3.475"/><circle cx="283.3" cy="573.9" r="3.475"/><circle cx="285.6" cy="572.1" r="3.475"/><circle cx="287.8" cy="570.4" r="3.475"/><circle cx="289.9" cy="568.9" r="3.475"/><circle cx="291.9" cy="567.5" r="3.475"/><circle cx="293.7" cy="566.1" r="3.475"/><circle cx="295.5" cy="564.8" r="3.475"/><circle cx="297.1" cy="563.5" r="3.475"/><circle cx="298.7" cy="562.2" r="3.475"/><circle cx="300.2" cy="561.1" r="3.475"/><circle cx="301.7" cy="560.0" r="3.475"/><circle cx="303.1" cy="558.9" r="3.475"/><circle cx="304.4" cy="558.0" r="3.475"/><circle cx="305.7" cy="557.0" r="3.475"/><circle cx="306.9" cy="556.1" r="3.475"/><circle cx="308.1" cy="555.2" r="3.475"/><circle cx="309.3" cy="554.3" r="3.475"/><circle cx="310.4" cy="553.5" r="3.475"/><circle cx="311.5" cy="552.7" r="3.475"/><circle cx="312.5" cy="551.9" r="3.475"/><circle cx="313.5" cy="551.2" r="3.475"/><circle cx="314.5" cy="550.5" r="3.475"/><circle cx="315.5" cy="549.9" r="3.475"/><circle cx="316.4" cy="549.2" r="3.475"/><circle cx="317.3" cy="548.6" r="3.475"/><circle cx="318.2" cy="548.0" r="3.475"/><circle cx="319.1" cy="547.4" r="3.475"/><circle cx="319.9" cy="546.8" r="3.475"/><circle cx="320.7" cy="546.2" r="3.475"/><circle cx="321.5" cy="545.6" r="3.475"/><circle cx="322.3" cy="544.9" r="3.475"/><circle cx="323.1" cy="544.3" r="3.475"/></g>
<path fill="none" stroke="#C77CFF" stroke-width="6.95" stroke-linecap="round" d="M324.6 543.1h0M326.0 541.9h0M327.4 540.9h0M328.7 539.9h0M329.9 539.0h0M331.1 538.2h0M332.3 537.4h0M333.5 536.7h0M334.6 535.9h0M335.6 535.1h0M336.7 534.4h0M337.7 533.6h0M338.6 532.9h0M339.6 532.2h0M340.5 531.6h0M341.4 531.0h0M342.3 530.4h0M343.1 529.8h0M344.0 529.2h0M344.8 528.7h0M345.9 527.8h0M347.1 527.0h0M348.2 526.2h0M349.3 525.3h0M350.3 524.5h0M351.3 523.6h0M352.3 522.8h0M353.2 522.1h0M354.2 521.4h0M355.1 520.7h0M355.9 520.1h0M356.8 519.6h0M357.6 519.0h0M358.4 518.5h0M359.5 517.8h0M360.5 517.2h0M361.5 516.5h0M362.5 515.8h0M363.4 515.1h0M364.3 514.5h0M365.2 513.8h0M366.1 513.1h0M367.0 512.5h0M367.8 511.9h0M368.6 511.3h0M369.6 510.6h0M370.5 510.0h0M371.4 509.3h0M372.4 508.7h0M373.2 508.1h0M374.1 507.5h0M374.9 506.8h0M375.7 506.2h0M376.7 505.5h0M377.6 504.7h0M378.5 504.0h0M379.4 503.3h0M380.3 502.7h0M381.1 502.0h0M381.9 501.4h0M382.9 500.8h0M383.8 500.2h0M384.7 499.6h0M385.5 499.1h0M386.3 498.5h0M387.2 498.0h0M388.1 497.4h0M389.0 496.8h0M389.8 496.2h0M390.7 495.6h0M391.5 495.0h0M392.3 494.4h0M393.2 493.7h0M394.0 493.1h0M394.9 492.4h0M395.7 491.8h0M396.6 491.2h0M397.5 490.5h0M398.3 490.0h0M399.1 489.4h0M399.9 488.8h0M400.8 488.2h0M401.6 487.6h0M402.5 487.0h0M403.3 486.4h0M404.1 485.8h0M404.9 485.2h0M405.8 484.5h0M406.6 483.9h0M407.5 483.2h0M408.3 482.6h0M409.1 482.0h0M410.0 481.4h0M410.8 480.8h0M411.6 480.3h0M412.5 479.7h0M413.3 479.2h0M414.1 478.7h0M415.0 478.2h0M415.8 477.6h0M416.6 477.0h0M417.4 476.5h0M418.3 475.8h0M419.1 475.2h0M419.9 474.6h0M420.7 473.9h0M421.5 473.3h0M422.4 472.7h0M423.2 472.1h0M424.0 471.5h0M424.8 470.9h0M425.7 470.3h0M426.5 469.7h0M427.3 469.2h0M428.1 468.6h0M428.9 468.1h0M429.7 467.5h0M430.6 466.9h0M431.4 466.3h0M432.2 465.7h0M433.0 465.0h0M433.8 464.4h0M434.6 463.8h0M435.5 463.2h0M436.3 462.6h0M437.1 462.0h0M437.9 461.4h0M438.7 460.9h0M439.5 460.3h0M440.3 459.8h0M441.1 459.3h0M442.0 458.8h0M442.8 458.3h0M443.6 457.7h0M444.4 457.2h0M445.2 456.6h0M446.0 456.0h0M446.8 455.3h0M447.6 454.7h0M448.4 454.1h0M449.3 453.5h0M450.1 452.8h0M450.9 452.2h0M451.7 451.7h0M452.5 451.1h0M453.3 450.5h0M454.1 450.0h0M454.9 449.4h0M455.7 448.9h0M456.5 448.3h0M457.3 447.8h0M458.1 447.2h0M458.9 446.6h0M459.8 446.0h0M460.6 445.3h0M461.4 444.7h0M462.2 444.1h0M463.0 443.5h0M463.8 442.9h0M464.6 442.3h0M465.4 441.7h0M466.2 441.2h0M467.0 440.7h0M467.8 440.2h0M468.6 439.7h0M469.4 439.2h0M470.2 438.6h0M471.0 438.1h0M471.8 437.5h0M472.6 437.0h0M473.4 436.4h0M474.3 435.8h0M475.1 435.1h0M475.9 434.5h0M476.7 433.9h0M477.5 433.3h0M478.3 432.7h0M479.1 432.1h0M479.9 431.5h0M480.7 430.9h0M481.5 430.4h0M482.3 429.8h0M483.1 429.3h0M483.6 428.9h0"/>
<g fill="#C77CFF" fill-opacity="0.7"><path d="M373.9 519.1l4.21 7.30h-8.42z"/><path d="M387.7 501.7l4.21 7.30h-8.42z"/><path d="M397.5 492.3l4.21 7.30h-8.42z"/><path d="M405.1 484.9l4.21 7.30h-8.42z"/><path d="M411.4 479.8l4.21 7.30h-8.42z"/><path d="M416.6 475.3l4.21 7.30h-8.42z"/><path d="M421.2 471.2l4.21 7.30h-8.42z"/><path d="M425.2 468.0l4.21 7.30h-8.42z"/><path d="M428.8 465.4l4.21 7.30h-8.42z"/><path d="M432.0 462.9l4.21 7.30h-8.42z"/><path d="M435.0 460.5l4.21 7.30h-8.42z"/><path d="M437.7 458.4l4.21 7.30h-8.42z"/><path d="M440.2 456.4l4.21 7.30h-8.42z"/><path d="M442.6 454.6l4.21 7.30h-8.42z"/><path d="M444.8 452.9l4.21 7.30h-8.42z"/><path d="M446.9 451.2l4.21 7.30h-8.42z"/><path d="M448.8 449.6l4.21 7.30h-8.42z"/><path d="M450.6 448.2l4.21 7.30h-8.42z"/><path d="M452.4 446.9l4.21 7.30h-8.42z"/><path d="M454.1 445.7l4.21 7.30h-8.42z"/><path d="M455.6 444.6l4.21 7.30h-8.42z"/><path d="M457.2 443.6l4.21 7.30h-8.42z"/><path d="M458.6 442.6l4.21 7.30h-8.42z"/><path d="M460.0 441.6l4.21 7.30h-8.42z"/><path d="M461.3 440.7l4.21 7.30h-8.42z"/><path d="M462.6 439.7l4.21 7.30h-8.42z"/><path d="M463.9 438.8l4.21 7.30h-8.42z"/><path d="M465.1 437.8l4.21 7.30h-8.42z"/><path d="M466.2 436.9l4.21 7.30h-8.42z"/><path d="M467.3 436.0l4.21 7.30h-8.42z"/><path d="M468.4 435.2l4.21 7.30h-8.42z"/><path d="M469.5 434.3l4.21 7.30h-8.42z"/><path d="M470.5 433.6l4.21 7.30h-8.42z"/><path d="M471.5 432.8l4.21 7.30h-8.42z"/><path d="M472.4 432.1l4.21 7.30h-8.42z"/><path d="M473.4 431.4l4.21 7.30h-8.42z"/><path d="M474.3 430.7l4.21 7.30h-8.42z"/><path d="M475.2 430.0l4.21 7.30h-8.42z"/><path d="M476.0 429.4l4.21 7.30h-8.42z"/><path d="M476.9 428.8l4.21 7.30h-8.42z"/><path d="M477.7 428.2l4.21 7.30h-8.42z"/><path d="M478.5 427.6l4.21 7.30h-8.42z"/><path d="M479.3 427.0l4.21 7.30h-8.42z"/><path d="M480.0 426.5l4.21 7.30h-8.42z"/></g>
<path fill="#C77CFF" d="M481.5 425.5l4.2 7.3h-8.4zM482.9 424.5l4.2 7.3h-8.4zM484.3 423.6l4.2 7.3h-8.4zM485.6 422.8l4.2 7.3h-8.4zM486.9 421.9l4.2 7.3h-8.4zM488.1 421.0l4.2 7.3h-8.4zM489.3 420.1l4.2 7.3h-8.4zM490.4 419.3l4.2 7.3h-8.4zM491.5 418.4l4.2 7.3h-8.4zM492.6 417.5l4.2 7.3h-8.4zM493.6 416.7l4.2 7.3h-8.4zM494.6 415.9l4.2 7.3h-8.4zM495.6 415.1l4.2 7.3h-8.4zM496.5 414.4l4.2 7.3h-8.4zM497.4 413.7l4.2 7.3h-8.4zM498.3 413.1l4.2 7.3h-8.4zM499.2 412.5l4.2 7.3h-8.4zM500.1 411.9l4.2 7.3h-8.4zM500.9 411.4l4.2 7.3h-8.4zM501.7 410.9l4.2 7.3h-8.4zM502.9 410.1l4.2 7.3h-8.4zM504.0 409.4l4.2 7.3h-8.4zM505.1 408.6l4.2 7.3h-8.4zM506.2 407.8l4.2 7.3h-8.4zM507.2 407.0l4.2 7.3h-8.4zM508.2 406.3l4.2 7.3h-8.4zM509.2 405.5l4.2 7.3h-8.4zM510.2 404.7l4.2 7.3h-8.4zM511.1 403.9l4.2 7.3h-8.4zM512.0 403.2l4.2 7.3h-8.4zM512.9 402.6l4.2 7.3h-8.4zM513.7 401.9l4.2 7.3h-8.4zM514.6 401.3l4.2 7.3h-8.4zM515.4 400.8l4.2 7.3h-8.4zM516.4 400.1l4.2 7.3h-8.4zM517.5 399.4l4.2 7.3h-8.4zM518.5 398.8l4.2 7.3h-8.4zM519.4 398.2l4.2 7.3h-8.4zM520.4 397.6l4.2 7.3h-8.4zM521.3 397.0l4.2 7.3h-8.4zM522.2 396.4l4.2 7.3h-8.4zM523.0 395.8l4.2 7.3h-8.4zM523.9 395.2l4.2 7.3h-8.4zM524.7 394.5l4.2 7.3h-8.4zM525.5 393.9l4.2 7.3h-8.4zM526.5 393.1l4.2 7.3h-8.4zM527.5 392.4l4.2 7.3h-8.4zM528.4 391.6l4.2 7.3h-8.4zM529.3 390.9l4.2 7.3h-8.4zM530.2 390.2l4.2 7.3h-8.4zM531.0 389.6l4.2 7.3h-8.4zM531.9 389.0l4.2 7.3h-8.4zM532.7 388.4l4.2 7.3h-8.4zM533.6 387.7l4.2 7.3h-8.4zM534.6 387.0l4.2 7.3h-8.4zM535.5 386.4l4.2 7.3h-8.4zM536.4 385.8l4.2 7.3h-8.4zM537.2 385.2l4.2 7.3h-8.4zM538.1 384.6l4.2 7.3h-8.4zM538.9 384.0l4.2 7.3h-8.4zM539.8 383.4l4.2 7.3h-8.4zM540.7 382.7l4.2 7.3h-8.4zM541.6 382.1l4.2 7.3h-8.4zM542.4 381.5l4.2 7.3h-8.4zM543.3 380.9l4.2 7.3h-8.4zM544.1 380.3l4.2 7.3h-8.4zM545.0 379.7l4.2 7.3h-8.4zM545.9 379.1l4.2 7.3h-8.4zM546.8 378.5l4.2 7.3h-8.4zM547.6 377.9l4.2 7.3h-8.4zM548.4 377.4l4.2 7.3h-8.4zM549.2 376.8l4.2 7.3h-8.4zM550.1 376.2l4.2 7.3h-8.4zM551.0 375.7l4.2 7.3h-8.4zM551.8 375.1l4.2 7.3h-8.4zM552.6 374.5l4.2 7.3h-8.4zM553.5 373.8l4.2 7.3h-8.4zM554.4 373.1l4.2 7.3h-8.4zM555.2 372.5l4.2 7.3h-8.4zM556.1 371.8l4.2 7.3h-8.4zM556.9 371.2l4.2 7.3h-8.4zM557.7 370.5l4.2 7.3h-8.4zM558.6 369.8l4.2 7.3h-8.4zM559.4 369.2l4.2 7.3h-8.4zM560.2 368.6l4.2 7.3h-8.4zM561.1 367.9l4.2 7.3h-8.4zM561.9 367.3l4.2 7.3h-8.4zM562.7 366.7l4.2 7.3h-8.4zM563.6 366.1l4.2 7.3h-8.4zM564.4 365.6l4.2 7.3h-8.4zM565.2 365.0l4.2 7.3h-8.4zM566.1 364.5l4.2 7.3h-8.4zM566.9 363.9l4.2 7.3h-8.4zM567.7 363.4l4.2 7.3h-8.4zM568.6 362.8l4.2 7.3h-8.4zM569.4 362.3l4.2 7.3h-8.4zM570.2 361.7l4.2 7.3h-8.4zM571.1 361.1l4.2 7.3h-8.4zM571.9 360.6l4.2 7.3h-8.4zM572.7 360.0l4.2 7.3h-8.4zM573.6 359.4l4.2 7.3h-8.4zM574.4 358.8l4.2 7.3h-8.4zM575.2 358.2l4.2 7.3h-8.4zM576.0 357.6l4.2 7.3h-8.4zM576.8 357.1l4.2 7.3h-8.4zM577.7 356.4l4.2 7.3h-8.4zM578.5 355.9l4.2 7.3h-8.4zM579.3 355.2l4.2 7.3h-8.4zM580.1 354.6l4.2 7.3h-8.4zM581.0 354.0l4.2 7.3h-8.4zM581.8 353.4l4.2 7.3h-8.4zM582.6 352.8l4.2 7.3h-8.4zM583.4 352.1l4.2 7.3h-8.4zM584.2 351.5l4.2 7.3h-8.4zM585.1 350.9l4.2 7.3h-8.4zM585.9 350.2l4.2 7.3h-8.4zM586.7 349.6l4.2 7.3h-8.4zM587.5 349.0l4.2 7.3h-8.4zM588.3 348.4l4.2 7.3h-8.4zM589.1 347.8l4.2 7.3h-8.4zM590.0 347.3l4.2 7.3h-8.4zM590.8 346.7l4.2 7.3h-8.4zM591.6 346.2l4.2 7.3h-8.4zM592.4 345.7l4.2 7.3h-8.4zM593.2 345.2l4.2 7.3h-8.4zM594.0 344.6l4.2 7.3h-8.4zM594.8 344.1l4.2 7.3h-8.4zM595.7 343.6l4.2 7.3h-8.4zM596.5 343.0l4.2 7.3h-8.4zM597.3 342.5l4.2 7.3h-8.4zM598.1 341.9l4.2 7.3h-8.4zM598.9 341.3l4.2 7.3h-8.4zM599.7 340.7l4.2 7.3h-8.4zM600.5 340.1l4.2 7.3h-8.4zM601.3 339.4l4.2 7.3h-8.4zM602.1 338.8l4.2 7.3h-8.4zM602.9 338.1l4.2 7.3h-8.4zM603.8 337.5l4.2 7.3h-8.4zM604.6 336.9l4.2 7.3h-8.4zM605.4 336.3l4.2 7.3h-8.4zM606.2 335.7l4.2 7.3h-8.4zM607.0 335.1l4.2 7.3h-8.4zM607.8 334.6l4.2 7.3h-8.4zM608.6 334.0l4.2 7.3h-8.4zM609.4 333.5l4.2 7.3h-8.4zM610.2 333.0l4.2 7.3h-8.4zM611.0 332.5l4.2 7.3h-8.4zM611.8 332.0l4.2 7.3h-8.4zM612.7 331.5l4.2 7.3h-8.4zM613.5 330.9l4.2 7.3h-8.4zM614.3 330.4l4.2 7.3h-8.4zM615.1 329.8l4.2 7.3h-8.4zM615.9 329.2l4.2 7.3h-8.4zM616.7 328.6l4.2 7.3h-8.4zM617.5 327.9l4.2 7.3h-8.4zM618.3 327.3l4.2 7.3h-8.4zM619.1 326.6l4.2 7.3h-8.4zM619.9 326.0l4.2 7.3h-8.4zM620.7 325.3l4.2 7.3h-8.4zM621.5 324.7l4.2 7.3h-8.4zM622.3 324.0l4.2 7.3h-8.4zM623.1 323.4l4.2 7.3h-8.4zM623.9 322.9l4.2 7.3h-8.4zM624.7 322.3l4.2 7.3h-8.4zM625.5 321.8l4.2 7.3h-8.4zM626.3 321.2l4.2 7.3h-8.4zM627.2 320.7l4.2 7.3h-8.4zM628.0 320.2l4.2 7.3h-8.4zM628.8 319.7l4.2 7.3h-8.4zM629.6 319.2l4.2 7.3h-8.4zM630.4 318.7l4.2 7.3h-8.4zM631.2 318.1l4.2 7.3h-8.4zM632.0 317.6l4.2 7.3h-8.4zM632.8 317.0l4.2 7.3h-8.4zM633.6 316.5l4.2 7.3h-8.4zM634.4 315.9l4.2 7.3h-8.4zM635.2 315.3l4.2 7.3h-8.4zM636.0 314.7l4.2 7.3h-8.4zM636.8 314.1l4.2 7.3h-8.4zM637.6 313.5l4.2 7.3h-8.4zM638.4 312.9l4.2 7.3h-8.4zM639.2 312.3l4.2 7.3h-8.4zM640.0 311.7l4.2 7.3h-8.4zM640.6 311.3l4.2 7.3h-8.4z"/>
<g fill="#C77CFF" fill-opacity="0.7"><rect x="480.4" y="442.1" width="6.5" height="6.5"/><rect x="494.2" y="425.3" width="6.5" height="6.5"/><rect x="504.0" y="415.2" width="6.5" height="6.5"/><rect x="511.6" y="408.1" width="6.5" height="6.5"/><rect x="517.8" y="403.0" width="6.5" height="6.5"/><rect x="523.1" y="398.3" width="6.5" height="6.5"/><rect x="527.6" y="394.5" width="6.5" height="6.5"/><rect x="531.6" y="391.4" width="6.5" height="6.5"/><rect x="535.2" y="388.5" width="6.5" height="6.5"/><rect x="538.5" y="385.8" width="6.5" height="6.5"/><rect x="541.4" y="383.5" width="6.5" height="6.5"/><rect x="544.2" y="381.5" width="6.5" height="6.5"/><rect x="546.7" y="379.6" width="6.5" height="6.5"/><rect x="549.0" y="377.7" width="6.5" height="6.5"/><rect x="551.2" y="376.0" width="6.5" height="6.5"/><rect x="553.3" y="374.4" width="6.5" height="6.5"/><rect x="555.2" y="373.0" width="6.5" height="6.5"/><rect x="557.1" y="371.6" width="6.5" height="6.5"/><rect x="558.8" y="370.3" width="6.5" height="6.5"/><rect x="560.5" y="369.0" width="6.5" height="6.5"/><rect x="562.1" y="367.8" width="6.5" height="6.5"/><rect x="563.6" y="366.6" width="6.5" height="6.5"/><rect x="565.1" y="365.5" width="6.5" height="6.5"/><rect x="566.4" y="364.5" width="6.5" height="6.5"/><rect x="567.8" y="363.5" width="6.5" height="6.5"/><rect x="569.1" y="362.6" width="6.5" height="6.5"/><rect x="570.3" y="361.8" width="6.5" height="6.5"/><rect x="571.5" y="361.0" width="6.5" height="6.5"/><rect x="572.7" y="360.1" width="6.5" height="6.5"/><rect x="573.8" y="359.3" width="6.5" height="6.5"/><rect x="574.9" y="358.5" width="6.5" height="6.5"/><rect x="575.9" y="357.6" width="6.5" height="6.5"/><rect x="576.9" y="356.8" width="6.5" height="6.5"/><rect x="577.9" y="356.0" width="6.5" height="6.5"/><rect x="578.9" y="355.3" width="6.5" height="6.5"/><rect x="579.8" y="354.5" width="6.5" height="6.5"/><rect x="580.7" y="353.9" width="6.5" height="6.5"/><rect x="581.6" y="353.2" width="6.5" height="6.5"/><rect x="582.5" y="352.6" width="6.5" height="6.5"/><rect x="583.3" y="352.0" width="6.5" height="6.5"/><rect x="584.1" y="351.5" width="6.5" height="6.5"/><rect x="584.9" y="350.9" width="6.5" height="6.5"/><rect x="585.7" y="350.4" width="6.5" height="6.5"/><rect x="586.5" y="349.9" width="6.5" height="6.5"/></g>
<path fill="#C77CFF" d="M587.96 348.81h6.5v6.5h-6.5zM589.38 347.76h6.5v6.5h-6.5zM590.74 346.72h6.5v6.5h-6.5zM592.05 345.71h6.5v6.5h-6.5zM593.31 344.75h6.5v6.5h-6.5zM594.53 343.85h6.5v6.5h-6.5zM595.71 343.00h6.5v6.5h-6.5zM596.84 342.20h6.5v6.5h-6.5zM597.94 341.44h6.5v6.5h-6.5zM599.01 340.71h6.5v6.5h-6.5zM600.04 339.99h6.5v6.5h-6.5zM601.04 339.29h6.5v6.5h-6.5zM602.01 338.58h6.5v6.5h-6.5zM602.96 337.89h6.5v6.5h-6.5zM603.88 337.19h6.5v6.5h-6.5zM604.78 336.51h6.5v6.5h-6.5zM605.65 335.84h6.5v6.5h-6.5zM606.51 335.19h6.5v6.5h-6.5zM607.34 334.57h6.5v6.5h-6.5zM608.15 333.96h6.5v6.5h-6.5zM609.33 333.10h6.5v6.5h-6.5zM610.47 332.28h6.5v6.5h-6.5zM611.58 331.50h6.5v6.5h-6.5zM612.65 330.75h6.5v6.5h-6.5zM613.69 330.02h6.5v6.5h-6.5zM614.69 329.31h6.5v6.5h-6.5zM615.67 328.60h6.5v6.5h-6.5zM616.62 327.91h6.5v6.5h-6.5zM617.55 327.23h6.5v6.5h-6.5zM618.45 326.58h6.5v6.5h-6.5zM619.33 325.94h6.5v6.5h-6.5zM620.18 325.32h6.5v6.5h-6.5zM621.02 324.73h6.5v6.5h-6.5zM621.83 324.16h6.5v6.5h-6.5zM622.89 323.43h6.5v6.5h-6.5zM623.91 322.74h6.5v6.5h-6.5zM624.91 322.07h6.5v6.5h-6.5zM625.88 321.41h6.5v6.5h-6.5zM626.82 320.75h6.5v6.5h-6.5zM627.73 320.09h6.5v6.5h-6.5zM628.62 319.42h6.5v6.5h-6.5zM629.49 318.75h6.5v6.5h-6.5zM630.34 318.08h6.5v6.5h-6.5zM631.16 317.42h6.5v6.5h-6.5zM631.97 316.76h6.5v6.5h-6.5zM632.95 315.97h6.5v6.5h-6.5zM633.91 315.21h6.5v6.5h-6.5zM634.84 314.50h6.5v6.5h-6.5zM635.74 313.84h6.5v6.5h-6.5zM636.62 313.22h6.5v6.5h-6.5zM637.48 312.65h6.5v6.5h-6.5zM638.32 312.12h6.5v6.5h-6.5zM639.13 311.61h6.5v6.5h-6.5zM640.09 311.03h6.5v6.5h-6.5zM641.02 310.47h6.5v6.5h-6.5zM641.92 309.91h6.5v6.5h-6.5zM642.80 309.34h6.5v6.5h-6.5zM643.66 308.77h6.5v6.5h-6.5zM644.50 308.18h6.5v6.5h-6.5zM645.32 307.58h6.5v6.5h-6.5zM646.25 306.87h6.5v6.5h-6.5zM647.15 306.16h6.5v6.5h-6.5zM648.04 305.45h6.5v6.5h-6.5zM648.90 304.76h6.5v6.5h-6.5zM649.73 304.08h6.5v6.5h-6.5zM650.55 303.43h6.5v6.5h-6.5zM651.47 302.71h6.5v6.5h-6.5zM652.35 301.87h6.5v6.5h-6.5zM652.35 302.18h6.5v6.5h-6.5zM653.22 301.21h6.5v6.5h-6.5zM653.22 301.54h6.5v6.5h-6.5zM654.06 300.59h6.5v6.5h-6.5zM654.06 300.93h6.5v6.5h-6.5zM654.89 299.99h6.5v6.5h-6.5zM654.89 300.35h6.5v6.5h-6.5zM655.69 299.41h6.5v6.5h-6.5zM655.69 299.79h6.5v6.5h-6.5zM656.57 298.79h6.5v6.5h-6.5zM656.57 299.18h6.5v6.5h-6.5zM657.43 298.19h6.5v6.5h-6.5zM657.43 298.60h6.5v6.5h-6.5zM658.27 297.60h6.5v6.5h-6.5zM658.27 298.03h6.5v6.5h-6.5zM659.09 297.04h6.5v6.5h-6.5zM659.09 297.49h6.5v6.5h-6.5zM659.98 296.43h6.5v6.5h-6.5zM659.98 296.90h6.5v6.5h-6.5zM660.84 295.85h6.5v6.5h-6.5zM660.84 296.33h6.5v6.5h-6.5zM661.69 295.28h6.5v6.5h-6.5zM661.69 295.78h6.5v6.5h-6.5zM662.51 294.73h6.5v6.5h-6.5zM662.51 295.25h6.5v6.5h-6.5zM663.32 294.20h6.5v6.5h-6.5zM663.32 294.73h6.5v6.5h-6.5zM664.18 293.62h6.5v6.5h-6.5zM664.18 294.17h6.5v6.5h-6.5zM665.02 293.06h6.5v6.5h-6.5zM665.02 293.63h6.5v6.5h-6.5zM665.84 292.51h6.5v6.5h-6.5zM665.84 293.09h6.5v6.5h-6.5zM666.64 291.95h6.5v6.5h-6.5zM666.64 292.55h6.5v6.5h-6.5zM667.50 291.35h6.5v6.5h-6.5zM667.50 291.96h6.5v6.5h-6.5zM668.33 290.74h6.5v6.5h-6.5zM668.33 291.37h6.5v6.5h-6.5zM669.14 290.12h6.5v6.5h-6.5zM669.14 290.77h6.5v6.5h-6.5zM670.00 289.45h6.5v6.5h-6.5zM670.00 290.12h6.5v6.5h-6.5zM670.84 288.77h6.5v6.5h-6.5zM670.84 289.45h6.5v6.5h-6.5zM671.66 288.09h6.5v6.5h-6.5zM671.66 288.79h6.5v6.5h-6.5zM672.52 287.37h6.5v6.5h-6.5zM672.52 288.09h6.5v6.5h-6.5zM673.36 286.66h6.5v6.5h-6.5zM673.36 287.39h6.5v6.5h-6.5zM674.18 285.98h6.5v6.5h-6.5zM674.18 286.72h6.5v6.5h-6.5zM675.03 285.27h6.5v6.5h-6.5zM675.03 286.04h6.5v6.5h-6.5zM675.87 284.61h6.5v6.5h-6.5zM675.87 285.39h6.5v6.5h-6.5zM676.68 283.99h6.5v6.5h-6.5zM676.68 284.79h6.5v6.5h-6.5zM677.53 283.38h6.5v6.5h-6.5zM677.53 284.19h6.5v6.5h-6.5zM678.36 282.81h6.5v6.5h-6.5zM678.36 283.64h6.5v6.5h-6.5zM679.16 282.28h6.5v6.5h-6.5zM679.16 283.13h6.5v6.5h-6.5zM680.00 281.76h6.5v6.5h-6.5zM680.00 282.63h6.5v6.5h-6.5zM680.82 281.27h6.5v6.5h-6.5zM680.82 282.15h6.5v6.5h-6.5zM681.66 280.77h6.5v6.5h-6.5zM681.66 281.67h6.5v6.5h-6.5zM682.49 280.27h6.5v6.5h-6.5zM682.49 281.19h6.5v6.5h-6.5zM683.29 279.78h6.5v6.5h-6.5zM683.29 280.71h6.5v6.5h-6.5zM684.12 279.26h6.5v6.5h-6.5zM684.12 280.20h6.5v6.5h-6.5zM684.93 278.72h6.5v6.5h-6.5zM684.93 279.68h6.5v6.5h-6.5zM685.77 278.14h6.5v6.5h-6.5zM685.77 279.12h6.5v6.5h-6.5zM686.58 277.54h6.5v6.5h-6.5zM686.58 278.54h6.5v6.5h-6.5zM687.41 276.90h6.5v6.5h-6.5zM687.41 277.91h6.5v6.5h-6.5zM688.22 276.25h6.5v6.5h-6.5zM688.22 277.28h6.5v6.5h-6.5zM689.05 275.58h6.5v6.5h-6.5zM689.05 276.62h6.5v6.5h-6.5zM689.87 274.91h6.5v6.5h-6.5zM689.87 275.97h6.5v6.5h-6.5zM690.69 274.22h6.5v6.5h-6.5zM690.69 275.30h6.5v6.5h-6.5zM691.50 273.56h6.5v6.5h-6.5zM691.50 274.66h6.5v6.5h-6.5zM692.33 272.90h6.5v6.5h-6.5zM692.33 274.01h6.5v6.5h-6.5zM693.13 272.27h6.5v6.5h-6.5zM693.13 273.40h6.5v6.5h-6.5zM693.95 271.64h6.5v6.5h-6.5zM693.95 272.79h6.5v6.5h-6.5zM694.78 271.03h6.5v6.5h-6.5zM694.78 272.19h6.5v6.5h-6.5zM695.59 270.44h6.5v6.5h-6.5zM695.59 271.62h6.5v6.5h-6.5zM696.41 269.86h6.5v6.5h-6.5zM696.41 271.05h6.5v6.5h-6.5zM697.21 269.30h6.5v6.5h-6.5zM697.21 270.51h6.5v6.5h-6.5zM698.03 268.74h6.5v6.5h-6.5zM698.03 269.97h6.5v6.5h-6.5zM698.85 268.18h6.5v6.5h-6.5zM698.85 269.42h6.5v6.5h-6.5zM699.65 267.63h6.5v6.5h-6.5zM699.65 268.89h6.5v6.5h-6.5zM700.46 267.07h6.5v6.5h-6.5zM700.46 268.34h6.5v6.5h-6.5zM701.28 266.51h6.5v6.5h-6.5zM701.28 267.80h6.5v6.5h-6.5zM702.10 265.93h6.5v6.5h-6.5zM702.10 267.24h6.5v6.5h-6.5zM702.91 265.37h6.5v6.5h-6.5zM702.91 266.70h6.5v6.5h-6.5zM703.72 264.81h6.5v6.5h-6.5zM703.72 266.15h6.5v6.5h-6.5zM704.54 264.24h6.5v6.5h-6.5zM704.54 265.60h6.5v6.5h-6.5zM705.36 263.67h6.5v6.5h-6.5zM705.36 265.04h6.5v6.5h-6.5zM706.16 263.11h6.5v6.5h-6.5zM706.16 264.50h6.5v6.5h-6.5zM706.96 262.55h6.5v6.5h-6.5zM706.96 263.95h6.5v6.5h-6.5zM707.77 261.98h6.5v6.5h-6.5zM707.77 263.40h6.5v6.5h-6.5zM708.58 261.40h6.5v6.5h-6.5zM708.58 262.84h6.5v6.5h-6.5zM709.39 260.82h6.5v6.5h-6.5zM709.39 262.27h6.5v6.5h-6.5zM710.20 260.22h6.5v6.5h-6.5zM710.20 261.69h6.5v6.5h-6.5zM711.01 259.60h6.5v6.5h-6.5zM711.01 261.09h6.5v6.5h-6.5zM711.83 258.98h6.5v6.5h-6.5zM711.83 260.48h6.5v6.5h-6.5zM712.64 258.33h6.5v6.5h-6.5zM712.64 259.85h6.5v6.5h-6.5zM713.45 257.68h6.5v6.5h-6.5zM713.45 259.22h6.5v6.5h-6.5zM714.26 257.02h6.5v6.5h-6.5zM714.26 258.57h6.5v6.5h-6.5zM715.07 256.37h6.5v6.5h-6.5zM715.07 257.93h6.5v6.5h-6.5zM715.88 255.72h6.5v6.5h-6.5zM715.88 257.30h6.5v6.5h-6.5zM716.69 255.08h6.5v6.5h-6.5zM716.69 256.68h6.5v6.5h-6.5zM717.49 254.47h6.5v6.5h-6.5zM717.49 256.08h6.5v6.5h-6.5zM718.29 253.88h6.5v6.5h-6.5zM718.29 255.51h6.5v6.5h-6.5zM719.10 253.31h6.5v6.5h-6.5zM719.10 254.96h6.5v6.5h-6.5zM719.91 252.78h6.5v6.5h-6.5zM719.91 254.44h6.5v6.5h-6.5zM720.72 252.27h6.5v6.5h-6.5zM720.72 253.95h6.5v6.5h-6.5zM721.52 251.78h6.5v6.5h-6.5zM721.52 253.47h6.5v6.5h-6.5zM722.33 251.29h6.5v6.5h-6.5zM722.33 253.00h6.5v6.5h-6.5zM723.14 250.81h6.5v6.5h-6.5zM723.14 252.54h6.5v6.5h-6.5zM723.94 250.32h6.5v6.5h-6.5zM723.94 252.07h6.5v6.5h-6.5zM724.75 249.81h6.5v6.5h-6.5zM724.75 251.57h6.5v6.5h-6.5zM725.55 249.27h6.5v6.5h-6.5zM725.55 251.05h6.5v6.5h-6.5zM726.36 248.70h6.5v6.5h-6.5zM726.36 250.49h6.5v6.5h-6.5zM727.16 248.09h6.5v6.5h-6.5zM727.16 249.90h6.5v6.5h-6.5zM727.97 247.45h6.5v6.5h-6.5zM727.97 249.27h6.5v6.5h-6.5zM728.77 246.78h6.5v6.5h-6.5zM728.77 248.62h6.5v6.5h-6.5zM729.57 246.08h6.5v6.5h-6.5zM729.57 247.94h6.5v6.5h-6.5zM730.38 245.37h6.5v6.5h-6.5zM730.38 247.25h6.5v6.5h-6.5zM731.18 244.67h6.5v6.5h-6.5zM731.18 246.56h6.5v6.5h-6.5zM731.99 243.99h6.5v6.5h-6.5zM731.99 245.89h6.5v6.5h-6.5zM732.79 243.32h6.5v6.5h-6.5zM732.79 245.24h6.5v6.5h-6.5zM733.60 242.68h6.5v6.5h-6.5zM733.60 244.62h6.5v6.5h-6.5zM734.41 242.09h6.5v6.5h-6.5zM734.41 244.04h6.5v6.5h-6.5zM735.22 241.52h6.5v6.5h-6.5zM735.22 243.49h6.5v6.5h-6.5zM736.03 241.00h6.5v6.5h-6.5zM736.03 242.98h6.5v6.5h-6.5zM736.84 240.50h6.5v6.5h-6.5zM736.84 242.50h6.5v6.5h-6.5zM737.64 240.03h6.5v6.5h-6.5zM737.64 242.03h6.5v6.5h-6.5zM738.45 239.57h6.5v6.5h-6.5zM738.45 241.57h6.5v6.5h-6.5zM739.25 239.11h6.5v6.5h-6.5zM739.25 241.11h6.5v6.5h-6.5zM740.06 238.63h6.5v6.5h-6.5zM740.06 240.63h6.5v6.5h-6.5zM740.86 238.13h6.5v6.5h-6.5zM740.86 240.13h6.5v6.5h-6.5zM741.67 237.61h6.5v6.5h-6.5zM741.67 239.61h6.5v6.5h-6.5zM742.47 237.05h6.5v6.5h-6.5zM742.47 239.05h6.5v6.5h-6.5zM743.27 236.46h6.5v6.5h-6.5zM743.27 238.46h6.5v6.5h-6.5zM744.07 235.85h6.5v6.5h-6.5zM744.07 237.85h6.5v6.5h-6.5zM744.87 235.22h6.5v6.5h-6.5zM744.87 237.22h6.5v6.5h-6.5zM745.68 234.57h6.5v6.5h-6.5zM745.68 236.57h6.5v6.5h-6.5zM746.48 233.92h6.5v6.5h-6.5zM746.48 235.92h6.5v6.5h-6.5zM747.00 233.50h6.5v6.5h-6.5zM747.00 235.50h6.5v6.5h-6.5z"/>
<g fill="none" stroke="#C77CFF" stroke-width="1.55" stroke-opacity="0.7"><path d="M525.7 410.9h10.30M530.9 405.8v10.30"/><path d="M539.5 394.1h10.30M544.7 388.9v10.30"/><path d="M549.3 384.6h10.30M554.5 379.4v10.30"/><path d="M556.9 377.2h10.30M562.1 372.1v10.30"/><path d="M563.2 371.6h10.30M568.3 366.4v10.30"/><path d="M568.4 367.8h10.30M573.6 362.6v10.30"/><path d="M573.0 363.9h10.30M578.1 358.7v10.30"/><path d="M577.0 360.2h10.30M582.1 355.0v10.30"/><path d="M580.6 357.3h10.30M585.7 352.1v10.30"/><path d="M583.8 355.0h10.30M589.0 349.8v10.30"/><path d="M586.8 352.9h10.30M591.9 347.7v10.30"/><path d="M589.5 350.8h10.30M594.7 345.6v10.30"/><path d="M592.0 348.7h10.30M597.2 343.5v10.30"/><path d="M594.4 346.7h10.30M599.5 341.6v10.30"/><path d="M596.6 344.9h10.30M601.7 339.8v10.30"/><path d="M598.6 343.3h10.30M603.8 338.2v10.30"/><path d="M600.6 341.9h10.30M605.7 336.8v10.30"/><path d="M602.4 340.6h10.30M607.6 335.5v10.30"/><path d="M604.2 339.4h10.30M609.3 334.2v10.30"/><path d="M605.8 338.2h10.30M611.0 333.0v10.30"/><path d="M607.4 337.0h10.30M612.6 331.9v10.30"/><path d="M608.9 335.9h10.30M614.1 330.7v10.30"/><path d="M610.4 334.8h10.30M615.5 329.6v10.30"/><path d="M611.8 333.7h10.30M616.9 328.6v10.30"/><path d="M613.1 332.7h10.30M618.3 327.5v10.30"/><path d="M614.4 331.7h10.30M619.6 326.5v10.30"/><path d="M615.6 330.7h10.30M620.8 325.6v10.30"/><path d="M616.8 329.8h10.30M622.0 324.6v10.30"/><path d="M618.0 328.9h10.30M623.1 323.7v10.30"/><path d="M619.1 328.1h10.30M624.3 322.9v10.30"/><path d="M620.2 327.3h10.30M625.3 322.1v10.30"/><path d="M621.2 326.5h10.30M626.4 321.4v10.30"/><path d="M622.3 325.8h10.30M627.4 320.6v10.30"/><path d="M623.3 325.1h10.30M628.4 320.0v10.30"/><path d="M624.2 324.4h10.30M629.4 319.3v10.30"/><path d="M625.1 323.8h10.30M630.3 318.7v10.30"/><path d="M626.1 323.2h10.30M631.2 318.0v10.30"/><path d="M626.9 322.6h10.30M632.1 317.4v10.30"/><path d="M627.8 322.0h10.30M633.0 316.8v10.30"/><path d="M628.6 321.3h10.30M633.8 316.2v10.30"/><path d="M629.5 320.7h10.30M634.6 315.6v10.30"/><path d="M630.3 320.1h10.30M635.4 315.0v10.30"/><path d="M631.1 319.5h10.30M636.2 314.4v10.30"/><path d="M631.8 318.9h10.30M637.0 313.8v10.30"/></g>
<path fill="none" stroke="#C77CFF" stroke-width="1.55" d="M633.3 317.8h10.3m-5.2 -5.2v10.3M634.7 316.7h10.3m-5.2 -5.2v10.3M636.1 315.6h10.3m-5.2 -5.2v10.3M637.4 314.6h10.3m-5.2 -5.2v10.3M638.7 313.7h10.3m-5.2 -5.2v10.3M639.9 312.9h10.3m-5.2 -5.2v10.3M641.0 312.1h10.3m-5.2 -5.2v10.3M642.2 311.3h10.3m-5.2 -5.2v10.3M643.3 310.6h10.3m-5.2 -5.2v10.3M644.3 309.9h10.3m-5.2 -5.2v10.3M645.4 309.1h10.3m-5.2 -5.2v10.3M646.4 308.4h10.3m-5.2 -5.2v10.3M647.4 307.7h10.3m-5.2 -5.2v10.3M648.3 306.9h10.3m-5.2 -5.2v10.3M649.2 306.2h10.3m-5.2 -5.2v10.3M650.1 305.4h10.3m-5.2 -5.2v10.3M650.1 305.7h10.3m-5.2 -5.2v10.3M651.0 304.7h10.3m-5.2 -5.2v10.3M651.0 305.0h10.3m-5.2 -5.2v10.3M651.8 304.0h10.3m-5.2 -5.2v10.3M651.8 304.4h10.3m-5.2 -5.2v10.3M652.7 303.4h10.3m-5.2 -5.2v10.3M652.7 303.7h10.3m-5.2 -5.2v10.3M653.5 302.8h10.3m-5.2 -5.2v10.3M653.5 303.2h10.3m-5.2 -5.2v10.3M654.7 301.9h10.3m-5.2 -5.2v10.3M654.7 302.3h10.3m-5.2 -5.2v10.3M655.8 301.1h10.3m-5.2 -5.2v10.3M655.8 301.5h10.3m-5.2 -5.2v10.3M656.9 300.3h10.3m-5.2 -5.2v10.3M656.9 300.8h10.3m-5.2 -5.2v10.3M658.0 299.6h10.3m-5.2 -5.2v10.3M658.0 300.1h10.3m-5.2 -5.2v10.3M659.0 298.9h10.3m-5.2 -5.2v10.3M659.0 299.4h10.3m-5.2 -5.2v10.3M660.0 298.2h10.3m-5.2 -5.2v10.3M660.0 298.7h10.3m-5.2 -5.2v10.3M661.0 297.5h10.3m-5.2 -5.2v10.3M661.0 298.1h10.3m-5.2 -5.2v10.3M662.0 296.9h10.3m-5.2 -5.2v10.3M662.0 297.4h10.3m-5.2 -5.2v10.3M662.9 296.2h10.3m-5.2 -5.2v10.3M662.9 296.7h10.3m-5.2 -5.2v10.3M663.8 295.5h10.3m-5.2 -5.2v10.3M663.8 296.1h10.3m-5.2 -5.2v10.3M664.7 294.8h10.3m-5.2 -5.2v10.3M664.7 295.4h10.3m-5.2 -5.2v10.3M665.5 294.1h10.3m-5.2 -5.2v10.3M665.5 294.7h10.3m-5.2 -5.2v10.3M666.4 293.5h10.3m-5.2 -5.2v10.3M666.4 294.1h10.3m-5.2 -5.2v10.3M667.2 292.8h10.3m-5.2 -5.2v10.3M667.2 293.5h10.3m-5.2 -5.2v10.3M668.2 292.0h10.3m-5.2 -5.2v10.3M668.2 292.7h10.3m-5.2 -5.2v10.3M669.3 291.2h10.3m-5.2 -5.2v10.3M669.3 291.9h10.3m-5.2 -5.2v10.3M670.3 290.5h10.3m-5.2 -5.2v10.3M670.3 291.2h10.3m-5.2 -5.2v10.3M671.2 289.8h10.3m-5.2 -5.2v10.3M671.2 290.5h10.3m-5.2 -5.2v10.3M672.2 289.2h10.3m-5.2 -5.2v10.3M672.2 289.9h10.3m-5.2 -5.2v10.3M673.1 288.5h10.3m-5.2 -5.2v10.3M673.1 289.3h10.3m-5.2 -5.2v10.3M674.0 288.0h10.3m-5.2 -5.2v10.3M674.0 288.7h10.3m-5.2 -5.2v10.3M674.8 287.4h10.3m-5.2 -5.2v10.3M674.8 288.2h10.3m-5.2 -5.2v10.3M675.7 286.8h10.3m-5.2 -5.2v10.3M675.7 287.6h10.3m-5.2 -5.2v10.3M676.5 286.3h10.3m-5.2 -5.2v10.3M676.5 287.1h10.3m-5.2 -5.2v10.3M677.3 285.7h10.3m-5.2 -5.2v10.3M677.3 286.5h10.3m-5.2 -5.2v10.3M678.3 285.0h10.3m-5.2 -5.2v10.3M678.3 285.9h10.3m-5.2 -5.2v10.3M679.3 284.3h10.3m-5.2 -5.2v10.3M679.3 285.2h10.3m-5.2 -5.2v10.3M680.2 283.5h10.3m-5.2 -5.2v10.3M680.2 284.5h10.3m-5.2 -5.2v10.3M681.1 282.8h10.3m-5.2 -5.2v10.3M681.1 283.8h10.3m-5.2 -5.2v10.3M682.0 282.1h10.3m-5.2 -5.2v10.3M682.0 283.1h10.3m-5.2 -5.2v10.3M682.8 281.4h10.3m-5.2 -5.2v10.3M682.8 282.4h10.3m-5.2 -5.2v10.3M683.7 280.8h10.3m-5.2 -5.2v10.3M683.7 281.7h10.3m-5.2 -5.2v10.3M684.5 280.1h10.3m-5.2 -5.2v10.3M684.5 281.1h10.3m-5.2 -5.2v10.3M685.4 279.4h10.3m-5.2 -5.2v10.3M685.4 280.4h10.3m-5.2 -5.2v10.3M686.4 278.7h10.3m-5.2 -5.2v10.3M686.4 279.7h10.3m-5.2 -5.2v10.3M687.3 278.0h10.3m-5.2 -5.2v10.3M687.3 279.1h10.3m-5.2 -5.2v10.3M688.1 277.4h10.3m-5.2 -5.2v10.3M688.1 278.5h10.3m-5.2 -5.2v10.3M689.0 276.8h10.3m-5.2 -5.2v10.3M689.0 277.9h10.3m-5.2 -5.2v10.3M689.8 276.3h10.3m-5.2 -5.2v10.3M689.8 277.4h10.3m-5.2 -5.2v10.3M690.7 275.8h10.3m-5.2 -5.2v10.3M690.7 276.9h10.3m-5.2 -5.2v10.3M691.6 275.2h10.3m-5.2 -5.2v10.3M691.6 276.3h10.3m-5.2 -5.2v10.3M692.5 274.6h10.3m-5.2 -5.2v10.3M692.5 275.7h10.3m-5.2 -5.2v10.3M693.4 274.0h10.3m-5.2 -5.2v10.3M693.4 275.2h10.3m-5.2 -5.2v10.3M694.2 273.4h10.3m-5.2 -5.2v10.3M694.2 274.6h10.3m-5.2 -5.2v10.3M695.1 272.8h10.3m-5.2 -5.2v10.3M695.1 274.0h10.3m-5.2 -5.2v10.3M695.9 272.2h10.3m-5.2 -5.2v10.3M695.9 273.4h10.3m-5.2 -5.2v10.3M696.8 271.5h10.3m-5.2 -5.2v10.3M696.8 272.7h10.3m-5.2 -5.2v10.3M697.7 270.8h10.3m-5.2 -5.2v10.3M697.7 272.0h10.3m-5.2 -5.2v10.3M698.6 270.1h10.3m-5.2 -5.2v10.3M698.6 271.4h10.3m-5.2 -5.2v10.3M699.4 269.4h10.3m-5.2 -5.2v10.3M699.4 270.7h10.3m-5.2 -5.2v10.3M700.2 268.7h10.3m-5.2 -5.2v10.3M700.2 270.0h10.3m-5.2 -5.2v10.3M701.0 268.1h10.3m-5.2 -5.2v10.3M701.0 269.4h10.3m-5.2 -5.2v10.3M701.9 267.3h10.3m-5.2 -5.2v10.3M701.9 268.7h10.3m-5.2 -5.2v10.3M702.8 266.7h10.3m-5.2 -5.2v10.3M702.8 268.0h10.3m-5.2 -5.2v10.3M703.6 266.1h10.3m-5.2 -5.2v10.3M703.6 267.4h10.3m-5.2 -5.2v10.3M704.4 265.5h10.3m-5.2 -5.2v10.3M704.4 266.9h10.3m-5.2 -5.2v10.3M705.3 264.9h10.3m-5.2 -5.2v10.3M705.3 266.3h10.3m-5.2 -5.2v10.3M706.2 264.3h10.3m-5.2 -5.2v10.3M706.2 265.7h10.3m-5.2 -5.2v10.3M707.0 263.8h10.3m-5.2 -5.2v10.3M707.0 265.2h10.3m-5.2 -5.2v10.3M707.9 263.3h10.3m-5.2 -5.2v10.3M707.9 264.7h10.3m-5.2 -5.2v10.3M708.7 262.8h10.3m-5.2 -5.2v10.3M708.7 264.2h10.3m-5.2 -5.2v10.3M709.5 262.2h10.3m-5.2 -5.2v10.3M709.5 263.7h10.3m-5.2 -5.2v10.3M710.4 261.7h10.3m-5.2 -5.2v10.3M710.4 263.2h10.3m-5.2 -5.2v10.3M711.2 261.1h10.3m-5.2 -5.2v10.3M711.2 262.7h10.3m-5.2 -5.2v10.3M712.0 260.6h10.3m-5.2 -5.2v10.3M712.0 262.1h10.3m-5.2 -5.2v10.3M712.8 259.9h10.3m-5.2 -5.2v10.3M712.8 261.5h10.3m-5.2 -5.2v10.3M713.7 259.3h10.3m-5.2 -5.2v10.3M713.7 260.9h10.3m-5.2 -5.2v10.3M714.5 258.6h10.3m-5.2 -5.2v10.3M714.5 260.2h10.3m-5.2 -5.2v10.3M715.3 257.9h10.3m-5.2 -5.2v10.3M715.3 259.6h10.3m-5.2 -5.2v10.3M716.2 257.2h10.3m-5.2 -5.2v10.3M716.2 258.9h10.3m-5.2 -5.2v10.3M717.0 256.6h10.3m-5.2 -5.2v10.3M717.0 258.2h10.3m-5.2 -5.2v10.3M717.9 255.8h10.3m-5.2 -5.2v10.3M717.9 257.5h10.3m-5.2 -5.2v10.3M718.7 255.2h10.3m-5.2 -5.2v10.3M718.7 256.8h10.3m-5.2 -5.2v10.3M719.5 254.5h10.3m-5.2 -5.2v10.3M719.5 256.2h10.3m-5.2 -5.2v10.3M720.4 253.9h10.3m-5.2 -5.2v10.3M720.4 255.6h10.3m-5.2 -5.2v10.3M721.2 253.3h10.3m-5.2 -5.2v10.3M721.2 255.0h10.3m-5.2 -5.2v10.3M722.0 252.7h10.3m-5.2 -5.2v10.3M722.0 254.5h10.3m-5.2 -5.2v10.3M722.9 252.2h10.3m-5.2 -5.2v10.3M722.9 253.9h10.3m-5.2 -5.2v10.3M723.7 251.6h10.3m-5.2 -5.2v10.3M723.7 253.4h10.3m-5.2 -5.2v10.3M724.5 251.1h10.3m-5.2 -5.2v10.3M724.5 252.9h10.3m-5.2 -5.2v10.3M725.3 250.6h10.3m-5.2 -5.2v10.3M725.3 252.4h10.3m-5.2 -5.2v10.3M726.2 250.1h10.3m-5.2 -5.2v10.3M726.2 251.9h10.3m-5.2 -5.2v10.3M727.0 249.5h10.3m-5.2 -5.2v10.3M727.0 251.4h10.3m-5.2 -5.2v10.3M727.8 249.0h10.3m-5.2 -5.2v10.3M727.8 250.8h10.3m-5.2 -5.2v10.3M728.6 248.4h10.3m-5.2 -5.2v10.3M728.6 250.3h10.3m-5.2 -5.2v10.3M729.5 247.8h10.3m-5.2 -5.2v10.3M729.5 249.7h10.3m-5.2 -5.2v10.3M730.3 247.2h10.3m-5.2 -5.2v10.3M730.3 249.1h10.3m-5.2 -5.2v10.3M731.1 246.6h10.3m-5.2 -5.2v10.3M731.1 248.5h10.3m-5.2 -5.2v10.3M731.9 245.9h10.3m-5.2 -5.2v10.3M731.9 247.9h10.3m-5.2 -5.2v10.3M732.8 245.2h10.3m-5.2 -5.2v10.3M732.8 247.2h10.3m-5.2 -5.2v10.3M733.6 244.6h10.3m-5.2 -5.2v10.3M733.6 246.6h10.3m-5.2 -5.2v10.3M734.4 243.9h10.3m-5.2 -5.2v10.3M734.4 245.9h10.3m-5.2 -5.2v10.3M735.2 243.3h10.3m-5.2 -5.2v10.3M735.2 245.3h10.3m-5.2 -5.2v10.3M736.0 242.6h10.3m-5.2 -5.2v10.3M736.0 244.6h10.3m-5.2 -5.2v10.3M736.8 242.0h10.3m-5.2 -5.2v10.3M736.8 244.0h10.3m-5.2 -5.2v10.3M737.7 241.4h10.3m-5.2 -5.2v10.3M737.7 243.4h10.3m-5.2 -5.2v10.3M738.5 240.9h10.3m-5.2 -5.2v10.3M738.5 242.9h10.3m-5.2 -5.2v10.3M739.3 240.3h10.3m-5.2 -5.2v10.3M739.3 242.3h10.3m-5.2 -5.2v10.3M740.1 239.8h10.3m-5.2 -5.2v10.3M740.1 241.8h10.3m-5.2 -5.2v10.3M740.9 239.2h10.3m-5.2 -5.2v10.3M740.9 241.2h10.3m-5.2 -5.2v10.3M741.8 238.7h10.3m-5.2 -5.2v10.3M741.8 240.7h10.3m-5.2 -5.2v10.3M742.6 238.2h10.3m-5.2 -5.2v10.3M742.6 240.2h10.3m-5.2 -5.2v10.3M743.4 237.6h10.3m-5.2 -5.2v10.3M743.4 239.6h10.3m-5.2 -5.2v10.3M744.2 237.1h10.3m-5.2 -5.2v10.3M744.2 239.1h10.3m-5.2 -5.2v10.3M745.0 236.5h10.3m-5.2 -5.2v10.3M745.0 238.5h10.3m-5.2 -5.2v10.3M745.8 236.0h10.3m-5.2 -5.2v10.3M745.8 238.0h10.3m-5.2 -5.2v10.3M746.6 235.4h10.3m-5.2 -5.2v10.3M746.6 237.4h10.3m-5.2 -5.2v10.3M747.4 234.8h10.3m-5.2 -5.2v10.3M747.4 236.8h10.3m-5.2 -5.2v10.3M748.3 234.2h10.3m-5.2 -5.2v10.3M748.3 236.2h10.3m-5.2 -5.2v10.3M749.1 233.5h10.3m-5.2 -5.2v10.3M749.1 235.5h10.3m-5.2 -5.2v10.3M749.9 232.9h10.3m-5.2 -5.2v10.3M749.9 234.9h10.3m-5.2 -5.2v10.3M750.7 232.3h10.3m-5.2 -5.2v10.3M750.7 234.3h10.3m-5.2 -5.2v10.3M751.5 231.7h10.3m-5.2 -5.2v10.3M751.5 233.7h10.3m-5.2 -5.2v10.3M752.3 231.1h10.3m-5.2 -5.2v10.3M752.3 233.1h10.3m-5.2 -5.2v10.3M753.1 230.5h10.3m-5.2 -5.2v10.3M753.1 232.5h10.3m-5.2 -5.2v10.3M753.9 229.9h10.3m-5.2 -5.2v10.3M753.9 231.9h10.3m-5.2 -5.2v10.3M754.7 229.3h10.3m-5.2 -5.2v10.3M754.7 231.3h10.3m-5.2 -5.2v10.3M755.5 228.7h10.3m-5.2 -5.2v10.3M755.5 230.7h10.3m-5.2 -5.2v10.3M756.4 228.2h10.3m-5.2 -5.2v10.3M756.4 230.2h10.3m-5.2 -5.2v10.3M757.2 227.6h10.3m-5.2 -5.2v10.3M757.2 229.6h10.3m-5.2 -5.2v10.3M758.0 227.0h10.3m-5.2 -5.2v10.3M758.0 229.0h10.3m-5.2 -5.2v10.3M758.8 226.5h10.3m-5.2 -5.2v10.3M758.8 228.5h10.3m-5.2 -5.2v10.3M759.6 225.9h10.3m-5.2 -5.2v10.3M759.6 227.9h10.3m-5.2 -5.2v10.3M760.4 225.4h10.3m-5.2 -5.2v10.3M760.4 227.4h10.3m-5.2 -5.2v10.3M761.2 224.8h10.3m-5.2 -5.2v10.3M761.2 226.8h10.3m-5.2 -5.2v10.3M762.0 224.3h10.3m-5.2 -5.2v10.3M762.0 226.3h10.3m-5.2 -5.2v10.3M762.8 223.7h10.3m-5.2 -5.2v10.3M762.8 225.7h10.3m-5.2 -5.2v10.3M763.6 223.1h10.3m-5.2 -5.2v10.3M763.6 225.1h10.3m-5.2 -5.2v10.3M764.4 222.6h10.3m-5.2 -5.2v10.3M764.4 224.6h10.3m-5.2 -5.2v10.3M765.3 222.0h10.3m-5.2 -5.2v10.3M765.3 224.0h10.3m-5.2 -5.2v10.3M766.1 221.4h10.3m-5.2 -5.2v10.3M766.1 223.4h10.3m-5.2 -5.2v10.3M766.9 220.8h10.3m-5.2 -5.2v10.3M766.9 222.8h10.3m-5.2 -5.2v10.3M767.7 220.3h10.3m-5.2 -5.2v10.3M767.7 222.3h10.3m-5.2 -5.2v10.3M768.5 219.7h10.3m-5.2 -5.2v10.3M768.5 221.7h10.3m-5.2 -5.2v10.3M769.3 219.1h10.3m-5.2 -5.2v10.3M769.3 221.1h10.3m-5.2 -5.2v10.3M770.1 218.5h10.3m-5.2 -5.2v10.3M770.1 220.5h10.3m-5.2 -5.2v10.3M770.9 217.9h10.3m-5.2 -5.2v10.3M770.9 219.9h10.3m-5.2 -5.2v10.3M771.7 217.3h10.3m-5.2 -5.2v10.3M771.7 219.3h10.3m-5.2 -5.2v10.3M772.5 216.7h10.3m-5.2 -5.2v10.3M772.5 218.7h10.3m-5.2 -5.2v10.3M773.3 216.0h10.3m-5.2 -5.2v10.3M773.3 218.0h10.3m-5.2 -5.2v10.3M774.1 215.4h10.3m-5.2 -5.2v10.3M774.1 217.4h10.3m-5.2 -5.2v10.3M774.9 214.8h10.3m-5.2 -5.2v10.3M774.9 216.8h10.3m-5.2 -5.2v10.3M775.7 214.2h10.3m-5.2 -5.2v10.3M775.7 216.2h10.3m-5.2 -5.2v10.3M776.5 213.6h10.3m-5.2 -5.2v10.3M776.5 215.6h10.3m-5.2 -5.2v10.3M777.3 213.0h10.3m-5.2 -5.2v10.3M777.3 215.0h10.3m-5.2 -5.2v10.3M778.1 212.5h10.3m-5.2 -5.2v10.3M778.1 214.5h10.3m-5.2 -5.2v10.3M778.9 211.9h10.3m-5.2 -5.2v10.3M778.9 213.9h10.3m-5.2 -5.2v10.3M779.8 211.4h10.3m-5.2 -5.2v10.3M779.8 213.4h10.3m-5.2 -5.2v10.3M780.6 210.9h10.3m-5.2 -5.2v10.3M780.6 212.9h10.3m-5.2 -5.2v10.3M781.4 210.4h10.3m-5.2 -5.2v10.3M781.4 212.4h10.3m-5.2 -5.2v10.3M782.2 209.9h10.3m-5.2 -5.2v10.3M782.2 211.9h10.3m-5.2 -5.2v10.3M783.0 209.4h10.3m-5.2 -5.2v10.3M783.0 211.4h10.3m-5.2 -5.2v10.3M783.8 208.9h10.3m-5.2 -5.2v10.3M783.8 210.9h10.3m-5.2 -5.2v10.3M784.6 208.4h10.3m-5.2 -5.2v10.3M784.6 210.4h10.3m-5.2 -5.2v10.3M785.4 207.9h10.3m-5.2 -5.2v10.3M785.4 209.9h10.3m-5.2 -5.2v10.3M786.2 207.3h10.3m-5.2 -5.2v10.3M786.2 209.3h10.3m-5.2 -5.2v10.3M787.0 206.7h10.3m-5.2 -5.2v10.3M787.0 208.7h10.3m-5.2 -5.2v10.3M787.8 206.1h10.3m-5.2 -5.2v10.3M787.8 208.1h10.3m-5.2 -5.2v10.3M788.6 205.4h10.3m-5.2 -5.2v10.3M788.6 207.4h10.3m-5.2 -5.2v10.3M789.4 204.7h10.3m-5.2 -5.2v10.3M789.4 206.7h10.3m-5.2 -5.2v10.3M790.2 204.0h10.3m-5.2 -5.2v10.3M790.2 206.0h10.3m-5.2 -5.2v10.3M791.0 203.3h10.3m-5.2 -5.2v10.3M791.0 205.3h10.3m-5.2 -5.2v10.3M791.8 202.6h10.3m-5.2 -5.2v10.3M791.8 204.6h10.3m-5.2 -5.2v10.3M792.3 202.1h10.3m-5.2 -5.2v10.3M792.3 204.1h10.3m-5.2 -5.2v10.3"/>
</g>
<path d="M160.3 558.1L876.9 45.6" stroke="#F8766D" stroke-width="2.5" fill="none"/>
<path d="M160.3 592.0L876.9 79.5" stroke="#7CAE00" stroke-width="2.5" fill="none"/>
<path d="M160.3 625.8L876.9 113.3" stroke="#00BFC4" stroke-width="2.5" fill="none"/>
<path d="M160.3 659.6L876.9 147.1" stroke="#C77CFF" stroke-width="2.5" fill="none"/>
<g fill="#4D4D4D">
<text transform="translate(149.40 194.20) scale(0.907 1)" font-size="34" text-anchor="end">1e<tspan dy="3.3">+</tspan><tspan dy="-3.3">02</tspan></text>
<text transform="translate(149.40 419.25) scale(0.907 1)" font-size="34" text-anchor="end">1e<tspan dy="3.3">+</tspan><tspan dy="-3.3">00</tspan></text>
<text transform="translate(149.40 644.30) scale(0.907 1)" font-size="34" text-anchor="end">1e<tspan dy="3.3">−</tspan><tspan dy="-3.3">02</tspan></text>
<text transform="translate(350.30 818.10) scale(0.907 1)" font-size="34" text-anchor="middle">1e<tspan dy="3.3">+</tspan><tspan dy="-3.3">00</tspan></text>
<text transform="translate(585.81 818.10) scale(0.907 1)" font-size="34" text-anchor="middle">1e<tspan dy="3.3">+</tspan><tspan dy="-3.3">03</tspan></text>
<text transform="translate(822.22 818.10) scale(0.907 1)" font-size="34" text-anchor="middle">1e<tspan dy="3.3">+</tspan><tspan dy="-3.3">06</tspan></text>
</g>
<g fill="#000">
<text transform="translate(475.20 862.70) scale(1.0 1)" font-size="30" text-anchor="start">n</text>
<text transform="translate(500.20 862.70) scale(1.0 1)" font-size="36" text-anchor="start" style="font-family:'Liberation Serif',serif">η</text>
<text transform="translate(519.70 846.50) scale(1.05 1)" font-size="23" text-anchor="start">2</text>
<text transform="translate(531.80 862.70) scale(1.0 1)" font-size="30.5" text-anchor="start">σ</text>
<text transform="translate(551.20 846.50) scale(1.05 1)" font-size="23" text-anchor="start">2</text>
<text transform="translate(42.3 455.6) rotate(-90) scale(0.907 1)" font-size="34">||</text>
<text transform="translate(42.3 442.6) rotate(-90) scale(1.0 1)" font-size="34">θ</text>
<text transform="translate(42.3 423.3) rotate(-90) scale(0.907 1)" font-size="34">|| /</text>
<text transform="translate(42.3 364.1) rotate(-90) scale(0.907 1)" font-size="34">D</text>
<path d="M32.3 381.2L30 377.3L41.8 372.6L11.8 367.8V339.5" fill="none" stroke="#000" stroke-width="1.6" stroke-linejoin="miter"/>
<path d="M15 440.6V422.8" fill="none" stroke="#000" stroke-width="1.6"/>
</g>
<g fill="#000">
<text transform="translate(263.30 141.80) scale(1.0 1)" font-size="30.5" text-anchor="start">σ</text>
<text transform="translate(264.10 284.50) scale(0.907 1)" font-size="34" text-anchor="start">K</text>
<text transform="translate(346.10 120.50) scale(0.907 1)" font-size="34" text-anchor="start">0.1</text>
<text transform="translate(346.30 170.50) scale(0.907 1)" font-size="34" text-anchor="start">1</text>
<text transform="translate(452.50 120.50) scale(0.907 1)" font-size="34" text-anchor="start">5</text>
<text transform="translate(453.20 170.50) scale(0.907 1)" font-size="34" text-anchor="start">10</text>
<text transform="translate(348.00 260.00) scale(0.907 1)" font-size="34" text-anchor="start">10</text>
<text transform="translate(347.80 310.50) scale(0.907 1)" font-size="34" text-anchor="start">20</text>
<text transform="translate(446.20 260.00) scale(0.907 1)" font-size="34" text-anchor="start">40</text>
<text transform="translate(446.20 310.50) scale(0.907 1)" font-size="34" text-anchor="start">80</text>
</g>
<g fill="#000" fill-opacity="0.7"><circle cx="314.3" cy="108.9" r="3.475"/><path d="M314.5 155.3l4.21 7.30h-8.42z"/><rect x="418.1" y="105.8" width="6.5" height="6.5"/></g>
<g fill="none" stroke="#000" stroke-width="1.55" stroke-opacity="0.7"><path d="M416.1 160.3h10.30M421.2 155.2v10.30"/></g>
<path d="M300.8 248.0h31.2" stroke="#F8766D" stroke-width="2.4" fill="none"/>
<circle cx="316.4" cy="248.0" r="3.475" fill="#F8766D" fill-opacity="0.7"/>
<path d="M300.8 298.8h31.2" stroke="#7CAE00" stroke-width="2.4" fill="none"/>
<circle cx="316.4" cy="298.8" r="3.475" fill="#7CAE00" fill-opacity="0.7"/>
<path d="M398.9 248.0h31.2" stroke="#00BFC4" stroke-width="2.4" fill="none"/>
<circle cx="414.5" cy="248.0" r="3.475" fill="#00BFC4" fill-opacity="0.7"/>
<path d="M398.9 298.8h31.2" stroke="#C77CFF" stroke-width="2.4" fill="none"/>
<circle cx="414.5" cy="298.8" r="3.475" fill="#C77CFF" fill-opacity="0.7"/>
</svg></body></html>
